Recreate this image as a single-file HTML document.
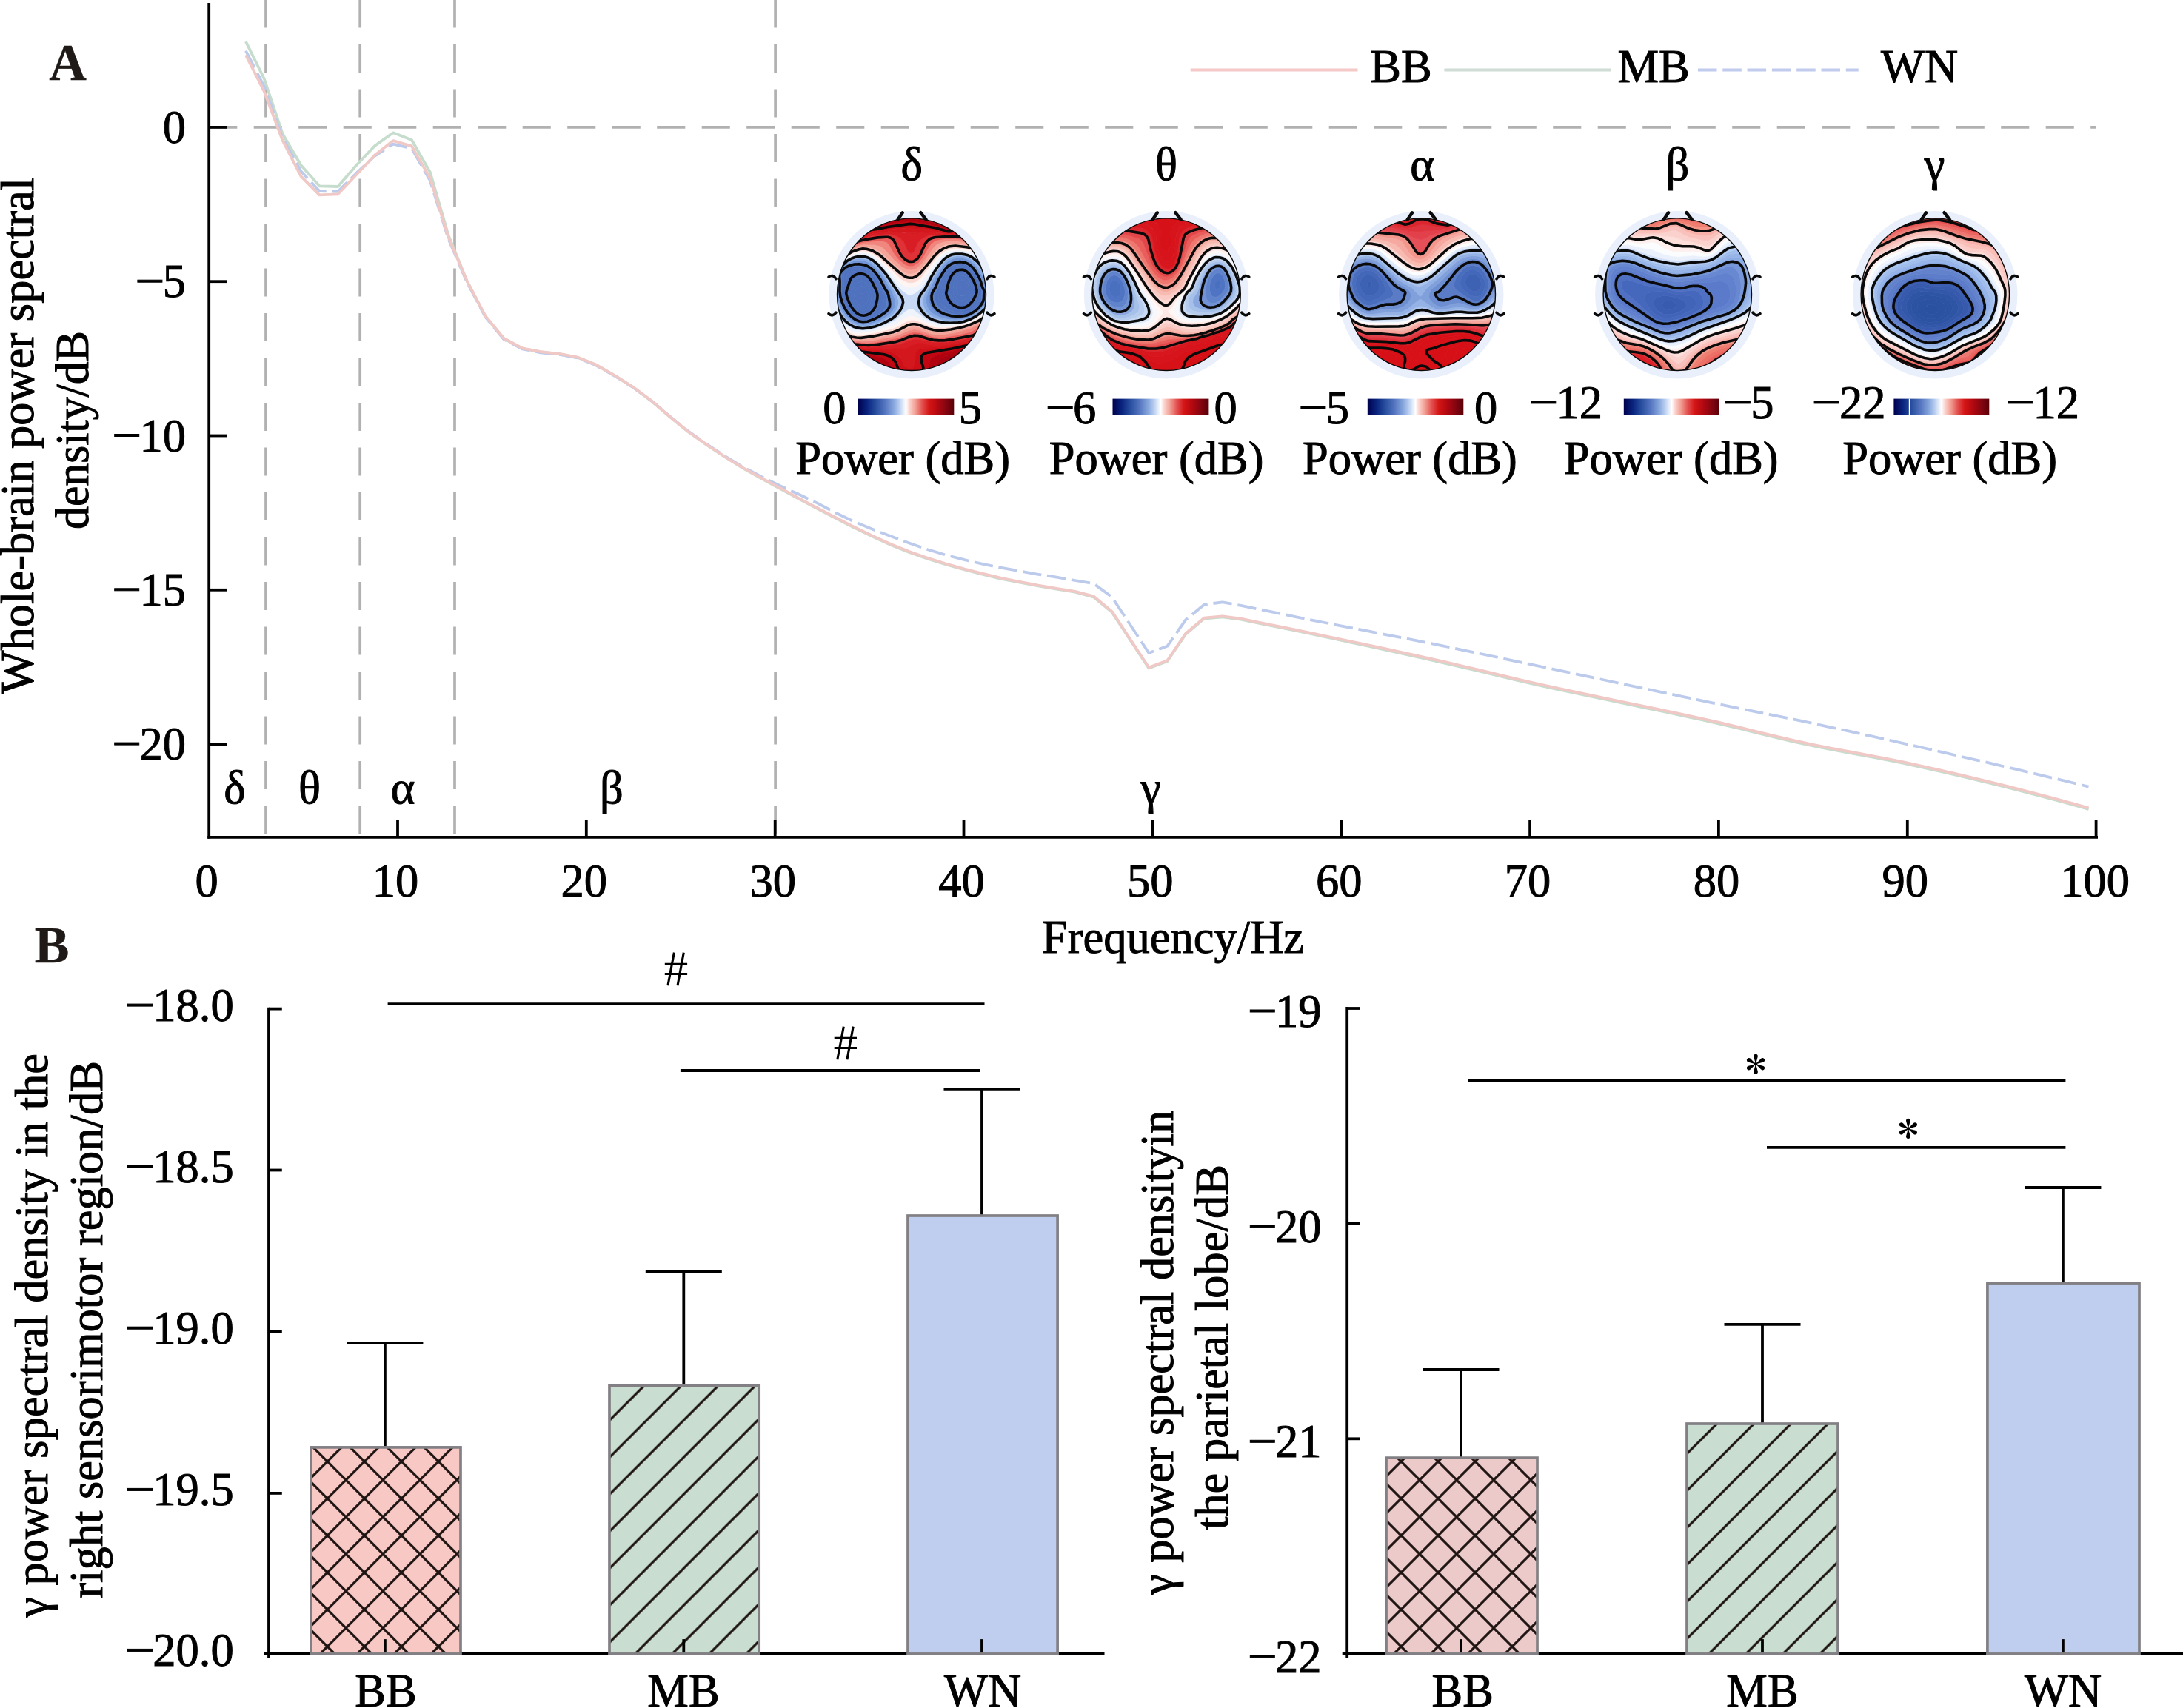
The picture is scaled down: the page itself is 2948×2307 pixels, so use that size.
<!DOCTYPE html>
<html><head><meta charset="utf-8"><title>Figure</title>
<style>html,body{margin:0;padding:0;background:#fff;}svg{display:block;}text{font-family:"Liberation Serif",serif;}</style>
</head><body>
<svg width="2948" height="2307" viewBox="0 0 2948 2307">
<rect width="2948" height="2307" fill="#fff"/>
<g fill="none" stroke="#b1b1b1" stroke-width="3.7" stroke-dasharray="38.1 22.4">
<path d="M282.2 171.9 H2831"/>
<path d="M359.0 -0.6 V1126.7"/>
<path d="M486.2 -0.6 V1126.7"/>
<path d="M614.0 -0.6 V1126.7"/>
<path d="M1047.1 -0.6 V1126.7"/>
</g>
<path d="M331.9 56.1 L356.8 106.5 L381.7 181.0 L406.5 223.3 L431.4 251.3 L456.3 252.0 L481.2 223.3 L506.1 197.0 L531.0 179.3 L555.9 189.0 L580.8 232.5 L605.6 318.0 L630.5 379.3 L655.4 427.1 L680.3 457.3 L705.2 470.6 L730.1 475.4 L755.0 478.1 L779.9 482.8 L804.7 492.8 L829.6 507.1 L854.5 522.8 L879.4 541.4 L904.3 562.8 L929.2 583.0 L954.1 600.7 L979.0 617.2 L1003.8 632.6 L1028.7 646.5 L1053.6 660.1 L1078.5 673.7 L1103.4 686.9 L1128.3 699.9 L1153.2 712.5 L1178.1 724.6 L1202.9 735.9 L1227.8 746.0 L1252.7 754.6 L1277.6 762.4 L1302.5 769.5 L1327.4 775.8 L1352.3 781.8 L1377.2 786.7 L1402.0 791.5 L1426.9 795.7 L1451.8 799.7 L1476.7 806.3 L1501.6 826.9 L1526.5 864.7 L1551.4 902.5 L1576.3 893.3 L1601.1 856.7 L1626.0 835.6 L1650.9 833.3 L1675.8 836.7 L1700.7 841.8 L1725.6 846.8 L1750.5 852.0 L1775.4 857.2 L1800.2 862.5 L1825.1 867.8 L1850.0 873.2 L1874.9 878.6 L1899.8 884.1 L1924.7 889.7 L1949.6 895.3 L1974.5 901.1 L1999.4 907.0 L2024.2 913.0 L2049.1 918.9 L2074.0 924.6 L2098.9 930.1 L2123.8 935.5 L2148.7 940.7 L2173.6 945.9 L2198.5 951.1 L2223.3 956.3 L2248.2 961.5 L2273.1 966.8 L2298.0 972.2 L2322.9 977.8 L2347.8 983.7 L2372.7 989.9 L2397.6 996.0 L2422.4 1001.8 L2447.3 1007.2 L2472.2 1012.1 L2497.1 1016.8 L2522.0 1021.4 L2546.9 1026.1 L2571.8 1031.2 L2596.7 1036.6 L2621.5 1042.2 L2646.4 1048.0 L2671.3 1053.9 L2696.2 1060.0 L2721.1 1066.2 L2746.0 1072.6 L2770.9 1079.2 L2795.8 1086.0 L2820.6 1092.9" fill="none" stroke="#c6dccd" stroke-width="3.8" stroke-linejoin="round"/>
<path d="M331.9 68.7 L356.8 116.8 L381.7 186.7 L406.5 231.3 L431.4 258.1 L456.3 258.8 L481.2 234.0 L506.1 210.7 L531.0 194.7 L555.9 200.4 L580.8 243.9 L605.6 323.0 L630.5 380.9 L655.4 428.0 L680.3 458.2 L705.2 471.4 L730.1 476.3 L755.0 478.8 L779.9 483.3 L804.7 493.3 L829.6 507.5 L854.5 523.0 L879.4 541.0 L904.3 562.2 L929.2 582.2 L954.1 599.8 L979.0 616.2 L1003.8 631.0 L1028.7 644.1 L1053.6 656.3 L1078.5 667.6 L1103.4 679.4 L1128.3 692.5 L1153.2 704.5 L1178.1 714.7 L1202.9 724.3 L1227.8 733.5 L1252.7 742.2 L1277.6 749.7 L1302.5 756.2 L1327.4 761.9 L1352.3 766.8 L1377.2 771.4 L1402.0 775.8 L1426.9 779.7 L1451.8 784.0 L1476.7 788.1 L1501.6 806.4 L1526.5 844.2 L1551.4 882.0 L1576.3 872.8 L1601.1 837.3 L1626.0 816.7 L1650.9 813.3 L1675.8 817.9 L1700.7 822.9 L1725.6 828.2 L1750.5 833.3 L1775.4 838.3 L1800.2 843.2 L1825.1 848.1 L1850.0 852.9 L1874.9 857.8 L1899.8 862.6 L1924.7 867.6 L1949.6 872.6 L1974.5 877.8 L1999.4 883.0 L2024.2 888.3 L2049.1 893.6 L2074.0 898.8 L2098.9 904.1 L2123.8 909.4 L2148.7 914.7 L2173.6 920.0 L2198.5 925.3 L2223.3 930.6 L2248.2 935.8 L2273.1 941.1 L2298.0 946.3 L2322.9 951.5 L2347.8 956.6 L2372.7 961.6 L2397.6 966.6 L2422.4 971.7 L2447.3 976.9 L2472.2 982.3 L2497.1 987.7 L2522.0 993.2 L2546.9 998.7 L2571.8 1004.3 L2596.7 1010.0 L2621.5 1015.6 L2646.4 1021.4 L2671.3 1027.1 L2696.2 1032.9 L2721.1 1038.7 L2746.0 1044.6 L2770.9 1050.6 L2795.8 1056.5 L2820.6 1062.6" fill="none" stroke="#bccaec" stroke-width="3.8" stroke-linejoin="round" stroke-dasharray="25.5 7.8"/>
<path d="M331.9 74.4 L356.8 123.7 L381.7 190.0 L406.5 238.2 L431.4 263.4 L456.3 262.3 L481.2 236.0 L506.1 209.6 L531.0 190.1 L555.9 197.4 L580.8 240.5 L605.6 320.7 L630.5 379.4 L655.4 426.7 L680.3 457.0 L705.2 470.3 L730.1 475.1 L755.0 477.8 L779.9 482.5 L804.7 492.5 L829.6 506.8 L854.5 522.5 L879.4 541.1 L904.3 562.5 L929.2 582.7 L954.1 600.4 L979.0 617.0 L1003.8 632.2 L1028.7 645.8 L1053.6 659.2 L1078.5 672.8 L1103.4 686.0 L1128.3 699.0 L1153.2 711.6 L1178.1 723.7 L1202.9 735.0 L1227.8 745.1 L1252.7 753.7 L1277.6 761.5 L1302.5 768.6 L1327.4 774.9 L1352.3 780.9 L1377.2 785.8 L1402.0 790.6 L1426.9 794.8 L1451.8 798.8 L1476.7 805.3 L1501.6 825.9 L1526.5 863.7 L1551.4 901.5 L1576.3 892.3 L1601.1 855.7 L1626.0 834.6 L1650.9 832.3 L1675.8 835.7 L1700.7 840.8 L1725.6 845.8 L1750.5 850.9 L1775.4 856.1 L1800.2 861.3 L1825.1 866.5 L1850.0 871.8 L1874.9 877.2 L1899.8 882.6 L1924.7 888.1 L1949.6 893.7 L1974.5 899.5 L1999.4 905.4 L2024.2 911.4 L2049.1 917.3 L2074.0 923.0 L2098.9 928.5 L2123.8 933.9 L2148.7 939.1 L2173.6 944.3 L2198.5 949.5 L2223.3 954.7 L2248.2 959.9 L2273.1 965.2 L2298.0 970.6 L2322.9 976.2 L2347.8 982.1 L2372.7 988.3 L2397.6 994.4 L2422.4 1000.2 L2447.3 1005.6 L2472.2 1010.5 L2497.1 1015.2 L2522.0 1019.8 L2546.9 1024.5 L2571.8 1029.6 L2596.7 1035.0 L2621.5 1040.6 L2646.4 1046.4 L2671.3 1052.3 L2696.2 1058.4 L2721.1 1064.6 L2746.0 1071.0 L2770.9 1077.6 L2795.8 1084.4 L2820.6 1091.3" fill="none" stroke="#f0c8c5" stroke-width="3.8" stroke-linejoin="round"/>
<g stroke="#000" stroke-width="3.8" fill="none">
<path d="M282.2 4 V1132.8000000000002"/>
<path d="M280.3 1130.9 H2833"/>
<path d="M282.2 171.9 H306"/>
<path d="M282.2 380.2 H306"/>
<path d="M282.2 588.5 H306"/>
<path d="M282.2 796.8 H306"/>
<path d="M282.2 1005.1 H306"/>
<path d="M537.0 1130.9 V1107"/>
<path d="M791.8 1130.9 V1107"/>
<path d="M1046.7 1130.9 V1107"/>
<path d="M1301.5 1130.9 V1107"/>
<path d="M1556.3 1130.9 V1107"/>
<path d="M1811.2 1130.9 V1107"/>
<path d="M2066.1 1130.9 V1107"/>
<path d="M2320.9 1130.9 V1107"/>
<path d="M2575.8 1130.9 V1107"/>
<path d="M2830.6 1130.9 V1107"/>
</g>
<g font-family="Liberation Serif, serif" font-size="62.5" fill="#000" stroke="#000" stroke-width="1.0">
<text x="219.8" y="192.9">0</text>
<text x="219.8" y="401.2">5</text>
<rect x="185.9" y="378.2" width="33.0" height="3.0" fill="#000"/>
<text x="188.5" y="609.5">10</text>
<rect x="154.7" y="586.5" width="33.0" height="3.0" fill="#000"/>
<text x="188.5" y="817.8">15</text>
<rect x="154.7" y="794.8" width="33.0" height="3.0" fill="#000"/>
<text x="188.5" y="1026.1">20</text>
<rect x="154.7" y="1003.1" width="33.0" height="3.0" fill="#000"/>
<text x="279.1" y="1211.3" text-anchor="middle">0</text>
<text x="534.0" y="1211.3" text-anchor="middle">10</text>
<text x="788.8" y="1211.3" text-anchor="middle">20</text>
<text x="1043.7" y="1211.3" text-anchor="middle">30</text>
<text x="1298.5" y="1211.3" text-anchor="middle">40</text>
<text x="1553.3" y="1211.3" text-anchor="middle">50</text>
<text x="1808.2" y="1211.3" text-anchor="middle">60</text>
<text x="2063.1" y="1211.3" text-anchor="middle">70</text>
<text x="2317.9" y="1211.3" text-anchor="middle">80</text>
<text x="2572.8" y="1211.3" text-anchor="middle">90</text>
<text x="2829.1" y="1211.3" text-anchor="middle">100</text>
<text x="1584" y="1287" text-anchor="middle">Frequency/Hz</text>
<text transform="translate(44.5 937.4) rotate(-90)">Whole-brain power spectral</text>
<text transform="translate(118.8 715) rotate(-90)" textLength="268" lengthAdjust="spacingAndGlyphs">density/dB</text>
<text x="317" y="1085" text-anchor="middle">δ</text>
<text x="418" y="1085" text-anchor="middle">θ</text>
<text x="544" y="1085" text-anchor="middle">α</text>
<text x="826" y="1085" text-anchor="middle">β</text>
<text x="1554" y="1085" text-anchor="middle">γ</text>
<text x="1850.3" y="110.5">BB</text>
<text x="2184.4" y="110.5">MB</text>
<text x="2539.9" y="110.5">WN</text>
</g>
<path d="M1607.7 94.5 H1833.5" stroke="#f5c9c7" stroke-width="3.8"/>
<path d="M1950.4 94.5 H2175.6" stroke="#cfddd6" stroke-width="3.8"/>
<path d="M2293 94.5 H2509.7" stroke="#c0cbee" stroke-width="3.8" stroke-dasharray="25.5 7.8"/>
<g font-family="Liberation Serif, serif" font-size="70" font-weight="bold" fill="#1f1a17" stroke="#1f1a17" stroke-width="0.4">
<text x="66.3" y="108">A</text>
<text x="46.8" y="1299.8">B</text>
</g>
<clipPath id="t1c"><ellipse cx="1231" cy="397.7" rx="100.5" ry="102.8"/></clipPath>
<ellipse cx="1231" cy="398.2" rx="111.5" ry="113.3" fill="#e9f0fb"/>
<g clip-path="url(#t1c)">
<rect x="1128.5" y="292.9" width="205.0" height="209.6" fill="#dce7fa"/>
<path d="M1299.0 387.7 1300.2 387.7 1300.7 388.4 1300.2 389.8 1298.9 389.7 1299.0 387.7ZM1162.8 395.9 1164.0 396.2 1165.3 398.4 1165.2 400.1 1164.0 402.1 1162.7 402.1 1161.5 401.1 1161.0 399.6 1161.3 397.1 1162.8 395.9Z" fill="#4f71be" stroke="#4f71be" stroke-width="0.7"/>
<path d="M1297.8 377.9 1301.5 378.2 1304.0 379.8 1306.8 383.4 1308.7 388.4 1308.6 392.1 1306.6 395.9 1304.0 398.3 1300.2 399.6 1296.5 398.9 1294.1 397.1 1292.4 394.6 1291.3 390.9 1291.4 387.1 1292.8 382.7 1295.2 379.3 1297.8 377.9ZM1298.6 388.4 1299.0 389.8 1300.4 389.6 1300.7 388.4 1300.2 387.7 1299.0 387.7 1298.6 388.4ZM1161.5 387.0 1165.2 387.1 1168.8 389.6 1171.2 393.4 1172.6 398.4 1172.5 403.4 1170.9 408.4 1168.3 412.1 1165.2 413.6 1161.5 412.7 1158.1 409.6 1155.0 404.6 1153.6 399.6 1153.9 395.9 1155.4 392.1 1157.8 389.2 1161.5 387.0ZM1162.7 395.9 1161.3 397.1 1161.0 399.6 1161.5 401.1 1162.7 402.1 1164.0 402.1 1165.2 400.1 1165.3 398.4 1164.0 396.2 1162.7 395.9Z" fill="#4f71be" stroke="#4f71be" stroke-width="0.7"/>
<path d="M1297.8 372.1 1300.2 372.2 1302.8 373.2 1307.1 377.1 1311.5 384.5 1313.1 390.9 1311.9 395.9 1308.3 400.9 1304.0 404.4 1299.0 405.8 1295.2 405.0 1291.2 402.1 1288.0 397.1 1286.9 392.1 1287.6 384.6 1289.9 378.4 1294.0 373.6 1297.8 372.1ZM1296.6 378.4 1294.0 380.7 1292.0 384.6 1291.3 388.4 1291.6 392.1 1292.8 395.3 1295.2 398.2 1297.8 399.4 1301.5 399.4 1305.2 397.3 1307.5 394.6 1308.8 390.9 1308.5 387.1 1306.5 382.8 1302.8 378.9 1299.0 377.7 1296.6 378.4ZM1161.5 380.5 1164.0 380.3 1166.5 380.8 1170.2 383.5 1174.3 389.6 1177.0 397.1 1176.8 404.6 1174.5 412.1 1171.0 417.1 1169.0 418.6 1166.5 419.4 1164.0 419.3 1161.5 418.5 1156.5 414.3 1152.0 407.1 1149.5 399.6 1149.7 394.6 1152.8 387.9 1156.5 383.3 1161.5 380.5ZM1161.2 387.1 1157.8 389.2 1155.2 392.5 1153.7 397.1 1153.8 400.9 1155.6 405.9 1159.0 410.7 1162.8 413.3 1165.2 413.6 1168.3 412.1 1170.9 408.4 1172.5 403.4 1172.6 398.4 1171.2 393.4 1167.8 388.6 1164.0 386.8 1161.2 387.1Z" fill="#4f72bf" stroke="#4f72bf" stroke-width="0.7"/>
<path d="M1295.2 368.1 1299.0 367.6 1301.5 368.2 1306.5 371.6 1309.9 375.9 1312.8 380.6 1315.2 386.4 1316.3 390.9 1315.7 395.9 1310.3 404.6 1305.2 409.1 1300.2 411.0 1296.5 411.0 1294.0 410.3 1289.1 407.1 1285.2 402.1 1282.8 395.9 1282.7 392.1 1283.5 385.9 1286.3 377.1 1290.2 371.4 1292.8 369.3 1295.2 368.1ZM1297.3 372.1 1295.2 372.9 1292.8 374.6 1289.9 378.4 1287.6 384.6 1286.9 392.1 1288.0 397.1 1291.2 402.1 1295.2 405.0 1299.0 405.8 1304.0 404.4 1308.3 400.9 1311.9 395.9 1313.1 390.9 1311.5 384.5 1309.0 379.8 1306.5 376.5 1304.0 374.1 1301.5 372.6 1297.3 372.1ZM1161.5 374.6 1165.2 374.7 1167.8 375.5 1172.8 379.7 1175.3 383.4 1179.5 392.1 1181.3 398.4 1181.1 402.1 1179.9 408.4 1177.0 415.9 1172.8 420.9 1170.2 422.4 1166.5 423.3 1164.0 423.2 1160.2 421.9 1157.2 419.6 1154.0 416.1 1148.8 407.1 1146.5 401.1 1145.7 397.1 1146.5 392.9 1150.0 384.6 1152.2 380.9 1156.5 376.8 1161.5 374.6ZM1160.3 380.9 1156.4 383.4 1152.4 388.4 1149.7 394.6 1149.5 399.6 1152.0 407.1 1156.5 414.3 1161.5 418.5 1164.0 419.3 1166.5 419.4 1169.0 418.6 1171.0 417.1 1174.5 412.1 1176.8 404.6 1177.0 397.1 1174.3 389.6 1170.2 383.5 1167.8 381.5 1165.2 380.4 1162.8 380.3 1160.3 380.9Z" fill="#4f72bf" stroke="#4f72bf" stroke-width="0.7"/>
<path d="M1295.2 364.5 1299.0 364.2 1301.6 364.6 1305.2 366.7 1308.5 369.6 1312.1 374.6 1315.2 380.2 1318.0 387.1 1319.0 392.1 1318.4 397.1 1312.8 407.6 1306.5 413.4 1304.0 414.7 1300.2 415.5 1296.5 415.5 1292.8 414.7 1289.0 413.0 1286.0 410.9 1283.5 408.4 1281.0 404.6 1278.5 399.6 1277.7 395.9 1280.4 383.4 1284.0 374.1 1289.0 367.7 1291.6 365.9 1295.2 364.5ZM1294.6 368.4 1292.3 369.6 1289.6 372.1 1285.8 378.4 1283.3 387.1 1282.8 395.9 1285.2 402.1 1289.1 407.1 1294.0 410.3 1296.5 411.0 1300.2 411.0 1305.2 409.1 1310.3 404.6 1315.7 395.9 1316.3 390.9 1315.2 386.4 1312.8 380.6 1309.9 375.9 1306.5 371.6 1304.0 369.5 1300.2 367.8 1297.8 367.6 1294.6 368.4ZM1161.5 369.6 1165.2 370.0 1169.0 371.4 1171.8 373.4 1175.2 377.1 1178.4 382.1 1183.8 393.4 1185.1 398.4 1184.8 403.4 1183.2 410.9 1180.5 417.1 1177.5 420.9 1174.0 423.8 1170.2 425.5 1166.5 426.2 1162.8 425.8 1159.0 424.3 1156.0 422.1 1152.6 418.4 1149.2 413.4 1146.5 408.2 1143.7 400.9 1142.7 395.9 1147.8 379.0 1149.2 375.9 1151.5 373.6 1155.2 371.4 1157.8 370.3 1161.5 369.6ZM1161.3 374.6 1156.5 376.8 1152.2 380.9 1150.0 384.6 1146.5 392.9 1145.7 397.1 1146.5 401.1 1148.8 407.1 1154.0 416.1 1157.2 419.6 1160.2 421.9 1164.0 423.2 1166.5 423.3 1170.2 422.4 1172.8 420.9 1177.0 415.9 1179.9 408.4 1181.1 402.1 1181.3 398.4 1179.5 392.1 1175.3 383.4 1172.8 379.7 1167.8 375.5 1164.0 374.5 1161.3 374.6Z" fill="#4f72bf" stroke="#4f72bf" stroke-width="0.7"/>
<path d="M1292.8 362.1 1297.8 361.4 1301.5 361.8 1305.2 363.5 1309.0 366.6 1312.8 371.5 1316.8 378.4 1319.4 384.6 1321.0 390.9 1321.3 394.6 1320.7 398.4 1318.6 404.6 1316.5 408.9 1314.0 412.2 1310.2 415.5 1306.5 417.6 1302.8 418.8 1297.8 419.2 1292.8 418.6 1287.8 417.2 1284.0 415.3 1280.2 412.5 1277.5 409.6 1274.3 404.6 1273.0 400.9 1272.7 397.1 1273.3 393.4 1276.8 382.1 1279.9 374.6 1285.2 366.8 1289.0 363.8 1292.8 362.1ZM1294.7 364.6 1291.6 365.9 1289.0 367.7 1286.1 370.9 1283.7 374.6 1280.0 384.6 1277.8 394.7 1277.8 397.1 1279.1 400.9 1281.7 405.9 1286.0 410.9 1289.0 413.0 1292.8 414.7 1296.5 415.5 1300.2 415.5 1304.0 414.7 1306.5 413.4 1312.8 407.6 1318.4 397.1 1319.1 394.6 1319.0 391.9 1318.0 387.1 1315.2 380.2 1312.1 374.6 1308.5 369.6 1305.2 366.7 1301.5 364.6 1297.8 364.2 1294.7 364.6ZM1156.5 365.9 1161.5 365.8 1166.5 366.7 1171.5 369.2 1175.0 372.1 1178.2 375.9 1181.2 380.9 1186.7 392.1 1188.5 397.1 1189.0 402.1 1188.5 407.1 1187.4 412.1 1185.7 415.9 1181.8 420.9 1177.8 424.4 1174.0 426.7 1169.0 428.3 1165.2 428.6 1160.2 427.4 1156.5 425.4 1152.8 422.1 1148.8 417.1 1145.9 412.1 1142.8 405.1 1140.7 398.4 1140.4 394.6 1142.5 384.6 1143.4 373.4 1144.1 370.9 1145.2 369.2 1147.8 367.5 1156.5 365.9ZM1161.0 369.6 1155.2 371.4 1151.5 373.6 1149.2 375.9 1147.8 379.0 1143.1 393.4 1142.8 397.1 1144.1 402.1 1147.2 409.6 1150.2 415.2 1153.6 419.6 1156.5 422.6 1160.2 424.9 1164.0 426.1 1167.8 426.1 1171.5 425.1 1174.7 423.4 1178.7 419.6 1181.2 415.9 1182.9 412.1 1184.6 404.6 1185.0 397.1 1183.8 393.4 1178.4 382.1 1174.3 375.9 1171.5 373.2 1167.9 370.9 1164.0 369.8 1161.0 369.6Z" fill="#5072bf" stroke="#5072bf" stroke-width="0.7"/>
<path d="M1292.8 359.3 1297.8 358.8 1302.7 359.6 1306.5 361.4 1310.3 364.6 1314.1 369.6 1319.0 378.2 1321.5 384.8 1323.3 392.1 1323.3 397.1 1322.4 403.4 1321.2 407.1 1319.0 411.2 1316.2 414.6 1311.5 418.4 1307.8 420.4 1302.8 421.8 1296.5 422.2 1290.2 421.5 1284.0 419.8 1279.0 417.5 1274.9 414.6 1271.3 410.9 1269.0 407.2 1267.4 402.1 1267.3 398.4 1268.3 394.6 1273.3 380.9 1277.7 372.1 1281.0 367.1 1284.5 363.4 1288.4 360.9 1292.8 359.3ZM1292.7 362.1 1289.0 363.8 1285.2 366.8 1279.9 374.6 1276.8 382.1 1273.3 393.4 1272.7 397.1 1273.0 400.9 1274.3 404.6 1277.5 409.6 1280.2 412.5 1284.0 415.3 1287.8 417.2 1292.8 418.6 1297.8 419.2 1302.8 418.8 1306.5 417.6 1310.2 415.5 1314.0 412.2 1316.5 408.9 1318.6 404.6 1320.7 398.4 1321.3 394.7 1321.0 390.9 1319.4 384.6 1316.8 378.4 1312.8 371.5 1309.0 366.6 1305.2 363.5 1301.5 361.8 1297.8 361.4 1292.7 362.1ZM1147.8 363.3 1156.5 362.3 1162.8 362.7 1169.0 364.4 1173.6 367.1 1177.8 371.0 1182.4 377.1 1191.6 395.9 1192.8 400.9 1193.2 405.9 1192.8 410.9 1191.5 414.6 1188.9 418.4 1183.6 423.4 1178.1 427.1 1174.0 429.1 1169.0 430.5 1164.0 430.6 1160.2 429.6 1155.4 427.1 1151.5 423.8 1147.1 418.4 1141.5 407.8 1139.1 400.9 1138.3 395.9 1139.6 382.1 1139.3 372.1 1140.2 369.2 1142.6 365.9 1144.2 364.6 1147.8 363.3ZM1156.3 365.9 1147.8 367.5 1145.2 369.2 1144.1 370.9 1143.4 373.4 1142.5 384.6 1140.4 394.6 1140.7 398.4 1142.8 405.1 1145.9 412.1 1148.8 417.1 1152.8 422.1 1156.5 425.4 1160.2 427.4 1165.2 428.6 1169.0 428.3 1174.0 426.7 1177.8 424.4 1181.8 420.9 1185.7 415.9 1187.4 412.1 1188.5 407.1 1189.0 402.1 1188.5 397.1 1186.7 392.1 1180.6 379.6 1177.8 375.3 1174.0 371.2 1170.2 368.4 1166.5 366.7 1161.5 365.8 1156.3 365.9Z" fill="#5073c0" stroke="#5073c0" stroke-width="0.7"/>
<path d="M1291.5 356.9 1297.8 356.3 1302.8 357.1 1307.8 359.4 1311.5 362.6 1315.2 367.5 1320.3 375.9 1322.8 382.1 1325.5 392.1 1325.2 404.6 1323.9 408.4 1320.8 413.4 1317.3 417.1 1311.5 421.3 1307.8 423.1 1302.8 424.3 1295.2 424.9 1287.8 424.2 1281.5 422.8 1275.2 420.2 1270.6 417.1 1266.8 413.4 1263.8 408.4 1262.4 403.4 1262.2 399.6 1263.0 395.9 1266.3 389.6 1270.7 378.4 1275.8 369.6 1279.3 364.6 1282.8 361.1 1286.5 358.7 1291.5 356.9ZM1291.6 359.6 1287.8 361.2 1284.0 363.8 1280.2 368.1 1277.0 373.4 1273.3 380.9 1267.9 395.9 1267.2 399.6 1267.6 403.4 1269.6 408.4 1272.4 412.1 1276.5 415.9 1280.7 418.4 1286.5 420.7 1292.8 421.9 1299.0 422.2 1304.0 421.5 1307.8 420.4 1311.5 418.4 1316.2 414.6 1319.2 410.9 1321.5 406.4 1322.6 402.1 1323.4 395.9 1323.1 390.9 1321.1 383.4 1318.5 377.1 1314.0 369.4 1310.2 364.6 1306.5 361.4 1301.5 359.3 1296.5 358.8 1291.6 359.6ZM1154.0 359.6 1160.2 359.4 1166.5 360.5 1171.5 362.5 1176.5 366.1 1181.0 370.9 1185.5 377.2 1196.1 398.4 1197.6 410.9 1196.6 414.6 1195.2 417.1 1191.6 420.9 1184.9 425.9 1178.1 429.6 1171.5 432.1 1166.5 432.8 1161.5 432.1 1156.5 430.1 1151.5 426.6 1146.5 421.2 1143.0 415.9 1140.0 409.6 1137.0 400.9 1136.2 393.4 1136.8 380.9 1136.1 372.1 1136.8 369.6 1140.2 364.9 1142.8 362.6 1147.8 360.7 1154.0 359.6ZM1147.5 363.4 1144.2 364.6 1142.6 365.9 1140.2 369.2 1139.3 372.1 1139.6 382.1 1138.3 395.9 1139.1 400.9 1141.5 407.8 1147.1 418.4 1151.5 423.8 1155.4 427.1 1160.2 429.6 1164.0 430.6 1169.0 430.5 1174.0 429.1 1178.1 427.1 1183.6 423.4 1188.9 418.4 1191.5 414.6 1192.8 410.9 1193.2 405.9 1192.8 400.9 1191.6 395.9 1182.4 377.1 1177.8 371.0 1173.6 367.1 1169.0 364.4 1162.8 362.7 1155.2 362.4 1147.5 363.4Z" fill="#5174c1" stroke="#5174c1" stroke-width="0.7"/>
<path d="M1290.2 354.5 1296.5 353.6 1302.8 354.5 1307.8 356.6 1312.8 360.6 1316.5 365.3 1322.1 374.6 1329.4 394.6 1328.8 395.9 1328.5 403.4 1327.6 407.1 1321.5 416.1 1317.4 419.6 1310.2 424.3 1300.2 427.0 1292.8 427.4 1284.0 426.6 1276.6 424.6 1270.8 422.1 1265.4 418.4 1262.1 414.6 1259.5 409.6 1258.2 404.6 1258.0 399.6 1259.0 395.2 1262.7 389.6 1267.3 378.4 1272.5 369.6 1276.8 363.4 1280.2 359.5 1285.2 356.2 1290.2 354.5ZM1290.7 357.1 1286.5 358.7 1282.7 361.1 1279.0 365.0 1275.0 370.9 1270.2 379.4 1266.3 389.6 1263.0 395.9 1262.2 399.6 1262.4 403.4 1263.8 408.4 1266.8 413.4 1270.6 417.1 1275.2 420.2 1281.5 422.8 1287.8 424.2 1295.2 424.9 1302.8 424.3 1307.8 423.1 1311.5 421.3 1317.3 417.1 1320.8 413.4 1323.9 408.4 1325.2 404.6 1325.5 392.1 1322.8 382.1 1320.3 375.9 1315.0 367.1 1311.0 362.1 1306.5 358.7 1301.5 356.7 1296.5 356.2 1290.7 357.1ZM1154.0 357.0 1160.2 356.7 1167.8 358.0 1172.8 360.2 1177.8 363.8 1183.2 369.6 1188.6 377.1 1194.9 389.6 1198.4 394.6 1199.7 398.4 1201.8 410.9 1201.1 414.6 1199.0 418.5 1195.4 422.1 1187.7 427.3 1180.2 431.1 1171.5 434.2 1165.2 434.8 1160.2 433.9 1155.2 431.8 1150.2 428.3 1144.5 422.1 1141.2 417.1 1137.7 409.6 1134.9 400.9 1134.0 393.4 1134.1 379.6 1133.5 373.4 1134.1 369.6 1136.9 365.9 1141.5 361.4 1147.8 358.5 1154.0 357.0ZM1153.3 359.6 1147.0 360.9 1142.8 362.6 1140.2 364.9 1136.8 369.6 1136.1 372.1 1136.8 380.9 1136.2 393.4 1137.0 400.9 1140.0 409.6 1143.0 415.9 1146.5 421.2 1151.5 426.6 1156.5 430.1 1161.5 432.1 1166.5 432.8 1171.5 432.1 1178.1 429.6 1184.9 425.9 1191.6 420.9 1195.2 417.1 1196.6 414.6 1197.6 410.9 1196.1 398.4 1185.5 377.1 1181.0 370.9 1176.5 366.1 1171.5 362.5 1166.5 360.5 1160.2 359.4 1153.3 359.6Z" fill="#597dc7" stroke="#597dc7" stroke-width="0.7"/>
<path d="M1289.0 351.9 1296.5 351.0 1302.8 351.8 1309.0 354.5 1313.9 358.4 1318.0 363.4 1324.1 373.4 1329.0 386.0 1332.5 392.1 1333.1 394.6 1331.8 402.1 1330.3 407.1 1328.2 410.9 1323.0 417.1 1317.8 421.6 1311.5 425.6 1305.2 428.0 1299.0 429.3 1291.5 429.8 1282.8 429.2 1275.2 427.5 1267.9 424.6 1262.8 421.3 1258.7 417.1 1255.9 412.1 1254.6 407.1 1254.4 400.9 1255.6 395.9 1260.5 387.1 1264.3 378.4 1267.8 372.1 1274.0 362.9 1279.0 357.1 1284.0 353.7 1289.0 351.9ZM1289.7 354.6 1284.0 356.9 1280.1 359.6 1275.9 364.6 1270.2 373.4 1267.3 378.4 1262.7 389.6 1258.7 395.9 1258.0 400.9 1258.4 405.9 1259.9 410.9 1262.8 415.6 1266.9 419.6 1271.5 422.5 1277.8 425.0 1285.2 426.8 1294.0 427.4 1301.5 426.8 1307.8 425.2 1311.5 423.6 1319.0 418.4 1321.7 415.9 1325.4 410.9 1327.8 406.6 1328.5 403.4 1329.3 393.4 1326.9 388.4 1324.6 380.9 1322.1 374.6 1316.5 365.3 1312.8 360.6 1307.8 356.6 1302.8 354.5 1296.5 353.6 1289.7 354.6ZM1154.0 354.5 1161.5 354.1 1169.0 355.5 1174.9 358.4 1180.2 362.8 1186.4 369.6 1191.6 377.1 1196.9 387.1 1201.7 394.6 1204.8 404.6 1205.5 409.6 1204.9 414.6 1203.1 418.4 1200.0 422.1 1195.2 425.9 1187.8 430.3 1180.2 433.6 1172.7 436.0 1166.5 436.8 1160.2 436.0 1154.0 433.5 1148.4 429.6 1142.8 423.5 1139.0 417.7 1135.3 409.6 1132.7 400.9 1131.6 392.1 1131.1 374.6 1132.0 369.6 1134.7 365.9 1141.5 359.8 1147.8 356.4 1154.0 354.5ZM1153.0 357.1 1146.5 358.9 1141.5 361.4 1136.9 365.9 1134.1 369.6 1133.5 373.4 1134.1 379.6 1133.9 392.1 1135.2 402.1 1138.2 410.9 1141.2 417.1 1145.2 423.0 1150.3 428.4 1155.2 431.8 1161.5 434.2 1166.5 434.8 1172.8 433.9 1180.8 430.9 1188.0 427.1 1195.4 422.1 1199.0 418.5 1201.1 414.7 1201.8 410.9 1199.7 398.4 1198.4 394.6 1194.9 389.6 1188.6 377.1 1183.2 369.6 1177.8 363.8 1172.8 360.2 1166.5 357.6 1159.0 356.6 1153.0 357.1Z" fill="#6185ce" stroke="#6185ce" stroke-width="0.7"/>
<path d="M1292.8 348.3 1300.2 348.6 1306.5 350.3 1311.9 353.4 1317.3 358.4 1321.0 363.4 1325.6 370.9 1334.7 389.6 1335.9 393.4 1335.9 398.4 1333.7 405.9 1329.9 412.1 1322.7 419.6 1314.0 426.0 1306.5 429.4 1299.0 431.4 1289.0 432.1 1279.0 431.2 1272.2 429.6 1265.4 427.1 1260.9 424.6 1256.5 421.0 1253.6 417.2 1251.4 412.1 1250.5 407.1 1250.7 402.1 1252.6 395.9 1262.7 375.9 1272.8 360.4 1277.8 354.8 1281.5 351.9 1286.5 349.6 1292.8 348.3ZM1288.1 352.1 1282.8 354.4 1277.8 358.3 1272.8 364.6 1267.0 373.4 1260.5 387.1 1255.6 395.9 1254.4 400.9 1254.6 407.1 1255.9 412.1 1258.7 417.1 1262.8 421.3 1267.9 424.6 1275.2 427.5 1282.8 429.2 1291.5 429.8 1300.2 429.1 1307.8 427.2 1312.8 424.9 1320.2 419.7 1324.2 415.9 1329.0 409.7 1330.8 405.9 1332.9 397.1 1332.9 393.4 1329.0 386.0 1323.4 372.1 1317.1 362.1 1312.8 357.3 1307.8 353.8 1301.5 351.5 1295.2 351.0 1288.1 352.1ZM1154.0 352.1 1161.5 351.4 1169.0 352.6 1175.2 355.5 1181.5 360.5 1187.8 367.5 1193.9 375.9 1205.0 394.6 1208.7 404.6 1209.3 409.7 1208.6 414.6 1206.2 419.6 1202.8 423.7 1197.8 427.6 1189.7 432.1 1181.5 435.7 1174.0 438.0 1166.5 439.0 1160.2 438.3 1154.0 436.1 1147.8 432.1 1141.6 425.9 1137.4 419.6 1133.3 410.9 1130.6 402.1 1129.4 394.6 1128.8 385.9 1128.8 374.6 1130.0 369.6 1131.4 367.1 1133.7 364.6 1142.8 357.3 1147.8 354.4 1154.0 352.1ZM1153.4 354.6 1146.5 356.9 1141.5 359.8 1134.7 365.9 1132.0 369.6 1131.1 374.6 1131.5 389.6 1133.0 402.1 1135.8 410.9 1139.4 418.4 1143.7 424.6 1149.0 430.1 1154.0 433.5 1160.2 436.0 1166.5 436.8 1172.8 436.0 1180.2 433.6 1187.8 430.3 1195.2 425.9 1200.0 422.1 1203.1 418.4 1204.9 414.6 1205.5 409.6 1204.8 404.6 1201.7 394.6 1196.9 387.1 1191.6 377.1 1186.4 369.6 1180.2 362.8 1174.0 357.8 1167.8 355.1 1160.2 354.0 1153.4 354.6Z" fill="#7296d8" stroke="#7296d8" stroke-width="0.7"/>
<path d="M1290.2 345.7 1299.0 345.7 1307.8 347.9 1315.2 352.8 1321.6 359.6 1328.0 369.6 1336.5 386.3 1336.5 406.0 1332.6 412.1 1326.6 418.4 1319.0 424.7 1311.5 429.1 1302.8 432.4 1296.5 433.7 1286.5 434.2 1277.8 433.6 1270.2 432.1 1262.8 429.6 1257.8 427.0 1253.2 423.4 1250.0 419.6 1247.5 414.6 1246.4 409.6 1246.4 403.4 1247.8 398.4 1252.9 389.6 1259.7 375.9 1269.2 360.9 1274.3 354.6 1279.0 350.3 1284.0 347.5 1290.2 345.7ZM1291.9 348.4 1286.5 349.6 1281.5 351.9 1276.6 355.9 1272.3 360.9 1262.7 375.9 1252.6 395.9 1250.7 402.1 1250.7 408.4 1251.8 413.4 1254.4 418.4 1257.7 422.1 1262.8 425.8 1267.8 428.2 1274.0 430.1 1281.5 431.6 1291.5 432.0 1300.2 431.2 1309.0 428.5 1315.2 425.3 1324.1 418.4 1330.8 410.9 1334.2 404.6 1336.1 397.1 1335.9 393.4 1335.2 390.9 1326.9 373.4 1321.0 363.4 1316.5 357.6 1311.5 353.1 1305.2 349.8 1299.0 348.4 1291.9 348.4ZM1155.2 349.5 1162.8 348.9 1170.2 350.1 1176.5 353.2 1182.9 358.4 1189.7 365.9 1196.2 374.6 1208.7 394.6 1211.7 400.9 1213.4 405.9 1213.5 410.9 1212.2 415.9 1209.4 420.9 1205.0 425.9 1199.8 429.6 1190.2 434.8 1181.5 438.3 1174.0 440.3 1166.5 441.2 1157.8 440.1 1151.5 437.5 1145.2 433.4 1139.3 427.1 1134.6 419.6 1130.7 410.9 1127.8 400.9 1126.5 391.3 1126.5 374.9 1128.5 368.4 1131.5 364.6 1144.0 354.6 1149.0 351.7 1155.2 349.5ZM1153.9 352.1 1147.8 354.4 1142.8 357.3 1133.7 364.6 1131.4 367.1 1130.0 369.6 1128.8 374.6 1128.8 385.9 1129.4 394.6 1130.6 402.1 1133.3 410.9 1137.4 419.6 1141.6 425.9 1147.8 432.1 1154.0 436.1 1160.2 438.3 1166.5 439.0 1174.0 438.0 1181.5 435.7 1189.7 432.1 1197.8 427.6 1202.8 423.7 1206.2 419.6 1208.6 414.6 1209.3 409.6 1208.7 404.7 1205.0 394.6 1193.9 375.9 1187.8 367.5 1181.5 360.5 1175.2 355.5 1169.0 352.6 1161.5 351.4 1153.9 352.1Z" fill="#88aae3" stroke="#88aae3" stroke-width="0.7"/>
<path d="M1287.8 343.3 1296.5 342.9 1305.2 344.2 1311.5 346.9 1317.8 351.5 1325.0 359.6 1333.5 373.4 1336.5 379.2 1336.5 386.3 1328.7 370.9 1324.2 363.4 1319.6 357.1 1314.0 351.8 1307.8 347.9 1301.5 346.1 1292.8 345.5 1285.2 347.0 1280.2 349.4 1276.7 352.1 1268.2 362.1 1261.1 373.4 1252.8 390.0 1247.8 398.4 1246.4 403.4 1246.4 409.6 1247.5 414.6 1250.2 420.0 1253.2 423.4 1257.8 427.0 1262.8 429.6 1267.8 431.4 1275.2 433.2 1281.5 434.0 1295.2 433.8 1305.2 431.6 1312.8 428.5 1317.8 425.5 1325.1 419.6 1330.4 414.6 1333.6 410.9 1336.5 406.0 1336.5 410.9 1330.6 417.1 1320.0 425.9 1312.8 430.1 1304.0 433.8 1296.5 435.5 1287.8 436.3 1279.0 436.1 1270.2 435.0 1262.8 433.1 1257.3 430.9 1251.5 427.2 1247.2 423.4 1243.5 418.4 1241.3 413.4 1240.6 408.4 1241.1 403.4 1243.4 397.1 1249.0 390.7 1257.2 374.6 1266.8 359.6 1272.8 352.4 1276.9 348.4 1281.5 345.5 1287.8 343.3ZM1156.5 346.9 1164.0 346.4 1171.5 347.7 1177.6 350.9 1184.0 356.0 1190.9 363.4 1197.9 372.1 1217.3 400.9 1219.5 405.9 1219.3 410.9 1216.1 418.4 1212.4 423.4 1206.5 429.2 1196.5 435.0 1189.0 438.4 1180.2 441.4 1170.2 443.4 1162.8 443.5 1154.0 441.8 1145.2 436.8 1138.8 430.9 1132.4 420.9 1127.2 408.4 1126.5 406.1 1126.5 391.3 1127.8 400.9 1130.3 409.6 1134.0 418.4 1138.4 425.9 1142.5 430.9 1147.8 435.2 1154.0 438.8 1160.2 440.6 1169.0 441.1 1179.0 439.1 1190.2 434.8 1200.2 429.4 1206.3 424.6 1211.0 418.4 1213.3 412.1 1213.6 407.1 1212.3 402.1 1208.7 394.6 1193.6 370.9 1187.6 363.4 1181.5 357.1 1176.5 353.2 1171.5 350.6 1165.2 349.1 1157.8 349.1 1152.8 350.2 1146.5 353.0 1142.8 355.5 1130.3 365.9 1127.9 369.6 1126.5 374.9 1126.5 368.3 1130.2 363.7 1137.8 358.4 1145.2 351.7 1151.5 348.5 1156.5 346.9Z" fill="#a5c0ed" stroke="#a5c0ed" stroke-width="0.7"/>
<path d="M1286.5 340.9 1295.2 340.3 1304.0 341.3 1310.2 343.3 1316.7 347.1 1324.7 354.6 1332.8 365.9 1336.5 372.2 1336.5 379.2 1329.9 367.1 1324.1 358.4 1319.0 352.7 1312.8 347.7 1306.5 344.6 1299.0 343.1 1290.2 343.0 1284.0 344.4 1279.0 346.9 1275.5 349.6 1266.8 359.6 1257.2 374.6 1249.0 390.7 1243.4 397.1 1241.7 400.9 1240.7 407.1 1240.8 410.9 1241.7 414.6 1244.2 419.6 1247.2 423.4 1251.5 427.2 1257.8 431.1 1263.8 433.4 1271.5 435.2 1279.0 436.1 1287.8 436.3 1301.5 434.5 1314.0 429.5 1320.0 425.9 1327.8 419.6 1333.3 414.6 1336.5 410.9 1336.5 414.5 1335.1 415.9 1322.8 425.9 1316.5 430.0 1305.2 434.9 1296.5 437.2 1282.8 438.4 1270.2 437.8 1261.5 436.0 1254.5 433.4 1246.3 428.4 1234.0 418.8 1231.5 417.6 1229.0 417.4 1224.0 419.8 1209.0 432.4 1197.8 438.2 1189.0 441.6 1180.2 444.3 1170.2 446.2 1162.8 446.6 1157.8 446.1 1152.8 444.8 1144.0 439.6 1136.5 432.5 1130.7 423.4 1126.5 414.4 1126.5 406.1 1129.5 414.6 1133.8 423.4 1137.8 429.7 1142.8 434.8 1149.0 439.2 1155.2 442.2 1164.0 443.7 1170.2 443.4 1179.0 441.7 1187.8 438.9 1195.2 435.6 1205.2 430.1 1209.0 427.0 1214.5 420.9 1217.4 415.9 1219.3 410.9 1219.5 405.9 1218.0 402.1 1197.9 372.1 1185.2 357.1 1179.4 352.1 1174.0 348.7 1169.0 347.1 1162.8 346.4 1156.5 346.9 1151.5 348.5 1146.5 351.0 1142.8 353.6 1137.8 358.4 1130.2 363.7 1126.5 368.3 1126.5 365.2 1128.2 363.4 1136.5 357.6 1144.0 350.6 1149.0 347.5 1156.5 344.7 1164.0 343.9 1171.5 345.0 1177.8 347.9 1185.0 353.4 1192.4 360.9 1200.9 370.9 1211.5 385.2 1216.5 390.8 1224.0 396.6 1227.8 398.1 1230.2 398.3 1235.2 396.2 1244.0 389.7 1246.4 387.1 1260.7 363.4 1271.5 349.6 1277.8 344.5 1282.4 342.1 1286.5 340.9Z" fill="#c8d9f6" stroke="#c8d9f6" stroke-width="0.7"/>
<path d="M1286.5 338.2 1294.0 337.7 1305.2 339.0 1311.5 341.0 1317.8 344.5 1326.4 352.1 1334.2 362.1 1336.5 365.7 1336.5 372.2 1331.2 363.4 1325.7 355.9 1320.2 350.1 1314.0 345.3 1307.8 342.3 1301.5 340.9 1292.8 340.3 1285.2 341.2 1277.8 344.5 1271.5 349.6 1260.7 363.4 1246.4 387.1 1244.0 389.7 1235.2 396.2 1230.2 398.3 1227.8 398.1 1225.2 397.2 1217.8 392.0 1211.5 385.2 1199.9 369.6 1188.9 357.2 1180.2 349.6 1175.2 346.5 1171.5 345.0 1166.5 344.0 1161.5 343.9 1156.5 344.7 1151.5 346.3 1144.0 350.6 1136.5 357.6 1130.2 361.6 1126.5 365.2 1126.5 362.6 1127.0 362.1 1135.9 355.9 1142.8 349.4 1149.0 345.4 1154.0 343.2 1160.2 341.7 1165.2 341.3 1170.2 342.0 1174.0 343.1 1179.0 345.7 1187.6 352.1 1199.9 364.6 1212.8 379.6 1217.8 384.3 1221.5 386.6 1225.2 388.0 1232.8 388.2 1239.0 386.1 1244.0 382.2 1260.4 358.4 1271.1 345.9 1278.4 340.9 1286.5 338.2ZM1126.6 414.6 1133.6 428.4 1137.2 433.4 1141.5 437.6 1147.8 442.1 1152.8 444.8 1157.8 446.1 1164.0 446.6 1170.2 446.2 1181.5 443.9 1190.2 441.2 1199.0 437.7 1209.0 432.4 1224.0 419.8 1229.0 417.4 1231.5 417.6 1234.0 418.8 1248.1 429.6 1256.5 434.3 1267.8 437.4 1280.2 438.5 1294.0 437.5 1305.2 434.9 1314.0 431.2 1320.2 427.7 1330.8 419.6 1336.5 414.5 1336.5 417.8 1324.1 427.1 1317.8 431.1 1305.2 436.6 1296.5 438.8 1279.0 440.7 1271.5 440.7 1264.0 439.8 1254.0 436.9 1236.5 428.1 1232.8 427.1 1229.0 427.0 1222.8 429.2 1210.2 437.3 1202.0 440.9 1180.2 447.3 1169.0 449.5 1161.5 450.0 1155.2 449.3 1150.2 447.6 1144.0 443.6 1137.8 438.3 1131.7 430.9 1126.5 421.5 1126.6 414.6Z" fill="#eef3fc" stroke="#eef3fc" stroke-width="0.7"/>
<path d="M1284.0 335.8 1291.5 335.0 1302.8 336.0 1310.2 337.7 1316.5 340.5 1325.6 347.1 1333.7 355.9 1336.5 359.7 1336.5 365.7 1330.6 357.1 1325.2 351.0 1319.6 345.9 1313.9 342.1 1307.8 339.6 1301.5 338.4 1292.8 337.7 1285.2 338.4 1277.8 341.2 1270.2 346.7 1260.4 358.4 1244.0 382.2 1239.0 386.1 1232.8 388.2 1225.2 388.0 1221.5 386.6 1217.8 384.3 1212.8 379.6 1199.9 364.6 1187.6 352.1 1179.0 345.7 1174.0 343.1 1170.2 342.0 1165.2 341.3 1160.2 341.7 1155.2 342.8 1150.2 344.8 1144.0 348.4 1135.9 355.9 1126.5 362.6 1126.5 360.2 1134.5 354.6 1142.8 347.1 1147.8 343.9 1152.8 341.5 1159.0 339.5 1164.0 338.7 1169.0 338.9 1176.5 341.2 1186.5 347.5 1195.9 355.9 1214.0 374.0 1219.0 378.1 1225.2 381.1 1229.0 381.7 1232.8 381.5 1237.8 379.8 1242.8 375.8 1261.5 351.7 1269.0 343.6 1276.5 338.5 1284.0 335.8ZM1336.5 417.8 1336.5 420.9 1321.5 431.1 1307.8 437.4 1297.8 440.3 1280.2 443.0 1266.5 443.2 1255.2 441.0 1237.8 433.7 1234.0 433.0 1230.2 433.1 1224.0 435.0 1211.6 442.1 1205.2 444.6 1179.0 450.9 1162.8 453.4 1157.8 453.2 1151.9 452.1 1144.8 448.4 1139.0 443.8 1134.0 438.8 1130.2 434.1 1126.5 428.0 1126.5 421.5 1130.2 428.4 1134.0 434.1 1139.0 439.5 1144.0 443.6 1149.0 446.9 1152.8 448.6 1157.8 449.7 1164.0 449.9 1171.5 449.1 1181.5 447.1 1202.0 440.9 1210.2 437.3 1222.8 429.2 1229.0 427.0 1232.8 427.1 1236.5 428.1 1254.0 436.9 1264.0 439.8 1271.5 440.7 1279.0 440.7 1296.5 438.8 1305.2 436.6 1317.8 431.1 1324.1 427.1 1336.5 417.8Z" fill="#fef5f3" stroke="#fef5f3" stroke-width="0.7"/>
<path d="M1289.0 332.1 1294.0 332.2 1306.5 333.9 1312.8 335.7 1319.0 338.7 1327.3 344.6 1335.9 353.4 1336.5 354.2 1336.5 359.7 1330.5 352.1 1325.6 347.1 1320.2 342.9 1314.0 339.2 1307.8 336.9 1301.5 335.8 1291.5 335.0 1284.0 335.8 1276.5 338.5 1269.0 343.6 1261.5 351.7 1242.8 375.8 1237.8 379.8 1232.8 381.5 1229.0 381.7 1225.2 381.1 1219.0 378.1 1214.0 374.0 1195.9 355.9 1186.5 347.5 1177.8 341.9 1170.2 339.1 1166.5 338.6 1161.5 339.0 1155.2 340.6 1150.2 342.6 1142.8 347.1 1134.5 354.6 1126.5 360.2 1126.5 357.9 1132.9 353.4 1141.5 345.7 1147.8 341.6 1154.0 338.7 1160.2 336.7 1165.2 335.9 1170.2 336.2 1177.8 338.4 1187.8 344.3 1215.2 368.8 1220.2 372.4 1226.5 375.1 1232.8 375.2 1237.8 373.1 1244.0 367.6 1261.8 345.9 1269.0 338.9 1272.8 336.5 1279.0 333.7 1282.8 332.7 1289.0 332.1ZM1336.5 420.9 1336.5 424.0 1320.2 434.1 1307.8 439.3 1291.5 443.7 1275.2 446.2 1265.2 446.1 1255.2 444.4 1239.0 438.3 1232.8 437.7 1226.5 439.1 1214.0 445.7 1206.5 448.4 1176.5 454.6 1162.8 456.4 1151.5 455.3 1144.6 452.1 1139.4 448.4 1134.0 443.5 1126.5 434.1 1126.5 428.0 1130.2 434.1 1134.0 438.8 1139.0 443.8 1144.8 448.4 1151.9 452.1 1157.8 453.2 1162.8 453.4 1179.0 450.9 1205.2 444.6 1211.6 442.1 1224.0 435.0 1230.2 433.1 1234.0 433.0 1237.8 433.7 1255.2 441.0 1264.0 442.9 1275.2 443.4 1291.5 441.5 1302.8 439.0 1315.2 434.3 1323.9 429.6 1336.5 420.9Z" fill="#fcd9d3" stroke="#fcd9d3" stroke-width="0.7"/>
<path d="M1279.0 329.5 1286.5 328.7 1294.0 329.0 1307.8 331.3 1316.5 334.2 1325.9 339.6 1334.7 347.1 1336.5 349.1 1336.5 354.2 1331.3 348.4 1325.2 342.9 1319.0 338.7 1312.8 335.7 1305.2 333.7 1294.0 332.2 1289.0 332.1 1281.5 333.0 1272.8 336.5 1267.8 339.9 1261.5 346.3 1244.0 367.6 1237.8 373.1 1232.8 375.2 1226.5 375.1 1220.2 372.4 1215.2 368.8 1187.8 344.3 1177.8 338.4 1170.2 336.2 1165.2 335.9 1161.5 336.4 1150.2 340.3 1142.8 344.8 1132.9 353.4 1126.5 357.9 1126.5 355.4 1132.6 350.9 1141.3 343.4 1147.8 339.2 1154.0 336.2 1160.2 334.0 1165.2 333.1 1171.5 333.2 1179.0 334.8 1187.8 339.0 1192.8 342.8 1209.4 358.4 1217.8 365.1 1225.2 369.0 1231.5 369.5 1234.0 368.9 1237.8 367.1 1243.7 362.1 1250.4 354.6 1260.2 341.8 1265.9 335.9 1271.5 332.2 1279.0 329.5ZM1336.5 424.0 1336.5 427.2 1325.2 434.0 1317.8 437.7 1301.5 443.7 1284.0 447.9 1272.8 449.5 1264.0 449.3 1255.2 447.7 1240.2 442.5 1232.8 441.9 1226.5 443.5 1215.2 449.0 1207.8 451.6 1179.0 457.4 1167.8 458.8 1161.5 459.0 1154.0 458.2 1149.0 457.3 1145.4 455.9 1140.2 452.9 1135.2 449.0 1126.5 439.7 1126.5 434.1 1130.6 439.6 1135.2 444.6 1145.2 452.6 1151.5 455.3 1159.0 456.3 1164.0 456.3 1176.5 454.6 1206.7 448.4 1214.0 445.7 1226.5 439.1 1232.8 437.7 1239.0 438.3 1255.2 444.4 1265.2 446.1 1275.2 446.2 1290.2 443.9 1301.5 441.3 1315.2 436.3 1324.0 432.0 1336.5 424.0Z" fill="#f8baaf" stroke="#f8baaf" stroke-width="0.7"/>
<path d="M1276.5 325.8 1285.2 325.1 1292.8 325.5 1307.8 328.4 1315.9 330.9 1325.2 335.6 1334.1 342.2 1336.5 344.3 1336.5 349.1 1325.9 339.6 1320.2 336.1 1315.2 333.7 1304.0 330.6 1292.8 328.9 1286.5 328.7 1281.5 329.0 1276.5 330.2 1271.5 332.2 1267.5 334.6 1261.5 340.3 1250.2 354.8 1242.8 363.1 1236.5 367.8 1231.5 369.5 1226.5 369.3 1220.2 366.7 1209.4 358.4 1189.0 339.8 1180.2 335.2 1172.8 333.3 1167.8 332.9 1162.8 333.4 1151.5 337.3 1141.5 343.2 1132.6 350.9 1126.5 355.4 1126.5 352.8 1141.5 340.6 1151.5 334.7 1157.8 332.0 1164.0 330.4 1170.2 329.8 1177.8 330.1 1186.5 331.5 1192.8 334.6 1210.1 353.4 1220.2 361.4 1226.5 364.0 1232.8 363.9 1237.8 361.8 1244.0 356.6 1249.7 349.6 1259.0 336.0 1262.8 331.9 1268.0 328.4 1276.5 325.8ZM1335.2 428.0 1336.5 427.2 1336.5 430.5 1326.5 436.4 1314.0 442.7 1302.8 446.7 1284.0 451.3 1272.8 452.9 1264.0 452.7 1255.2 451.0 1241.5 446.4 1234.0 445.6 1227.8 447.0 1215.2 452.6 1207.8 455.0 1181.5 460.1 1172.8 461.3 1160.2 461.2 1150.2 460.0 1145.2 458.7 1140.2 456.3 1135.7 453.4 1126.5 444.8 1126.5 439.7 1135.2 449.0 1140.2 452.9 1145.4 455.9 1150.2 457.6 1155.2 458.4 1161.5 459.0 1169.0 458.7 1179.0 457.4 1207.8 451.6 1215.2 449.0 1226.5 443.5 1232.8 441.9 1240.2 442.5 1254.0 447.3 1262.8 449.2 1271.5 449.5 1282.8 448.1 1300.2 444.1 1309.0 441.3 1322.8 435.4 1335.2 428.0Z" fill="#f4a499" stroke="#f4a499" stroke-width="0.7"/>
<path d="M1284.0 322.1 1296.5 322.9 1310.2 326.0 1319.0 329.0 1327.8 333.5 1336.5 339.8 1336.5 344.3 1325.8 335.9 1315.2 330.6 1307.8 328.4 1295.2 325.8 1284.0 325.1 1277.8 325.6 1272.8 326.7 1268.0 328.4 1264.0 330.8 1259.0 336.0 1249.7 349.6 1244.0 356.6 1237.8 361.8 1231.5 364.2 1225.2 363.6 1219.0 360.6 1208.9 352.1 1192.8 334.6 1187.8 331.9 1180.2 330.3 1166.5 330.0 1161.5 330.9 1155.2 333.0 1149.0 336.0 1142.7 339.8 1126.5 352.8 1126.5 349.9 1137.8 340.7 1146.5 334.7 1155.2 330.2 1161.5 328.0 1166.5 327.0 1189.0 325.3 1195.2 326.1 1199.2 328.4 1209.1 344.6 1214.0 350.6 1218.5 354.6 1225.2 358.4 1229.0 359.2 1232.8 358.9 1237.8 356.7 1242.9 352.1 1247.3 345.9 1255.2 331.9 1259.6 327.1 1264.0 324.7 1268.9 323.4 1276.5 322.3 1284.0 322.1ZM1336.5 430.5 1336.5 434.1 1312.4 448.4 1295.2 452.8 1275.2 456.2 1267.8 456.4 1261.5 455.9 1254.0 454.1 1241.5 450.0 1234.0 449.4 1229.0 450.4 1215.2 456.1 1205.2 458.9 1177.8 463.6 1165.2 463.8 1150.2 462.3 1142.8 460.5 1134.0 455.9 1126.5 449.6 1126.5 444.8 1135.2 453.0 1144.0 458.2 1150.2 460.0 1164.0 461.4 1177.8 460.7 1206.5 455.3 1214.0 453.0 1227.8 447.0 1234.0 445.6 1241.5 446.4 1254.0 450.7 1260.2 452.2 1266.5 452.9 1274.0 452.8 1290.2 449.9 1310.2 444.3 1324.0 437.8 1336.5 430.5Z" fill="#f0867e" stroke="#f0867e" stroke-width="0.7"/>
<path d="M1186.5 320.7 1199.0 320.2 1201.8 320.9 1205.2 322.9 1207.8 325.9 1213.9 339.6 1217.8 346.1 1222.8 350.9 1226.5 352.9 1229.0 353.5 1234.0 352.9 1237.3 350.9 1239.9 348.4 1243.0 343.4 1249.3 329.6 1253.2 324.6 1257.2 322.1 1264.0 320.3 1294.0 319.7 1310.2 323.0 1321.5 326.8 1331.6 332.1 1336.5 335.5 1336.5 339.8 1329.6 334.6 1322.8 330.7 1315.2 327.6 1306.5 325.1 1296.5 322.9 1290.2 322.2 1276.5 322.3 1269.0 323.4 1262.8 325.3 1257.8 328.8 1254.3 333.4 1245.7 348.4 1240.2 354.8 1235.2 358.0 1232.8 358.9 1229.0 359.2 1225.2 358.4 1221.5 356.7 1214.3 350.9 1208.2 343.4 1201.0 330.9 1197.8 327.3 1192.8 325.6 1185.2 325.3 1165.2 327.2 1155.2 330.2 1147.8 334.0 1141.5 337.9 1126.5 349.9 1126.5 346.9 1134.0 340.7 1142.8 334.2 1152.8 328.5 1162.8 324.8 1186.5 320.7ZM1336.5 434.1 1336.5 438.0 1326.0 444.6 1314.0 453.1 1296.5 456.6 1276.5 459.6 1269.0 459.9 1261.5 459.4 1254.0 457.7 1241.5 453.8 1235.2 453.3 1230.2 454.1 1216.5 459.7 1207.8 461.9 1182.8 465.8 1172.8 466.5 1150.2 464.7 1144.0 463.6 1135.2 460.1 1126.5 454.1 1126.5 449.6 1135.2 456.7 1144.0 460.9 1151.5 462.5 1171.5 464.0 1181.5 463.1 1207.8 458.3 1215.2 456.1 1227.8 450.8 1234.0 449.4 1241.5 450.0 1254.0 454.1 1261.5 455.9 1269.0 456.5 1276.5 456.1 1295.2 452.8 1311.5 448.8 1336.5 434.1Z" fill="#ea5e5c" stroke="#ea5e5c" stroke-width="0.7"/>
<path d="M1189.0 317.1 1201.5 316.3 1206.5 317.2 1212.3 319.6 1216.0 322.1 1219.7 325.9 1221.9 329.6 1226.5 339.6 1227.8 341.0 1230.2 342.0 1232.8 341.1 1234.0 339.7 1238.9 328.4 1243.2 323.4 1246.8 320.9 1251.5 318.8 1261.5 316.9 1281.5 318.1 1295.2 317.4 1310.2 320.1 1321.5 323.6 1332.8 329.1 1336.5 331.4 1336.5 335.5 1329.0 330.6 1320.2 326.3 1311.5 323.4 1300.2 320.7 1291.5 319.7 1274.0 319.8 1262.8 320.5 1255.2 323.1 1251.5 326.4 1248.0 332.1 1242.4 344.6 1238.8 349.6 1234.0 352.9 1229.0 353.5 1226.5 352.9 1222.8 350.9 1217.8 346.1 1213.9 339.6 1208.4 327.1 1205.8 323.4 1202.8 321.3 1200.2 320.4 1194.0 320.3 1185.2 320.9 1166.5 324.0 1156.5 326.8 1150.2 329.7 1142.8 334.2 1126.5 346.9 1126.5 343.7 1132.8 338.6 1142.8 331.2 1152.8 325.5 1164.0 321.5 1189.0 317.1ZM1336.5 438.0 1336.5 442.3 1320.9 453.4 1316.5 455.9 1311.5 457.3 1277.8 462.7 1269.0 463.1 1261.5 462.9 1241.5 458.4 1236.5 458.1 1231.5 458.9 1219.0 463.8 1212.8 465.4 1184.6 468.4 1174.0 468.9 1149.0 466.9 1142.8 465.9 1134.0 462.8 1126.5 458.2 1126.5 454.1 1135.2 460.1 1144.0 463.6 1150.2 464.7 1172.8 466.5 1182.8 465.8 1207.8 461.9 1216.5 459.7 1230.2 454.1 1235.3 453.3 1241.5 453.8 1254.0 457.7 1261.5 459.4 1269.0 459.9 1277.8 459.4 1296.5 456.6 1314.0 453.1 1326.0 444.6 1336.5 438.0Z" fill="#e03136" stroke="#e03136" stroke-width="0.7"/>
<path d="M1195.3 313.3 1205.2 312.8 1221.5 314.4 1234.0 314.8 1260.2 313.6 1281.5 316.4 1294.0 315.2 1301.5 315.6 1315.2 318.4 1327.8 322.9 1336.5 327.4 1336.5 331.4 1329.0 327.0 1321.5 323.6 1312.8 320.7 1302.8 318.4 1294.0 317.4 1281.5 318.1 1266.5 316.9 1260.2 317.0 1255.2 317.8 1250.2 319.3 1243.2 323.4 1238.9 328.4 1234.0 339.7 1232.8 341.1 1230.2 342.0 1227.8 341.0 1226.5 339.6 1220.6 327.1 1216.0 322.1 1212.3 319.6 1206.5 317.2 1201.5 316.3 1197.8 316.2 1179.0 318.6 1164.0 321.5 1157.8 323.4 1150.2 326.8 1142.8 331.2 1126.5 343.7 1126.5 340.3 1132.8 335.3 1144.0 327.3 1154.0 322.0 1160.3 319.6 1167.8 317.7 1195.3 313.3ZM1335.2 443.1 1336.5 442.3 1336.5 447.1 1322.8 456.4 1315.2 459.6 1285.2 464.8 1271.5 466.3 1260.2 466.3 1245.2 464.3 1239.0 464.2 1234.0 465.4 1225.2 470.1 1220.2 471.5 1199.0 470.8 1176.5 471.3 1147.8 469.3 1136.5 467.0 1126.5 462.2 1126.5 458.2 1135.3 463.4 1144.0 466.2 1175.2 468.9 1185.2 468.3 1212.8 465.4 1219.0 463.8 1231.5 458.9 1236.5 458.1 1241.5 458.4 1261.5 462.9 1276.5 462.8 1289.0 461.1 1315.2 456.4 1320.2 453.8 1335.2 443.1Z" fill="#d81d24" stroke="#d81d24" stroke-width="0.7"/>
<path d="M1219.0 308.4 1227.8 307.4 1232.8 307.5 1262.8 310.7 1280.2 314.7 1296.5 313.0 1307.8 313.9 1320.2 316.8 1332.8 321.7 1336.5 323.6 1336.5 327.4 1327.8 322.9 1319.4 319.6 1310.2 317.1 1300.2 315.5 1292.8 315.3 1281.5 316.4 1261.5 313.6 1232.8 314.8 1200.2 312.8 1175.2 316.3 1164.0 318.6 1157.8 320.5 1150.2 323.8 1142.8 328.1 1126.5 340.3 1126.5 336.8 1135.2 330.0 1146.5 322.7 1157.8 317.5 1171.5 314.0 1197.8 309.9 1219.0 308.4ZM1336.5 447.1 1336.5 452.0 1325.2 459.1 1317.8 462.1 1277.8 469.0 1264.0 470.1 1247.8 470.2 1241.5 471.7 1239.0 473.4 1236.7 477.1 1236.1 480.9 1236.0 489.6 1235.2 493.7 1232.8 497.0 1230.2 497.9 1226.5 497.6 1222.8 495.5 1220.2 492.6 1216.2 484.6 1214.0 481.6 1210.2 478.6 1205.2 476.5 1195.2 474.7 1144.0 471.7 1135.2 469.8 1126.5 466.0 1126.5 462.2 1136.5 467.0 1147.8 469.3 1176.5 471.3 1199.0 470.8 1220.2 471.5 1225.2 470.1 1234.0 465.4 1239.0 464.2 1245.2 464.3 1260.2 466.3 1271.5 466.3 1284.0 465.0 1314.0 459.8 1318.8 458.4 1322.8 456.4 1336.5 447.1Z" fill="#d4161d" stroke="#d4161d" stroke-width="0.7"/>
<path d="M1221.5 303.4 1229.0 302.4 1234.0 302.7 1262.8 307.7 1281.5 312.9 1297.8 310.6 1311.5 311.7 1324.0 314.8 1335.2 319.2 1336.5 319.8 1336.5 323.6 1329.0 320.0 1321.5 317.2 1306.5 313.7 1295.2 313.0 1280.3 314.7 1261.5 310.5 1232.8 307.5 1227.8 307.4 1199.0 309.7 1174.0 313.5 1161.5 316.3 1154.0 319.0 1145.2 323.4 1136.5 329.1 1126.5 336.8 1126.5 333.2 1135.2 326.6 1146.5 319.5 1157.8 314.5 1172.8 310.8 1221.5 303.4ZM1336.5 452.0 1336.5 457.0 1327.8 461.9 1321.5 464.4 1315.2 465.7 1305.2 466.8 1280.2 471.9 1254.5 475.9 1247.8 477.8 1245.2 480.0 1243.9 483.4 1244.4 488.4 1247.0 498.4 1246.3 500.9 1243.6 504.6 1218.7 504.6 1215.2 501.4 1213.1 498.4 1209.6 489.6 1207.2 485.9 1202.8 482.1 1196.5 479.4 1166.5 475.2 1149.0 474.9 1141.5 474.3 1134.0 472.7 1126.5 469.8 1126.5 466.0 1135.2 469.8 1144.0 471.7 1195.0 474.6 1204.0 476.1 1209.9 478.4 1213.3 480.9 1216.2 484.6 1220.2 492.6 1222.8 495.5 1226.5 497.6 1230.2 497.9 1232.8 497.0 1235.2 493.7 1236.0 489.6 1236.1 480.9 1236.7 477.1 1239.0 473.4 1241.5 471.7 1247.8 470.2 1264.0 470.1 1277.8 469.0 1305.2 463.9 1316.5 462.4 1325.2 459.1 1336.5 452.0Z" fill="#ce0f17" stroke="#ce0f17" stroke-width="0.7"/>
<path d="M1220.2 299.6 1230.2 298.6 1239.4 299.6 1261.5 304.4 1281.5 310.7 1299.0 308.2 1306.5 308.3 1314.0 309.3 1325.2 311.9 1336.5 316.0 1336.5 319.8 1324.0 314.8 1310.2 311.5 1302.8 310.7 1296.5 310.7 1280.2 312.8 1261.5 307.5 1234.0 302.7 1229.0 302.4 1174.0 310.6 1160.2 313.7 1152.8 316.5 1144.0 320.9 1136.3 325.9 1126.5 333.2 1126.5 329.6 1133.1 324.6 1145.2 317.0 1156.5 311.9 1170.2 308.3 1186.5 305.9 1220.2 299.6ZM1336.5 457.0 1336.5 461.8 1325.2 466.9 1317.8 468.7 1301.5 470.9 1272.8 477.4 1262.2 480.9 1258.2 483.4 1255.5 487.1 1254.3 499.6 1252.8 504.7 1243.6 504.6 1246.3 500.9 1247.0 498.4 1244.4 488.4 1243.9 483.4 1245.2 480.0 1247.8 477.8 1252.8 476.2 1282.8 471.5 1305.2 466.8 1319.0 465.0 1327.2 462.1 1336.5 457.0ZM1127.8 470.4 1134.0 472.7 1141.5 474.3 1149.0 474.9 1166.5 475.2 1191.5 478.4 1199.0 480.3 1204.0 482.9 1207.2 485.9 1209.6 489.6 1213.1 498.4 1215.2 501.4 1218.7 504.6 1209.0 504.6 1200.5 489.6 1196.5 486.0 1191.5 483.5 1182.0 480.9 1167.8 478.2 1146.5 477.9 1136.5 476.7 1126.5 473.6 1126.5 469.8 1127.8 470.4Z" fill="#c20712" stroke="#c20712" stroke-width="0.7"/>
<path d="M1220.2 295.9 1232.8 295.4 1244.0 296.9 1260.2 300.9 1277.8 307.1 1281.5 307.9 1300.2 305.6 1307.8 305.7 1316.5 306.7 1326.5 308.9 1336.5 312.3 1336.5 316.0 1322.8 311.2 1307.8 308.4 1296.5 308.3 1282.8 310.6 1280.2 310.5 1265.2 305.4 1252.8 302.3 1236.5 299.2 1227.8 298.7 1211.5 301.0 1186.5 305.9 1171.5 308.0 1160.2 310.7 1151.5 313.9 1144.0 317.7 1135.2 323.2 1126.5 329.6 1126.5 325.8 1131.5 322.2 1144.0 314.4 1155.2 309.3 1169.0 305.5 1186.5 302.7 1206.5 298.2 1220.2 295.9ZM1336.5 461.8 1336.5 466.6 1329.0 469.7 1321.5 471.8 1306.5 473.7 1296.0 475.9 1280.2 480.1 1271.9 483.4 1268.1 485.9 1264.8 489.6 1263.0 493.4 1259.7 504.6 1252.8 504.7 1254.3 499.6 1255.5 487.1 1258.2 483.4 1262.2 480.9 1272.8 477.4 1302.8 470.6 1322.8 467.6 1329.0 465.5 1336.5 461.8ZM1127.8 474.1 1135.2 476.4 1142.8 477.6 1169.0 478.4 1182.0 480.9 1191.5 483.5 1196.5 486.0 1200.5 489.6 1209.0 504.6 1201.4 504.6 1196.5 496.5 1192.9 492.1 1187.8 488.4 1181.5 485.5 1174.0 483.1 1166.5 481.6 1145.2 481.2 1134.0 479.7 1126.5 477.6 1126.5 473.6 1127.8 474.1Z" fill="#b2000e" stroke="#b2000e" stroke-width="0.7"/>
<path d="M1224.0 292.1 1236.5 292.3 1247.8 294.2 1260.2 297.6 1276.5 303.6 1281.5 304.8 1302.8 302.8 1311.5 303.1 1320.2 304.3 1336.5 308.6 1336.5 312.3 1322.8 308.0 1309.0 305.8 1299.0 305.6 1284.0 307.9 1280.2 307.8 1262.8 301.6 1249.0 297.9 1236.5 295.7 1225.2 295.4 1209.0 297.8 1186.5 302.7 1169.0 305.5 1159.0 308.0 1151.5 310.8 1143.5 314.6 1135.2 319.6 1126.5 325.8 1126.5 322.0 1131.7 318.4 1144.0 311.0 1156.5 305.7 1167.8 302.6 1186.5 299.2 1207.8 294.4 1224.0 292.1ZM1336.5 466.6 1336.5 471.5 1331.5 473.3 1322.8 475.6 1306.5 477.9 1299.0 479.5 1287.8 482.7 1280.2 485.7 1276.0 488.4 1272.3 492.1 1269.5 497.1 1266.6 504.6 1259.7 504.6 1263.0 493.4 1264.8 489.6 1268.1 485.9 1272.8 483.0 1281.7 479.6 1300.2 474.9 1324.0 471.2 1336.5 466.6ZM1127.8 478.0 1135.2 480.0 1142.8 481.0 1166.5 481.6 1179.2 484.6 1187.8 488.4 1192.8 492.0 1196.5 496.5 1201.4 504.6 1193.7 504.6 1189.1 498.4 1185.2 494.6 1179.0 490.4 1172.8 487.5 1164.0 485.5 1144.0 484.9 1132.8 483.3 1126.5 481.7 1126.5 477.6 1127.8 478.0Z" fill="#a9000f" stroke="#a9000f" stroke-width="0.7"/>
<path d="M1202.8 291.9 1207.5 290.9 1248.3 290.9 1259.0 293.8 1276.5 300.2 1281.5 301.4 1286.5 301.5 1299.0 300.2 1306.5 299.9 1315.2 300.4 1324.0 301.7 1336.5 305.0 1336.5 308.6 1324.0 305.0 1310.2 303.0 1300.2 302.9 1285.2 304.8 1281.5 304.8 1276.5 303.6 1260.2 297.6 1247.8 294.2 1236.5 292.3 1224.0 292.1 1209.0 294.2 1186.5 299.2 1167.8 302.6 1159.0 304.9 1150.2 308.1 1142.8 311.7 1126.5 322.0 1126.5 318.2 1139.0 310.2 1151.5 304.3 1165.2 299.9 1202.8 291.9ZM1335.2 472.0 1336.5 471.5 1336.5 476.5 1325.2 479.7 1301.5 484.0 1287.8 488.7 1283.9 490.9 1279.7 494.6 1277.0 498.4 1273.9 504.6 1266.6 504.6 1269.5 497.1 1272.3 492.1 1276.0 488.4 1281.5 485.1 1289.0 482.3 1299.0 479.5 1324.0 475.4 1335.2 472.0ZM1127.8 482.0 1139.0 484.4 1162.8 485.4 1171.6 487.1 1179.0 490.4 1185.2 494.6 1189.1 498.4 1193.7 504.6 1185.3 504.6 1180.7 499.6 1176.5 496.2 1171.5 493.2 1166.5 491.3 1159.0 490.0 1139.0 488.6 1126.5 486.0 1126.5 481.7 1127.8 482.0Z" fill="#a1000f" stroke="#a1000f" stroke-width="0.7"/>
<path d="M1186.5 292.1 1191.8 290.9 1207.5 290.9 1185.7 295.9 1167.8 299.4 1156.5 302.4 1141.5 308.9 1126.5 318.2 1126.5 314.3 1137.8 307.4 1147.8 302.4 1162.8 297.3 1186.5 292.1ZM1249.0 290.9 1260.5 290.9 1276.5 296.6 1282.8 298.0 1306.5 296.9 1322.8 298.2 1336.5 301.3 1336.5 305.0 1324.0 301.7 1311.5 300.1 1301.5 300.0 1286.5 301.5 1281.5 301.4 1276.5 300.2 1261.5 294.7 1249.0 290.9ZM1335.2 477.0 1336.5 476.5 1336.5 481.9 1326.5 484.7 1307.8 488.4 1299.5 490.9 1293.8 493.4 1289.0 496.5 1285.2 500.3 1282.3 504.6 1273.9 504.6 1277.0 498.4 1279.7 494.6 1283.9 490.9 1288.5 488.4 1302.8 483.7 1324.0 480.0 1335.2 477.0ZM1127.8 486.4 1139.0 488.6 1159.0 490.0 1167.8 491.7 1171.9 493.4 1176.5 496.2 1180.7 499.6 1185.3 504.6 1175.8 504.6 1169.0 499.5 1160.2 496.0 1136.5 492.9 1126.5 490.7 1126.5 486.0 1127.8 486.4Z" fill="#98000f" stroke="#98000f" stroke-width="0.7"/>
<path d="M1127.8 290.9 1191.8 290.9 1166.5 296.3 1154.0 300.0 1140.2 306.0 1126.5 314.3 1126.5 290.9 1127.8 290.9ZM1261.5 290.9 1336.5 290.9 1336.5 301.3 1325.2 298.6 1312.8 297.1 1302.8 297.0 1286.5 298.1 1281.5 297.8 1274.4 295.9 1261.5 290.9ZM1336.5 481.9 1336.5 504.6 1282.3 504.6 1285.2 500.3 1288.3 497.1 1292.8 494.0 1297.8 491.6 1307.8 488.4 1326.5 484.7 1336.5 481.9ZM1127.3 490.9 1136.5 492.9 1155.2 495.1 1161.5 496.3 1169.0 499.5 1175.8 504.6 1126.5 504.6 1126.5 490.7 1127.3 490.9Z" fill="#900010" stroke="#900010" stroke-width="0.7"/>
<path d="M1295.2 364.5 1291.6 365.9 1289.0 367.7 1286.5 370.3 1284.0 374.1 1282.0 378.4 1280.4 383.4 1277.7 395.9 1278.5 399.6 1281.0 404.6 1283.5 408.4 1286.0 410.9 1289.0 413.0 1292.8 414.7 1296.5 415.5 1300.2 415.5 1304.0 414.7 1306.5 413.4 1309.0 411.5 1312.8 407.6 1314.7 404.6 1318.4 397.1 1319.1 394.6 1319.0 392.1 1318.0 387.1 1315.2 380.2 1312.1 374.6 1308.5 369.6 1305.2 366.7 1301.6 364.6 1299.0 364.2 1295.2 364.5M1161.5 369.6 1157.8 370.3 1155.2 371.4 1151.5 373.6 1149.2 375.9 1147.8 379.0 1143.1 393.4 1142.7 395.9 1143.7 400.9 1146.5 408.2 1149.2 413.4 1152.6 418.4 1156.0 422.1 1159.0 424.3 1162.8 425.8 1166.5 426.2 1170.2 425.5 1174.0 423.8 1177.5 420.9 1180.5 417.1 1181.9 414.6 1183.2 410.9 1184.8 403.4 1185.1 398.4 1183.8 393.4 1178.4 382.1 1175.2 377.1 1171.8 373.4 1169.0 371.4 1165.2 370.0 1161.5 369.6M1290.2 354.5 1285.2 356.2 1280.2 359.5 1276.8 363.4 1272.5 369.6 1267.3 378.4 1262.7 389.6 1259.0 395.2 1258.0 399.6 1258.2 404.6 1259.5 409.6 1262.1 414.6 1265.4 418.4 1270.8 422.1 1276.6 424.6 1284.0 426.6 1292.8 427.4 1300.2 427.0 1305.2 426.0 1310.2 424.3 1317.4 419.7 1321.5 416.1 1325.4 410.9 1327.6 407.1 1328.5 403.4 1328.8 395.9 1329.4 394.6 1329.3 393.4 1326.5 387.4 1324.2 379.6 1322.1 374.6 1316.5 365.3 1312.8 360.6 1307.8 356.6 1302.8 354.5 1296.5 353.6 1290.2 354.5M1154.0 357.0 1147.8 358.5 1141.5 361.4 1136.9 365.9 1134.1 369.6 1133.5 373.4 1134.1 379.6 1134.0 393.4 1134.9 400.9 1137.7 409.6 1141.2 417.1 1144.5 422.1 1150.2 428.3 1155.2 431.8 1160.2 433.9 1165.2 434.8 1171.5 434.2 1180.2 431.1 1187.8 427.3 1195.4 422.1 1199.0 418.5 1201.1 414.7 1201.8 410.9 1201.4 407.1 1199.7 398.4 1198.4 394.6 1194.9 389.6 1188.6 377.1 1183.2 369.6 1177.8 363.8 1172.8 360.2 1167.8 358.0 1160.2 356.7 1154.0 357.0M1336.5 379.2 1329.0 365.6 1324.0 358.3 1319.7 353.4 1312.8 347.7 1307.8 345.0 1302.8 343.7 1299.0 343.1 1290.2 343.0 1285.2 344.0 1280.2 346.2 1275.5 349.6 1271.5 353.8 1264.0 363.6 1257.9 373.4 1248.9 390.9 1243.4 397.1 1241.4 402.1 1240.6 409.6 1241.7 414.6 1244.2 419.6 1248.4 424.6 1255.2 429.8 1260.2 432.2 1267.8 434.4 1275.2 435.8 1282.8 436.3 1294.0 435.8 1301.5 434.5 1311.5 430.7 1318.1 427.1 1323.2 423.4 1333.3 414.6 1336.5 410.9M1126.5 406.1 1129.0 413.5 1132.8 421.5 1136.5 427.8 1141.5 433.7 1146.5 437.7 1152.8 441.3 1157.8 442.9 1165.2 443.7 1174.0 442.8 1181.5 441.0 1185.7 439.6 1194.7 435.9 1205.2 430.1 1209.0 427.0 1214.5 420.9 1216.1 418.4 1218.5 413.4 1219.6 408.4 1219.0 404.3 1217.3 400.9 1197.0 370.9 1185.2 357.1 1179.4 352.1 1172.8 348.2 1167.8 346.8 1160.2 346.4 1155.2 347.2 1150.2 349.0 1145.2 351.7 1142.8 353.6 1137.8 358.4 1130.2 363.7 1126.5 368.3M1336.5 354.2 1330.2 347.3 1325.2 342.9 1320.2 339.4 1315.2 336.7 1309.6 334.6 1305.2 333.7 1290.2 332.0 1282.8 332.7 1280.2 333.3 1274.0 335.9 1269.0 338.9 1264.0 343.5 1260.7 347.1 1252.7 357.2 1242.8 368.8 1237.3 373.4 1232.8 375.2 1227.8 375.3 1225.2 374.8 1220.2 372.4 1214.8 368.4 1187.8 344.3 1177.7 338.4 1170.2 336.2 1165.2 335.9 1160.2 336.7 1152.8 339.2 1149.1 340.9 1141.3 345.9 1132.9 353.4 1126.5 357.9M1126.5 434.1 1130.6 439.6 1135.2 444.7 1144.0 451.8 1150.2 454.9 1156.5 456.0 1162.8 456.4 1177.8 454.4 1206.7 448.4 1213.6 445.9 1225.2 439.6 1230.2 438.0 1232.8 437.7 1235.2 437.7 1240.2 438.6 1254.0 444.0 1260.2 445.5 1265.2 446.1 1272.8 446.3 1284.0 445.0 1295.2 442.8 1302.8 440.9 1309.0 438.9 1321.5 433.4 1336.5 424.0M1336.5 335.5 1329.0 330.6 1321.5 326.8 1314.0 324.1 1302.8 321.2 1292.8 319.7 1276.5 319.7 1262.8 320.5 1257.2 322.1 1255.2 323.1 1251.5 326.4 1249.3 329.6 1247.5 333.4 1242.8 344.0 1238.8 349.6 1234.0 352.9 1231.5 353.5 1228.6 353.4 1226.5 352.9 1222.7 350.9 1218.6 347.1 1215.2 342.1 1207.7 325.9 1206.5 324.2 1204.0 322.0 1201.8 320.9 1199.0 320.2 1196.5 320.2 1185.2 320.9 1165.2 324.2 1158.9 325.9 1151.5 329.1 1144.0 333.4 1136.5 338.7 1126.5 346.9M1126.5 454.1 1132.3 458.4 1135.2 460.1 1143.4 463.4 1151.5 464.8 1172.8 466.5 1185.2 465.4 1209.0 461.7 1216.5 459.6 1229.0 454.5 1234.0 453.4 1240.2 453.5 1254.0 457.7 1261.5 459.4 1267.8 459.9 1276.5 459.6 1287.8 458.1 1314.0 453.1 1317.8 450.9 1327.8 443.4 1336.5 438.0M1336.5 319.8 1325.2 315.2 1320.2 313.7 1310.2 311.5 1302.8 310.7 1295.2 310.8 1282.8 312.8 1280.2 312.8 1266.5 308.6 1261.5 307.5 1234.0 302.7 1229.0 302.4 1199.0 306.5 1185.2 309.2 1171.5 311.0 1161.5 313.3 1154.0 315.9 1146.3 319.6 1137.8 324.9 1126.5 333.2M1126.5 469.8 1134.0 472.7 1141.5 474.3 1149.0 474.9 1166.5 475.2 1194.0 478.8 1199.0 480.3 1204.6 483.4 1207.8 486.6 1209.6 489.6 1213.1 498.4 1216.0 502.1 1218.7 504.6M1243.6 504.6 1245.6 502.1 1247.0 498.4 1246.5 495.3 1244.4 488.4 1243.9 483.4 1244.1 482.1 1245.5 479.6 1247.8 477.8 1251.5 476.5 1285.2 471.0 1306.5 466.6 1317.8 465.3 1325.2 463.0 1331.5 460.0 1336.5 457.0" fill="none" stroke="#0a0a0a" stroke-width="3.6" stroke-linejoin="round" stroke-linecap="round"/>
</g>
<ellipse cx="1231" cy="397.7" rx="100.5" ry="102.8" fill="none" stroke="#0a0a0a" stroke-width="1.4"/>
<path d="M1218.8 287.2 L1212.5 296.4 M1243.2 287.2 L1250.5 296.4" stroke="#0a0a0a" stroke-width="4.4" stroke-linecap="round" fill="none"/>
<path d="M1129.0 376.7 Q1124.5 369.7 1119.0 374.2 M1129.0 422.2 Q1124.5 428.7 1119.0 423.7" stroke="#0a0a0a" stroke-width="3.6" stroke-linecap="round" fill="none"/>
<path d="M1333.0 376.7 Q1337.5 369.7 1343.0 374.2 M1333.0 422.2 Q1337.5 428.7 1343.0 423.7" stroke="#0a0a0a" stroke-width="3.6" stroke-linecap="round" fill="none"/>
<clipPath id="t2c"><ellipse cx="1575.1" cy="397.7" rx="100.2" ry="102.8"/></clipPath>
<ellipse cx="1575.1" cy="398.2" rx="111.2" ry="113.3" fill="#e9f0fb"/>
<g clip-path="url(#t2c)">
<rect x="1472.8999999999999" y="292.9" width="204.4" height="209.6" fill="#fad2cc"/>
<path d="M1503.4 379.3 1507.1 379.2 1509.6 380.8 1512.1 384.5 1513.5 388.4 1513.9 392.1 1513.2 395.9 1510.9 399.5 1508.4 400.9 1505.3 400.9 1502.1 399.4 1499.6 396.6 1498.3 393.4 1498.0 389.6 1499.0 384.6 1500.9 381.3 1503.4 379.3ZM1643.4 379.3 1645.9 379.3 1647.1 380.4 1648.3 384.6 1647.1 388.4 1645.8 389.6 1643.4 390.3 1642.2 389.9 1640.9 388.5 1640.2 385.9 1641.0 382.1 1643.4 379.3Z" fill="#496fbf" stroke="#496fbf" stroke-width="0.7"/>
<path d="M1642.1 369.5 1644.6 368.8 1647.1 369.2 1650.6 372.1 1653.7 378.4 1654.8 385.9 1653.7 390.9 1650.5 395.9 1645.9 399.8 1643.4 401.0 1640.9 401.4 1637.1 400.1 1635.0 397.1 1633.7 392.1 1633.4 387.1 1634.5 380.9 1636.5 375.9 1639.0 372.1 1642.1 369.5ZM1642.9 379.6 1640.9 382.3 1640.3 384.6 1640.4 387.1 1642.2 389.9 1644.6 390.2 1647.1 388.3 1648.2 385.9 1648.3 383.4 1647.4 380.9 1645.9 379.3 1644.7 379.0 1642.9 379.6ZM1503.4 372.0 1505.9 371.9 1508.4 372.6 1512.6 375.9 1514.6 378.7 1517.0 383.4 1519.1 390.9 1519.2 397.1 1517.3 403.4 1514.1 407.1 1509.6 409.0 1504.6 408.5 1499.6 405.7 1495.4 400.9 1493.0 394.6 1493.0 387.2 1495.2 379.6 1498.5 374.6 1500.9 372.9 1503.4 372.0ZM1502.8 379.6 1500.3 382.1 1498.6 385.9 1498.0 389.6 1498.3 393.4 1499.6 396.6 1502.1 399.4 1505.3 400.9 1508.4 400.9 1510.9 399.5 1513.2 395.9 1513.9 392.1 1513.4 388.0 1511.6 383.4 1508.4 379.8 1505.9 378.9 1502.8 379.6Z" fill="#4f74c3" stroke="#4f74c3" stroke-width="0.7"/>
<path d="M1643.4 363.3 1647.1 363.3 1649.6 364.5 1652.2 366.9 1654.1 369.6 1656.4 374.6 1658.4 380.9 1659.0 385.9 1658.9 389.6 1657.9 393.4 1656.5 395.9 1648.4 405.2 1642.1 408.9 1638.4 409.7 1635.9 409.5 1633.4 408.6 1631.4 407.1 1629.2 403.4 1628.1 395.9 1628.8 385.9 1630.7 378.4 1634.6 370.1 1638.4 365.8 1643.4 363.3ZM1641.9 369.6 1638.4 372.8 1635.9 377.1 1634.2 382.1 1633.4 387.1 1633.7 392.1 1635.0 397.1 1637.1 400.1 1640.9 401.4 1643.4 401.0 1645.9 399.8 1650.5 395.9 1653.7 390.9 1654.8 385.9 1653.7 378.4 1650.6 372.1 1648.4 369.9 1645.9 368.8 1641.9 369.6ZM1499.6 368.3 1503.4 367.3 1505.9 367.2 1509.6 368.3 1512.1 370.0 1517.1 376.2 1521.9 387.1 1523.6 395.9 1522.7 404.6 1519.6 411.0 1517.1 413.4 1514.6 414.7 1512.1 415.3 1508.4 415.4 1504.6 414.5 1500.9 412.7 1494.6 407.1 1492.1 403.4 1489.8 398.4 1488.9 394.6 1488.8 390.9 1490.9 379.6 1492.4 375.9 1494.6 372.4 1497.1 369.8 1499.6 368.3ZM1502.8 372.1 1498.4 374.8 1496.5 377.1 1494.7 380.9 1492.7 389.6 1493.2 395.9 1495.9 401.7 1500.9 406.7 1505.9 408.8 1510.9 408.7 1513.4 407.7 1515.5 405.9 1518.4 400.9 1519.4 394.6 1518.6 388.4 1515.9 381.0 1512.1 375.4 1509.6 373.2 1507.3 372.1 1502.8 372.1Z" fill="#6084cb" stroke="#6084cb" stroke-width="0.7"/>
<path d="M1642.1 359.6 1645.9 359.2 1649.6 360.2 1652.4 362.1 1656.2 367.1 1659.6 374.6 1661.6 380.9 1662.7 388.4 1662.3 393.4 1660.9 396.9 1659.1 399.6 1652.7 407.1 1648.4 410.9 1644.0 413.4 1639.6 414.8 1634.7 415.2 1630.9 414.8 1627.1 413.4 1624.6 411.6 1622.1 408.4 1621.2 405.9 1621.4 400.9 1624.6 384.6 1626.5 378.4 1632.2 367.1 1637.0 362.1 1642.1 359.6ZM1643.1 363.4 1638.4 365.8 1634.6 370.1 1630.7 378.4 1628.8 385.9 1628.1 395.9 1629.2 403.4 1631.4 407.1 1633.4 408.6 1635.9 409.5 1638.4 409.7 1642.1 408.9 1648.4 405.2 1656.5 395.9 1657.9 393.4 1658.9 389.6 1658.9 384.6 1658.1 379.6 1655.9 373.4 1653.4 368.6 1650.9 365.5 1648.4 363.8 1645.9 363.1 1643.1 363.4ZM1499.6 364.3 1503.4 363.6 1507.1 363.9 1510.9 365.2 1513.4 367.0 1519.4 374.6 1524.9 387.1 1527.4 398.4 1527.5 404.6 1526.8 409.6 1525.3 413.4 1522.9 417.1 1519.6 419.6 1517.1 420.5 1513.4 421.2 1508.4 421.0 1504.6 419.8 1499.6 417.2 1495.9 414.0 1491.3 408.4 1488.4 403.5 1486.4 398.4 1485.6 394.6 1485.7 389.6 1486.8 382.1 1488.7 375.9 1490.9 371.5 1493.4 368.3 1496.3 365.9 1499.6 364.3ZM1499.5 368.4 1497.1 369.8 1494.7 372.4 1492.4 375.9 1490.9 379.6 1488.8 390.9 1488.9 394.6 1489.8 398.4 1492.1 403.4 1494.6 407.1 1500.9 412.7 1504.6 414.5 1508.4 415.4 1512.1 415.3 1514.7 414.7 1517.2 413.4 1519.7 410.9 1521.8 407.1 1523.0 403.4 1523.5 394.6 1521.5 385.9 1517.1 376.2 1511.7 369.6 1509.7 368.3 1505.9 367.2 1502.1 367.5 1499.5 368.4Z" fill="#7192d4" stroke="#7192d4" stroke-width="0.7"/>
<path d="M1639.6 357.1 1644.6 356.1 1649.6 357.0 1653.7 359.6 1657.7 364.6 1662.2 374.0 1665.0 383.4 1666.1 390.9 1665.1 397.1 1662.1 402.1 1655.3 409.6 1650.9 413.4 1644.6 417.0 1639.6 418.5 1633.4 419.2 1627.2 418.8 1620.2 417.1 1614.8 414.6 1612.2 412.1 1610.7 408.4 1611.2 403.4 1617.6 393.4 1621.9 379.6 1627.6 368.4 1633.4 361.1 1639.6 357.1ZM1642.0 359.6 1637.0 362.1 1632.2 367.1 1626.5 378.4 1624.6 384.6 1621.4 400.9 1621.2 405.9 1622.1 408.4 1624.6 411.6 1627.1 413.4 1630.9 414.8 1634.6 415.2 1639.6 414.8 1644.0 413.4 1648.4 410.9 1652.7 407.1 1659.1 399.6 1660.9 396.9 1662.3 393.4 1662.7 388.4 1661.6 380.9 1659.6 374.7 1656.2 367.1 1652.4 362.1 1649.6 360.2 1645.9 359.2 1642.0 359.6ZM1500.9 360.7 1505.9 360.6 1509.7 361.5 1513.1 363.4 1515.9 365.9 1522.0 374.6 1525.9 382.8 1528.4 389.6 1532.0 405.9 1532.5 410.9 1532.1 413.9 1531.0 417.1 1528.4 420.5 1524.6 423.2 1520.9 424.8 1514.6 426.1 1508.8 425.9 1504.6 424.7 1499.6 422.0 1494.6 417.6 1489.6 411.3 1485.9 404.8 1484.0 399.6 1482.8 393.4 1482.9 387.1 1484.2 379.6 1486.4 373.4 1489.2 368.4 1492.6 364.6 1496.4 362.1 1500.9 360.7ZM1498.7 364.6 1494.6 367.1 1492.2 369.6 1489.7 373.7 1487.8 378.4 1486.3 384.6 1485.5 392.1 1485.8 395.9 1487.2 400.6 1489.6 405.8 1492.1 409.6 1495.9 414.0 1499.6 417.2 1504.6 419.8 1508.4 421.0 1513.4 421.2 1518.4 420.1 1521.5 418.4 1523.9 415.9 1525.9 412.1 1527.0 408.4 1527.5 403.4 1527.3 397.1 1524.5 385.9 1519.4 374.6 1513.4 367.0 1509.6 364.6 1505.9 363.7 1502.1 363.7 1498.7 364.6Z" fill="#8aa8df" stroke="#8aa8df" stroke-width="0.7"/>
<path d="M1643.4 353.3 1648.4 353.7 1653.4 356.2 1658.0 360.9 1661.7 367.1 1665.9 377.1 1668.9 388.4 1669.0 394.6 1667.2 400.7 1664.3 404.6 1655.6 413.4 1648.4 418.3 1643.4 420.4 1635.9 422.1 1628.4 422.5 1618.4 421.6 1610.7 419.6 1607.1 417.1 1605.1 413.4 1604.7 407.1 1606.2 400.9 1607.7 398.4 1612.1 394.2 1614.5 390.9 1619.5 377.1 1623.4 369.6 1628.4 362.5 1632.1 358.5 1635.9 355.8 1639.6 354.0 1643.4 353.3ZM1639.5 357.1 1633.4 361.1 1627.6 368.4 1621.9 379.6 1617.6 393.4 1611.2 403.4 1610.7 408.4 1612.2 412.1 1614.8 414.6 1620.2 417.1 1627.1 418.8 1633.4 419.2 1639.6 418.5 1644.6 417.0 1650.9 413.4 1655.3 409.6 1662.1 402.1 1665.1 397.1 1666.1 390.9 1665.0 383.4 1662.1 374.0 1657.7 364.6 1653.7 359.6 1649.6 357.0 1644.6 356.1 1639.5 357.1ZM1498.4 358.2 1502.1 357.6 1507.1 357.9 1510.9 359.2 1514.6 361.6 1517.7 364.6 1521.5 369.6 1528.1 382.1 1537.6 408.4 1538.9 414.6 1538.3 418.4 1537.0 420.9 1533.4 424.1 1528.4 426.8 1523.4 428.5 1517.1 429.7 1509.6 429.5 1504.6 428.4 1498.2 424.6 1494.6 421.7 1487.9 413.4 1483.4 405.3 1481.0 398.4 1480.1 392.1 1480.3 384.6 1481.9 377.1 1484.6 370.3 1488.4 364.6 1493.4 360.3 1498.4 358.2ZM1500.0 360.9 1495.9 362.4 1492.2 365.0 1488.4 369.6 1485.8 374.6 1483.9 380.9 1482.7 389.6 1483.1 395.9 1484.4 400.9 1487.1 407.1 1490.9 413.0 1495.9 418.9 1499.6 422.0 1504.6 424.7 1508.8 425.9 1514.6 426.1 1520.9 424.8 1524.6 423.2 1528.4 420.5 1531.0 417.1 1532.1 413.9 1532.5 410.9 1532.0 405.9 1528.4 389.6 1525.9 382.8 1522.0 374.6 1515.9 365.9 1512.1 362.8 1508.4 361.1 1504.6 360.5 1500.0 360.9Z" fill="#a5c0e9" stroke="#a5c0e9" stroke-width="0.7"/>
<path d="M1640.9 350.7 1647.1 350.6 1652.1 352.4 1657.1 356.3 1662.1 363.1 1667.6 374.6 1671.4 387.1 1671.9 394.6 1670.2 400.9 1667.1 405.5 1657.9 414.6 1650.7 419.6 1644.6 422.5 1635.9 424.7 1625.9 425.4 1613.4 424.8 1605.9 423.0 1603.4 421.5 1601.7 419.6 1600.2 414.6 1600.7 407.1 1603.4 398.8 1604.6 396.8 1609.6 392.5 1611.8 389.6 1615.8 378.4 1621.2 368.4 1627.1 360.1 1633.4 354.2 1637.1 352.0 1640.9 350.7ZM1642.2 353.4 1638.4 354.5 1634.6 356.6 1630.9 359.6 1627.7 363.4 1623.4 369.6 1618.9 378.4 1614.5 390.9 1612.1 394.2 1607.7 398.4 1606.2 400.9 1604.7 407.1 1605.1 413.4 1607.1 417.1 1610.7 419.6 1618.4 421.6 1628.4 422.5 1635.9 422.1 1643.4 420.4 1649.6 417.6 1655.9 413.1 1664.3 404.6 1667.7 399.6 1669.1 393.4 1668.4 385.9 1665.0 374.6 1660.4 364.6 1655.9 358.4 1652.1 355.3 1647.1 353.4 1642.2 353.4ZM1497.1 355.5 1504.6 354.8 1508.4 355.4 1512.1 356.8 1517.1 360.8 1523.4 368.9 1529.9 380.9 1537.1 398.4 1542.8 408.4 1544.8 413.4 1545.6 417.1 1545.4 420.9 1544.3 423.4 1541.6 425.9 1533.3 429.6 1523.4 432.2 1515.9 432.8 1505.9 431.5 1502.1 429.9 1494.3 424.6 1485.1 413.4 1480.5 404.6 1478.1 395.9 1477.3 388.4 1478.2 379.6 1481.2 370.9 1485.6 363.4 1490.9 358.5 1497.1 355.5ZM1497.7 358.4 1492.5 360.9 1488.3 364.6 1484.3 370.9 1481.5 378.4 1480.2 385.9 1480.2 393.4 1481.7 400.9 1484.2 407.1 1488.4 414.1 1494.6 421.7 1498.2 424.6 1504.7 428.4 1509.7 429.5 1517.1 429.7 1523.8 428.4 1530.3 425.9 1534.4 423.4 1537.1 420.6 1538.7 417.1 1538.8 413.4 1537.6 408.4 1531.0 389.6 1526.9 379.6 1520.6 368.4 1517.1 364.0 1513.4 360.6 1509.7 358.6 1505.9 357.7 1502.1 357.6 1497.7 358.4Z" fill="#b6ccee" stroke="#b6ccee" stroke-width="0.7"/>
<path d="M1639.6 348.0 1645.9 347.5 1652.2 349.3 1657.8 353.4 1663.4 360.5 1669.2 372.1 1673.9 385.9 1674.6 393.4 1674.1 397.1 1672.8 400.9 1669.6 406.0 1659.6 415.9 1650.9 421.9 1644.6 424.7 1634.6 427.2 1623.4 428.2 1608.4 427.6 1602.0 425.9 1599.6 424.6 1597.3 422.1 1596.0 417.1 1597.0 408.4 1600.4 399.6 1603.4 394.7 1609.0 389.6 1610.9 385.9 1613.4 378.2 1619.5 367.1 1625.9 358.0 1632.1 351.9 1635.9 349.6 1639.6 348.0ZM1640.3 350.9 1637.1 352.0 1632.8 354.6 1626.5 360.9 1621.2 368.4 1615.8 378.4 1611.8 389.6 1609.6 392.5 1604.6 396.8 1603.4 398.8 1600.7 407.1 1600.2 414.6 1601.7 419.6 1603.4 421.5 1605.9 423.0 1613.4 424.8 1625.9 425.4 1635.9 424.7 1644.6 422.5 1650.7 419.6 1657.9 414.6 1667.1 405.5 1670.2 400.9 1671.9 394.6 1671.9 390.9 1671.2 385.9 1667.1 373.4 1661.6 362.1 1657.1 356.3 1652.1 352.4 1645.9 350.4 1640.3 350.9ZM1499.7 352.1 1507.1 352.2 1513.4 354.5 1518.4 358.8 1525.5 368.4 1531.8 379.6 1539.7 396.9 1546.1 405.9 1550.9 415.9 1551.8 419.6 1551.6 423.4 1549.8 427.1 1547.0 429.6 1543.4 431.2 1535.9 433.2 1524.6 435.1 1515.9 435.3 1505.2 433.4 1502.1 432.1 1492.9 425.9 1485.2 417.1 1481.8 412.1 1477.6 403.4 1475.1 393.4 1474.7 384.6 1476.2 375.9 1480.5 365.9 1485.0 359.6 1488.4 356.7 1492.1 354.4 1499.7 352.1ZM1496.0 355.9 1489.6 359.4 1484.7 364.6 1480.6 372.1 1478.0 380.9 1477.3 389.6 1478.6 398.4 1481.1 405.9 1485.9 414.6 1494.6 424.9 1503.4 430.6 1507.1 431.7 1515.9 432.8 1523.5 432.1 1533.3 429.6 1541.6 425.9 1544.3 423.4 1545.4 420.9 1545.6 417.2 1544.8 413.4 1542.8 408.4 1537.1 398.4 1529.3 379.6 1523.1 368.4 1517.1 360.8 1514.5 358.4 1510.9 356.2 1507.1 355.1 1503.4 354.7 1496.0 355.9Z" fill="#c7d9f3" stroke="#c7d9f3" stroke-width="0.7"/>
<path d="M1640.9 344.6 1644.6 344.3 1648.4 344.8 1654.6 347.4 1660.4 352.1 1665.8 359.6 1672.0 372.1 1676.3 384.6 1677.1 393.4 1676.5 397.1 1675.2 400.9 1670.9 407.3 1660.9 417.2 1653.4 422.5 1644.6 426.6 1633.4 429.5 1619.6 430.8 1605.9 430.4 1598.4 428.2 1593.9 424.6 1592.5 422.1 1591.8 419.6 1592.5 412.1 1595.2 404.6 1600.4 395.9 1607.2 388.4 1611.9 377.1 1618.4 365.4 1624.6 356.1 1628.4 351.8 1632.1 348.6 1635.9 346.3 1640.9 344.6ZM1638.5 348.4 1632.1 351.9 1625.6 358.4 1619.5 367.1 1613.4 378.2 1609.6 388.5 1608.0 390.9 1603.4 394.7 1599.8 400.9 1596.7 409.6 1596.0 417.1 1597.3 422.1 1599.7 424.6 1602.0 425.9 1608.4 427.6 1623.4 428.2 1634.6 427.2 1644.6 424.7 1650.9 421.9 1659.6 415.9 1669.6 406.0 1672.8 400.9 1674.1 397.1 1674.6 393.4 1673.9 385.9 1669.2 372.1 1662.8 359.6 1657.1 352.7 1652.2 349.3 1645.9 347.5 1642.2 347.5 1638.5 348.4ZM1497.1 349.6 1502.1 348.8 1505.9 348.9 1509.6 349.6 1513.4 351.3 1519.6 356.8 1527.2 367.2 1533.7 378.4 1541.9 394.6 1551.0 407.1 1556.2 417.1 1557.0 422.1 1556.3 425.9 1554.3 429.6 1550.2 433.4 1547.1 434.9 1542.2 436.2 1525.9 438.0 1515.9 437.6 1504.7 435.0 1501.2 433.4 1492.0 427.1 1483.7 418.4 1480.2 413.4 1475.6 404.6 1472.5 393.4 1471.9 384.6 1473.1 375.9 1477.1 365.9 1482.2 358.4 1488.4 353.3 1492.1 351.3 1497.1 349.6ZM1499.2 352.1 1494.6 353.3 1490.9 355.1 1484.6 360.1 1479.8 367.1 1475.8 377.1 1474.6 385.9 1475.3 394.6 1478.1 404.6 1482.6 413.4 1485.9 418.1 1492.9 425.9 1502.1 432.1 1505.2 433.4 1515.9 435.3 1524.6 435.1 1535.9 433.2 1543.4 431.2 1547.0 429.6 1549.8 427.1 1551.6 423.4 1551.8 419.6 1550.9 415.9 1546.1 405.9 1539.6 396.9 1531.8 379.6 1525.5 368.4 1518.4 358.8 1513.4 354.5 1507.1 352.2 1499.2 352.1Z" fill="#dde8f8" stroke="#dde8f8" stroke-width="0.7"/>
<path d="M1638.4 341.9 1642.2 341.1 1645.9 341.2 1649.6 341.9 1653.8 343.4 1657.1 345.4 1660.8 348.4 1666.8 355.9 1673.9 369.6 1678.8 383.4 1679.6 392.5 1678.9 397.1 1677.4 400.9 1672.1 408.4 1660.9 419.4 1653.4 424.5 1644.6 428.5 1633.4 431.7 1618.4 433.4 1604.6 433.2 1599.6 432.3 1595.8 430.9 1592.1 428.7 1589.6 426.2 1587.8 423.4 1587.0 420.9 1587.4 415.9 1590.6 407.1 1594.6 400.9 1605.6 387.1 1610.6 375.9 1617.1 364.0 1623.4 354.2 1627.2 349.5 1630.9 346.0 1634.6 343.5 1638.4 341.9ZM1640.7 344.6 1635.9 346.3 1632.1 348.6 1628.4 351.8 1624.6 356.1 1618.4 365.4 1611.9 377.1 1607.2 388.4 1600.4 395.9 1595.2 404.6 1592.5 412.1 1591.8 419.6 1592.5 422.1 1593.9 424.6 1598.4 428.2 1605.9 430.4 1619.6 430.8 1633.4 429.5 1644.6 426.6 1653.4 422.5 1660.9 417.2 1670.9 407.3 1675.2 400.9 1676.5 397.1 1677.1 393.4 1676.3 384.6 1672.0 372.1 1665.8 359.6 1660.4 352.1 1654.6 347.4 1650.9 345.6 1647.1 344.6 1640.7 344.6ZM1500.9 345.8 1507.1 345.8 1512.1 347.3 1517.1 350.6 1520.9 354.6 1530.5 368.4 1544.6 393.1 1553.3 404.6 1559.9 414.6 1562.3 420.9 1561.7 425.9 1558.1 432.1 1555.8 434.6 1552.1 437.3 1548.4 438.9 1543.4 440.0 1527.1 440.7 1515.9 439.7 1503.4 436.2 1495.9 431.7 1489.8 427.1 1481.3 418.4 1475.5 409.6 1473.1 404.7 1470.9 398.0 1470.9 372.6 1471.9 369.6 1477.1 359.8 1483.2 353.4 1490.9 348.8 1495.9 346.9 1500.9 345.8ZM1496.9 349.6 1488.4 353.3 1482.2 358.4 1477.1 365.9 1473.1 375.9 1471.9 384.6 1472.5 393.4 1475.6 404.6 1480.2 413.4 1483.7 418.4 1492.0 427.1 1501.2 433.4 1504.7 435.0 1515.9 437.6 1525.9 438.0 1542.1 436.2 1547.1 434.9 1550.2 433.4 1554.3 429.6 1556.3 425.9 1557.0 422.1 1556.2 417.1 1551.0 407.1 1541.9 394.6 1533.7 378.4 1527.2 367.1 1519.6 356.8 1513.4 351.3 1509.6 349.6 1505.9 348.9 1500.9 348.9 1496.9 349.6Z" fill="#f6f8fd" stroke="#f6f8fd" stroke-width="0.7"/>
<path d="M1639.6 338.1 1643.4 337.7 1647.1 338.0 1654.6 340.2 1660.9 344.2 1666.1 349.6 1673.1 360.9 1679.5 375.9 1679.6 388.9 1678.1 380.9 1673.9 369.6 1668.3 358.4 1662.0 349.6 1655.9 344.5 1649.6 341.9 1643.4 341.1 1637.1 342.3 1633.4 344.2 1629.6 347.1 1623.4 354.2 1617.1 364.0 1610.6 375.9 1605.6 387.1 1592.0 404.6 1589.0 410.9 1587.1 417.1 1587.0 420.9 1588.5 424.6 1590.9 427.6 1594.6 430.3 1599.1 432.1 1604.6 433.2 1612.1 433.5 1622.1 433.2 1630.9 432.1 1638.4 430.5 1645.9 428.1 1652.1 425.2 1658.4 421.4 1663.4 417.2 1671.0 409.6 1676.0 403.4 1678.5 398.4 1679.6 392.5 1679.6 401.1 1676.5 405.9 1672.1 410.9 1660.9 421.8 1655.9 425.3 1650.9 427.9 1642.1 431.6 1628.4 435.0 1615.9 436.3 1602.1 436.1 1597.1 435.2 1592.1 433.3 1588.2 430.9 1579.6 423.8 1576.9 422.1 1576.4 420.9 1579.6 418.4 1582.1 415.4 1589.2 403.4 1599.8 392.1 1602.7 388.4 1607.9 377.1 1615.4 363.4 1624.6 348.6 1628.4 344.4 1632.1 341.4 1635.9 339.3 1639.6 338.1ZM1498.4 343.2 1504.6 342.4 1510.9 343.3 1514.6 345.1 1519.6 349.4 1524.0 354.6 1530.8 364.6 1547.8 392.1 1558.4 405.8 1571.2 420.9 1571.5 422.1 1570.7 423.4 1562.8 433.4 1558.4 437.9 1554.6 440.6 1550.9 442.3 1545.7 443.4 1529.6 443.6 1515.9 441.9 1503.4 437.8 1494.6 432.8 1488.9 428.4 1479.9 419.6 1473.6 410.9 1470.9 405.5 1470.9 398.0 1473.6 405.9 1477.7 413.4 1482.4 419.6 1489.8 427.1 1502.2 435.6 1510.9 438.5 1517.1 440.0 1524.6 440.7 1533.4 440.7 1542.1 440.1 1548.4 438.9 1552.1 437.3 1555.9 434.6 1559.1 430.9 1561.7 425.9 1562.4 422.1 1562.0 419.6 1558.5 412.1 1544.0 392.1 1534.3 374.6 1525.6 360.9 1519.6 353.1 1513.4 347.9 1508.4 346.0 1502.1 345.7 1494.6 347.3 1487.1 350.7 1481.7 354.6 1477.3 359.6 1473.6 365.9 1470.9 372.6 1470.9 364.0 1474.3 358.4 1477.3 354.6 1481.4 350.9 1485.9 348.0 1492.1 345.2 1498.4 343.2Z" fill="#fef7f6" stroke="#fef7f6" stroke-width="0.7"/>
<path d="M1640.9 334.5 1648.4 334.9 1655.9 337.1 1660.9 340.0 1666.1 344.7 1672.6 353.4 1679.0 365.9 1679.6 367.4 1679.6 376.2 1675.5 365.9 1670.3 355.9 1665.9 349.5 1660.9 344.2 1654.6 340.2 1648.4 338.2 1642.1 337.7 1635.9 339.3 1629.6 343.3 1623.4 350.2 1616.1 362.1 1608.6 375.9 1602.7 388.4 1599.8 392.1 1589.2 403.4 1582.1 415.4 1579.6 418.4 1576.4 420.9 1576.9 422.1 1579.6 423.8 1588.4 431.0 1592.3 433.4 1597.1 435.2 1602.1 436.1 1609.6 436.5 1618.4 436.2 1628.4 435.0 1642.1 431.6 1649.6 428.6 1657.1 424.5 1662.1 420.7 1670.9 412.2 1676.5 405.9 1679.6 401.1 1679.6 405.0 1668.4 417.5 1658.4 426.1 1649.6 431.1 1635.9 436.3 1627.1 438.5 1618.4 439.8 1609.6 440.2 1602.1 439.8 1594.6 438.5 1589.6 436.6 1579.6 431.2 1575.9 430.3 1573.4 430.9 1570.9 432.2 1559.1 442.1 1553.4 445.3 1548.4 446.6 1543.4 447.0 1528.4 446.3 1514.6 443.8 1499.6 437.9 1488.4 430.2 1480.9 423.6 1475.3 417.1 1470.9 410.7 1470.9 405.5 1475.2 413.4 1482.2 422.1 1493.4 431.9 1503.4 437.8 1515.9 441.9 1528.4 443.6 1544.6 443.5 1549.6 442.6 1553.4 441.3 1557.8 438.4 1562.8 433.4 1570.7 423.4 1571.5 422.1 1571.2 420.9 1558.4 405.8 1547.8 392.1 1530.8 364.6 1524.0 354.6 1519.6 349.4 1514.6 345.1 1509.6 343.0 1503.4 342.4 1495.9 343.9 1487.1 347.3 1480.9 351.3 1475.2 357.1 1470.9 364.0 1470.9 357.4 1473.0 354.6 1477.1 350.3 1482.1 346.6 1487.1 344.0 1495.9 340.7 1500.9 339.6 1505.9 339.3 1510.9 340.1 1514.7 341.6 1519.6 345.5 1524.6 351.5 1548.4 387.6 1557.1 398.9 1562.1 404.5 1567.1 408.9 1570.9 411.5 1574.6 412.6 1577.1 412.0 1579.6 410.3 1587.1 400.9 1599.7 389.9 1606.4 375.9 1617.2 355.9 1624.6 344.2 1628.4 340.3 1632.1 337.5 1635.9 335.7 1640.9 334.5Z" fill="#fde8e5" stroke="#fde8e5" stroke-width="0.7"/>
<path d="M1635.9 332.1 1643.4 331.1 1650.9 332.1 1658.4 334.6 1664.6 338.6 1671.6 345.9 1678.4 356.8 1679.6 359.3 1679.6 367.4 1674.7 357.1 1670.1 349.6 1665.9 344.5 1660.4 339.6 1654.6 336.6 1645.9 334.5 1639.7 334.6 1634.6 336.2 1630.9 338.4 1627.1 341.5 1621.6 348.4 1606.4 375.9 1599.7 389.9 1587.1 400.9 1579.6 410.3 1575.9 412.4 1573.4 412.5 1569.6 410.7 1563.4 405.7 1558.4 400.4 1548.4 387.6 1524.6 351.5 1519.6 345.5 1514.6 341.6 1509.6 339.8 1504.6 339.3 1499.6 339.8 1493.4 341.6 1485.8 344.6 1479.6 348.3 1475.2 352.1 1470.9 357.4 1470.9 351.8 1471.7 350.9 1478.4 345.2 1485.9 341.1 1494.6 337.9 1502.1 336.5 1508.4 336.6 1514.6 338.3 1519.6 341.7 1524.6 347.2 1550.1 384.6 1558.4 395.1 1563.4 400.1 1567.1 402.9 1570.9 404.8 1574.6 405.3 1578.4 403.9 1597.1 389.6 1604.4 374.6 1620.7 344.6 1624.6 339.7 1628.4 336.2 1632.2 333.7 1635.9 332.1ZM1679.6 405.0 1679.4 408.4 1668.4 420.5 1657.1 430.2 1650.9 434.2 1635.9 440.4 1627.1 443.1 1619.6 444.6 1608.4 445.2 1595.9 443.3 1580.9 437.6 1575.9 436.8 1573.4 437.3 1569.6 439.1 1559.8 445.9 1555.9 448.0 1550.9 449.6 1545.9 450.2 1534.6 449.7 1520.9 447.7 1510.9 444.9 1499.6 440.2 1492.1 435.7 1480.9 426.4 1476.7 422.1 1470.9 415.0 1470.9 410.7 1476.3 418.4 1482.1 424.6 1493.4 434.0 1502.1 439.2 1512.1 443.0 1519.6 445.0 1532.1 446.6 1543.4 447.0 1550.9 446.1 1555.9 444.3 1560.8 440.9 1570.9 432.2 1573.4 430.9 1575.9 430.3 1579.6 431.2 1592.1 437.7 1602.1 439.8 1609.6 440.2 1618.4 439.8 1627.1 438.5 1635.9 436.3 1649.6 431.1 1658.4 426.1 1668.4 417.5 1679.6 405.0Z" fill="#fbd9d4" stroke="#fbd9d4" stroke-width="0.7"/>
<path d="M1637.1 328.3 1644.6 327.9 1652.1 328.9 1659.6 331.3 1665.3 334.6 1672.2 340.9 1679.3 350.9 1679.6 359.3 1675.1 350.9 1670.6 344.6 1665.9 339.6 1659.6 335.2 1653.4 332.7 1645.9 331.2 1639.7 331.3 1633.4 333.1 1629.6 335.3 1625.9 338.4 1619.9 345.9 1603.8 375.9 1597.1 389.6 1578.4 403.9 1574.6 405.3 1570.9 404.8 1567.1 402.9 1562.1 398.9 1557.1 393.7 1549.6 384.0 1525.5 348.4 1520.9 342.9 1515.9 338.9 1510.9 337.0 1505.9 336.4 1499.6 336.8 1494.6 337.9 1487.2 340.6 1480.9 343.6 1475.7 347.1 1470.9 351.8 1470.9 346.7 1472.1 345.6 1479.6 340.4 1488.4 336.5 1495.9 334.4 1503.4 333.5 1509.6 333.8 1515.9 335.6 1520.9 338.9 1525.9 344.5 1550.9 380.5 1558.4 389.8 1563.4 394.6 1567.1 397.2 1570.9 398.8 1574.6 399.0 1578.4 398.0 1582.1 396.0 1590.8 390.9 1594.6 387.7 1614.3 349.6 1619.6 340.9 1623.8 335.9 1628.3 332.1 1632.1 329.9 1637.1 328.3ZM1679.6 408.2 1679.6 411.4 1669.6 422.7 1662.1 428.9 1657.1 434.1 1652.1 437.0 1636.4 443.4 1627.1 446.2 1618.4 448.2 1608.4 449.0 1598.4 448.1 1580.9 442.5 1575.9 442.0 1569.7 443.9 1555.9 451.5 1552.1 452.6 1547.2 453.3 1535.9 452.7 1520.9 450.2 1510.9 447.3 1498.4 442.3 1492.1 439.0 1484.6 433.2 1477.1 426.1 1470.9 418.8 1470.9 415.0 1477.8 423.4 1486.0 430.9 1493.4 436.6 1502.1 441.3 1512.2 445.3 1522.1 447.9 1534.6 449.7 1545.9 450.2 1550.9 449.6 1555.9 448.0 1559.8 445.9 1569.6 439.1 1573.4 437.3 1575.9 436.8 1580.9 437.6 1595.9 443.3 1608.4 445.2 1618.4 444.9 1625.9 443.4 1634.6 440.8 1650.9 434.2 1655.9 431.2 1668.4 420.5 1679.6 408.2Z" fill="#facbc4" stroke="#facbc4" stroke-width="0.7"/>
<path d="M1639.6 324.6 1648.4 324.9 1654.6 325.9 1660.9 328.0 1667.1 331.4 1673.9 337.1 1679.6 344.3 1679.7 351.5 1675.2 344.6 1670.9 339.5 1665.3 334.6 1659.6 331.3 1652.1 328.9 1644.6 327.9 1638.4 328.1 1632.1 329.9 1628.4 332.1 1624.6 335.1 1617.9 343.4 1594.6 387.7 1590.8 390.9 1582.1 396.0 1578.4 398.0 1574.6 399.0 1570.9 398.8 1567.2 397.2 1563.4 394.6 1558.4 389.8 1550.9 380.5 1526.0 344.6 1520.9 338.9 1516.4 335.9 1512.1 334.3 1507.1 333.6 1500.9 333.6 1494.6 334.6 1487.1 337.0 1480.9 339.7 1475.9 342.7 1470.9 346.7 1470.9 341.9 1478.4 337.0 1488.4 332.9 1495.9 331.1 1503.4 330.5 1510.9 331.1 1517.1 332.8 1522.1 335.9 1526.8 340.9 1549.6 373.6 1559.6 385.9 1564.6 390.2 1568.4 392.4 1572.1 393.6 1575.9 393.5 1579.6 392.4 1584.7 389.9 1588.9 387.1 1591.5 384.6 1613.2 344.6 1620.2 334.6 1624.6 330.5 1629.6 327.2 1634.6 325.3 1639.6 324.6ZM1679.6 411.4 1679.6 414.8 1672.4 423.4 1669.6 426.2 1663.4 430.4 1658.4 435.9 1645.9 442.0 1637.1 445.2 1618.4 450.2 1610.9 451.3 1603.4 451.5 1594.6 450.6 1579.6 446.6 1574.7 446.5 1569.6 448.0 1557.1 454.5 1552.1 455.9 1548.4 456.3 1537.1 455.7 1523.4 453.3 1510.9 449.8 1498.4 445.0 1492.1 442.1 1482.1 434.9 1470.9 422.7 1470.9 418.8 1480.9 429.8 1490.9 438.1 1497.1 441.7 1507.1 445.9 1515.9 448.9 1527.1 451.4 1538.4 453.0 1547.2 453.3 1552.1 452.6 1555.9 451.5 1569.6 443.9 1575.9 442.0 1580.9 442.5 1598.4 448.1 1608.4 449.0 1618.4 448.2 1627.1 446.2 1636.4 443.4 1652.2 437.0 1657.2 434.1 1662.1 428.9 1669.6 422.7 1679.6 411.4Z" fill="#f8bbb2" stroke="#f8bbb2" stroke-width="0.7"/>
<path d="M1633.4 321.8 1638.4 321.1 1650.9 321.6 1658.4 323.1 1664.6 325.6 1672.9 330.9 1679.6 337.7 1679.6 344.3 1675.0 338.4 1669.8 333.4 1664.6 329.9 1658.7 327.1 1652.1 325.4 1643.4 324.6 1635.9 325.0 1630.9 326.6 1623.4 331.5 1616.3 339.6 1591.5 384.6 1588.9 387.1 1584.7 389.9 1579.6 392.4 1575.9 393.5 1572.1 393.6 1568.4 392.4 1564.7 390.2 1559.6 385.9 1549.6 373.6 1526.8 340.9 1522.1 335.9 1518.3 333.4 1513.4 331.6 1507.1 330.6 1500.9 330.5 1494.6 331.3 1488.4 332.9 1482.1 335.2 1475.9 338.4 1470.9 341.9 1470.9 337.1 1479.6 332.2 1489.6 328.8 1497.1 327.5 1505.9 327.4 1513.4 328.2 1519.6 330.2 1524.5 333.4 1528.1 337.1 1549.6 368.3 1559.6 380.7 1564.6 385.0 1568.4 387.2 1572.1 388.4 1575.9 388.4 1582.1 385.9 1585.9 383.2 1588.4 380.5 1595.3 370.9 1610.5 342.1 1616.3 333.4 1620.9 328.7 1624.5 325.9 1628.4 323.7 1633.4 321.8ZM1679.6 414.8 1679.6 418.5 1674.5 424.6 1670.9 428.0 1664.6 431.5 1659.6 436.9 1646.2 443.4 1637.1 446.6 1618.4 451.7 1603.4 453.5 1595.5 453.4 1579.6 450.6 1574.6 450.6 1569.6 452.1 1558.4 457.4 1550.9 459.1 1539.6 458.7 1528.4 457.0 1515.9 454.0 1504.6 450.2 1490.9 443.7 1480.9 437.2 1470.9 426.5 1470.9 422.7 1481.9 434.6 1490.9 441.3 1507.1 448.5 1517.1 451.8 1528.4 454.3 1539.6 456.0 1548.4 456.3 1552.1 455.9 1557.1 454.5 1569.6 448.0 1574.6 446.5 1579.6 446.6 1594.6 450.6 1603.4 451.5 1610.9 451.3 1618.4 450.2 1637.1 445.2 1645.9 442.0 1658.4 435.9 1663.4 430.4 1670.9 425.1 1679.6 414.8Z" fill="#f5a99e" stroke="#f5a99e" stroke-width="0.7"/>
<path d="M1632.2 318.3 1638.4 317.4 1650.9 317.8 1658.4 319.1 1664.6 321.2 1672.1 325.3 1679.6 331.5 1679.6 337.7 1674.7 332.4 1669.5 328.4 1663.4 325.0 1657.1 322.8 1649.6 321.5 1638.4 321.1 1633.4 321.8 1628.4 323.7 1621.2 328.4 1614.4 335.9 1609.6 343.7 1595.3 370.9 1588.1 380.9 1582.1 385.9 1575.9 388.4 1572.1 388.4 1568.4 387.2 1564.6 385.0 1559.6 380.7 1549.6 368.3 1528.1 337.1 1524.5 333.4 1519.6 330.2 1514.6 328.5 1508.4 327.5 1500.9 327.3 1494.6 327.8 1488.4 329.1 1482.1 331.1 1475.9 334.0 1470.9 337.1 1470.9 332.2 1479.6 327.9 1489.7 324.9 1498.4 323.8 1507.1 323.9 1515.9 325.0 1522.1 327.1 1527.1 330.2 1531.6 334.6 1537.1 342.5 1550.3 363.4 1559.6 375.4 1563.4 378.9 1567.1 381.4 1570.9 382.9 1574.6 383.3 1578.4 382.4 1583.4 379.5 1592.1 370.0 1598.0 359.6 1608.8 337.1 1613.7 329.6 1617.5 325.9 1622.2 322.6 1627.1 320.0 1632.2 318.3ZM1679.6 418.5 1679.6 422.3 1676.3 425.9 1672.1 429.3 1665.9 432.4 1660.9 437.5 1647.1 444.2 1638.4 447.4 1618.4 452.9 1603.4 455.2 1594.6 455.5 1579.6 454.6 1574.6 454.9 1559.6 460.3 1550.9 461.8 1539.6 461.4 1528.4 459.7 1517.1 457.0 1505.9 453.2 1497.1 449.1 1479.6 438.7 1470.9 430.2 1470.9 426.5 1480.9 437.2 1490.9 443.7 1507.1 451.1 1518.4 454.7 1529.6 457.3 1540.9 458.8 1550.9 459.1 1558.4 457.4 1569.6 452.1 1574.6 450.6 1579.7 450.6 1595.5 453.4 1603.4 453.5 1618.4 451.7 1637.2 446.6 1646.2 443.4 1659.6 436.9 1664.7 431.5 1672.0 427.1 1679.6 418.5Z" fill="#f29288" stroke="#f29288" stroke-width="0.7"/>
<path d="M1640.9 313.4 1649.6 313.6 1655.9 314.4 1662.1 315.9 1668.4 318.3 1674.6 321.8 1679.6 325.6 1679.6 331.5 1674.6 327.1 1668.4 323.0 1662.1 320.3 1655.9 318.6 1648.4 317.6 1637.1 317.5 1630.9 318.7 1625.3 320.9 1617.5 325.9 1611.8 332.1 1608.1 338.4 1597.3 360.9 1590.9 371.6 1585.9 377.2 1582.1 380.4 1578.4 382.4 1574.6 383.3 1570.9 382.9 1567.1 381.4 1563.4 378.9 1559.6 375.4 1550.3 363.4 1537.1 342.5 1531.6 334.6 1527.1 330.2 1522.2 327.1 1517.1 325.3 1510.9 324.2 1503.4 323.7 1495.9 324.0 1483.4 326.5 1477.2 328.9 1470.9 332.2 1470.9 327.3 1480.9 323.0 1490.9 320.5 1499.6 319.7 1509.6 320.0 1518.4 321.4 1525.9 323.8 1532.1 327.3 1537.2 332.1 1540.3 337.1 1552.4 359.6 1560.9 371.1 1564.7 374.6 1568.4 377.0 1572.2 378.2 1575.9 378.2 1579.6 377.0 1583.4 374.6 1588.4 370.0 1591.5 365.9 1597.8 353.4 1606.2 332.1 1608.4 328.0 1611.2 324.6 1617.1 320.3 1625.9 316.2 1633.4 314.1 1640.9 313.4ZM1679.6 422.3 1679.6 425.7 1678.1 427.1 1673.4 430.5 1665.9 434.0 1660.9 438.8 1647.1 445.3 1638.4 448.4 1614.6 454.9 1595.9 457.5 1577.1 458.8 1560.9 463.4 1553.4 464.5 1542.1 464.2 1529.7 462.6 1519.6 460.4 1509.7 457.2 1499.6 452.8 1485.9 443.9 1478.4 440.1 1470.9 433.8 1470.9 430.2 1479.6 438.7 1497.1 449.1 1509.6 454.6 1519.6 457.7 1529.6 459.9 1540.9 461.5 1550.9 461.8 1559.6 460.3 1574.6 454.9 1579.6 454.6 1594.6 455.5 1603.4 455.2 1618.4 452.9 1637.1 447.8 1646.0 444.6 1659.6 438.3 1665.9 432.4 1673.5 428.4 1679.6 422.3Z" fill="#ee7870" stroke="#ee7870" stroke-width="0.7"/>
<path d="M1635.9 309.5 1643.4 309.0 1652.2 309.4 1659.6 310.7 1665.9 312.5 1673.4 315.8 1679.6 319.8 1679.6 325.6 1673.4 321.0 1667.1 317.7 1659.6 315.2 1652.1 313.8 1642.1 313.4 1634.6 313.9 1627.1 315.8 1619.6 318.9 1612.5 323.4 1608.2 328.4 1605.1 334.6 1596.2 357.1 1592.3 364.6 1589.8 368.4 1585.9 372.5 1582.1 375.5 1578.4 377.5 1574.6 378.3 1570.9 377.9 1567.1 376.3 1563.4 373.6 1559.6 369.7 1551.6 358.4 1538.1 333.4 1533.6 328.4 1527.8 324.6 1521.4 322.1 1514.6 320.6 1507.1 319.9 1498.4 319.8 1490.9 320.5 1484.6 321.8 1477.1 324.3 1470.9 327.3 1470.9 322.2 1472.1 321.6 1483.4 317.6 1495.9 315.5 1505.9 315.3 1517.1 316.4 1526.7 318.4 1537.1 321.9 1541.6 324.6 1544.4 328.4 1553.4 352.1 1556.5 358.4 1559.7 363.4 1564.0 368.4 1568.4 371.8 1572.1 373.3 1575.9 373.5 1579.6 372.5 1583.4 370.4 1587.1 367.1 1590.7 362.1 1596.5 348.4 1602.5 327.1 1604.2 323.4 1605.9 321.1 1609.6 318.2 1615.9 315.2 1628.4 311.1 1635.9 309.5ZM1679.6 425.7 1679.6 428.6 1676.4 430.9 1665.9 435.5 1662.2 439.3 1659.6 440.9 1645.9 447.0 1615.9 456.0 1580.9 462.2 1563.4 466.6 1554.6 467.6 1540.9 466.7 1527.1 464.7 1510.9 460.3 1499.6 455.2 1487.2 446.1 1477.2 441.4 1470.9 436.9 1470.9 433.8 1477.7 439.6 1485.9 443.9 1498.4 452.0 1504.6 455.2 1513.4 458.5 1523.4 461.3 1533.4 463.2 1544.6 464.4 1553.4 464.5 1560.9 463.4 1577.1 458.8 1595.9 457.5 1614.7 454.9 1637.1 448.8 1645.9 445.8 1659.6 439.6 1665.9 434.0 1674.6 429.8 1679.6 425.7Z" fill="#e95e5b" stroke="#e95e5b" stroke-width="0.7"/>
<path d="M1639.6 304.6 1647.1 304.4 1654.6 305.0 1662.1 306.4 1668.4 308.3 1679.6 314.0 1679.6 319.8 1672.1 315.1 1664.6 312.0 1655.9 309.9 1647.1 309.1 1638.4 309.3 1630.9 310.4 1618.4 314.3 1610.9 317.5 1606.1 320.9 1603.4 324.9 1596.0 349.6 1593.1 357.1 1589.9 363.4 1587.1 367.1 1583.4 370.4 1579.6 372.5 1575.9 373.5 1572.1 373.3 1568.4 371.8 1564.0 368.4 1559.7 363.4 1556.5 358.4 1553.4 352.1 1544.4 328.4 1541.6 324.6 1537.7 322.1 1528.4 318.9 1519.6 316.8 1510.9 315.6 1502.1 315.3 1493.4 315.8 1485.9 317.0 1478.4 319.1 1470.9 322.2 1470.9 316.9 1483.4 312.7 1495.9 310.7 1505.9 310.4 1517.1 311.1 1539.6 314.6 1544.0 315.9 1547.8 318.4 1550.3 322.1 1555.2 342.1 1558.7 352.1 1561.8 358.4 1565.6 363.4 1569.6 366.9 1573.4 368.5 1577.1 368.7 1580.9 367.6 1584.6 365.0 1587.2 362.1 1589.6 357.5 1592.1 351.0 1594.2 343.4 1598.1 322.1 1599.6 318.4 1601.4 315.9 1605.9 313.1 1613.4 310.4 1630.9 305.8 1639.6 304.6ZM1678.4 429.6 1679.6 428.6 1679.6 431.2 1678.4 432.0 1667.1 436.4 1660.9 441.8 1645.9 448.3 1620.9 455.6 1615.9 457.6 1610.9 458.1 1599.6 460.9 1570.9 469.6 1559.6 471.0 1548.4 470.7 1524.6 466.7 1512.1 463.5 1500.9 458.5 1495.9 455.2 1486.2 447.1 1477.0 443.4 1470.9 439.7 1470.9 436.9 1477.1 441.4 1487.1 446.1 1499.6 455.2 1505.9 458.3 1513.4 461.2 1524.6 464.2 1534.6 465.9 1548.4 467.4 1554.6 467.6 1563.4 466.6 1580.9 462.2 1615.9 456.0 1630.9 451.8 1645.9 447.0 1659.6 440.9 1662.2 439.3 1665.9 435.5 1674.0 432.1 1678.4 429.6Z" fill="#e34649" stroke="#e34649" stroke-width="0.7"/>
<path d="M1638.4 299.6 1645.9 299.3 1653.4 299.8 1660.9 300.9 1668.4 303.0 1679.6 308.0 1679.6 314.0 1672.1 309.9 1663.4 306.7 1654.6 305.0 1645.9 304.4 1637.1 304.8 1629.6 306.1 1612.2 310.8 1604.7 313.7 1600.9 316.4 1598.4 321.1 1593.9 344.6 1591.4 353.4 1588.6 359.6 1586.2 363.4 1583.4 366.0 1580.9 367.6 1577.1 368.7 1573.4 368.5 1569.6 366.9 1565.6 363.4 1561.8 358.4 1558.7 352.1 1555.2 342.1 1550.3 322.1 1548.4 319.0 1544.7 316.2 1539.6 314.6 1520.9 311.6 1503.4 310.4 1494.6 310.8 1485.9 312.1 1478.4 314.0 1470.9 316.9 1470.9 311.3 1482.1 307.7 1494.7 305.5 1505.9 304.9 1518.4 305.4 1538.4 307.3 1545.9 309.2 1549.6 311.3 1551.9 313.4 1555.1 318.4 1556.5 323.4 1559.7 339.6 1563.2 349.6 1565.7 354.6 1568.4 358.4 1570.9 360.8 1573.4 362.3 1577.1 363.0 1580.9 361.9 1583.4 360.0 1587.2 353.4 1590.6 340.9 1593.3 319.6 1594.7 315.7 1597.1 311.8 1602.1 308.0 1608.4 305.7 1628.4 301.1 1638.4 299.6ZM1678.4 432.0 1679.6 431.2 1679.6 433.7 1667.1 438.3 1660.9 443.8 1647.1 449.7 1622.1 457.1 1617.1 459.3 1610.9 460.5 1600.8 463.4 1574.6 473.5 1568.4 475.1 1562.1 475.7 1549.6 475.3 1538.4 471.7 1517.1 467.5 1510.9 465.8 1504.6 463.1 1498.4 459.5 1485.9 449.0 1475.9 445.0 1470.9 442.3 1470.9 439.7 1477.0 443.4 1485.9 447.0 1499.6 457.7 1505.9 461.0 1513.4 463.9 1524.6 466.7 1548.4 470.7 1559.6 471.0 1570.9 469.6 1599.6 460.9 1610.9 458.1 1615.9 457.6 1620.9 455.6 1645.9 448.3 1660.9 441.8 1667.1 436.4 1678.4 432.0Z" fill="#db252c" stroke="#db252c" stroke-width="0.7"/>
<path d="M1633.4 294.6 1642.1 293.9 1650.9 294.1 1659.6 295.2 1667.1 296.9 1679.6 301.9 1679.6 308.0 1672.1 304.4 1663.4 301.5 1654.6 299.9 1644.6 299.3 1635.9 299.9 1628.4 301.1 1609.6 305.3 1602.1 308.0 1597.1 311.8 1594.0 317.1 1592.8 322.1 1590.3 342.1 1586.7 354.6 1584.6 358.4 1582.4 360.9 1579.6 362.5 1577.1 363.0 1573.4 362.3 1570.9 360.8 1568.4 358.4 1565.7 354.6 1563.2 349.6 1559.7 339.6 1556.5 323.4 1555.1 318.4 1551.9 313.4 1547.1 309.8 1542.1 308.0 1535.9 307.0 1517.1 305.3 1504.6 305.0 1495.9 305.4 1487.1 306.6 1478.4 308.7 1470.9 311.3 1470.9 305.5 1482.2 301.9 1494.6 299.8 1508.4 298.9 1525.9 299.2 1538.4 300.2 1547.1 302.4 1553.6 305.9 1558.4 311.2 1560.8 317.1 1562.9 332.1 1565.9 341.4 1570.9 350.2 1574.6 353.3 1577.1 353.8 1579.6 352.9 1580.9 351.8 1583.0 348.4 1584.5 344.7 1586.7 334.6 1588.4 315.9 1590.2 310.9 1593.4 306.6 1598.4 302.8 1605.9 299.7 1614.6 297.7 1633.4 294.6ZM1678.4 434.4 1679.6 433.7 1679.6 436.3 1669.6 439.6 1667.1 441.2 1661.9 447.1 1660.8 450.9 1659.6 452.8 1653.4 456.5 1652.1 456.9 1650.9 456.5 1649.2 454.6 1647.1 453.6 1642.1 454.0 1638.6 455.9 1635.9 458.6 1629.2 459.6 1627.9 460.9 1627.2 463.4 1625.9 464.4 1622.1 462.8 1620.9 462.8 1615.9 464.2 1610.9 467.5 1604.6 467.3 1600.9 467.9 1596.3 469.6 1578.4 478.3 1570.9 480.6 1563.4 481.7 1557.1 481.5 1549.7 480.1 1545.9 478.8 1541.6 475.9 1537.1 474.1 1513.4 469.3 1508.4 467.7 1502.1 464.7 1497.1 461.4 1484.7 450.6 1470.9 444.8 1470.9 442.3 1475.9 445.0 1484.9 448.4 1498.4 459.5 1504.6 463.1 1511.2 465.9 1538.4 471.7 1549.6 475.3 1562.1 475.7 1568.4 475.1 1574.6 473.5 1600.8 463.4 1610.9 460.5 1617.1 459.3 1622.1 457.1 1645.9 450.1 1660.9 443.8 1667.1 438.3 1678.4 434.4Z" fill="#d8161e" stroke="#d8161e" stroke-width="0.7"/>
<path d="M1513.4 292.1 1530.9 292.3 1542.1 293.4 1552.1 296.3 1560.3 300.9 1565.3 305.9 1568.0 310.9 1568.6 315.9 1567.8 327.1 1568.8 332.1 1572.1 337.5 1574.6 338.9 1575.9 339.0 1578.4 337.6 1579.6 335.9 1581.3 330.9 1581.6 325.9 1580.4 314.6 1580.6 312.1 1581.8 308.4 1584.2 304.6 1588.4 300.5 1593.4 297.1 1599.6 294.4 1614.2 290.9 1667.1 290.9 1679.7 295.5 1679.6 301.9 1672.1 298.6 1663.4 295.9 1654.6 294.4 1644.6 293.9 1632.1 294.7 1615.9 297.5 1605.9 299.7 1599.6 302.1 1593.4 306.6 1589.6 312.1 1588.2 317.1 1586.9 333.4 1584.6 344.1 1583.0 348.4 1580.9 351.8 1579.6 352.9 1577.1 353.8 1574.6 353.3 1570.9 350.2 1565.9 341.4 1563.2 333.4 1561.1 318.4 1558.9 312.1 1554.7 306.7 1548.4 302.9 1542.1 300.9 1534.6 299.8 1519.6 299.0 1505.9 299.0 1495.9 299.6 1487.1 300.9 1478.4 302.9 1470.9 305.5 1470.9 299.2 1475.9 297.5 1484.6 295.2 1493.4 293.7 1513.4 292.1ZM1678.4 436.8 1679.6 436.3 1679.6 439.1 1671.3 442.1 1668.4 444.4 1666.6 447.1 1663.4 455.4 1660.9 458.3 1658.4 460.0 1653.4 461.6 1645.9 461.0 1643.4 461.4 1627.1 469.1 1619.6 470.3 1610.9 473.1 1600.9 475.0 1596.4 477.1 1588.4 482.7 1583.4 485.5 1572.1 489.3 1565.9 490.4 1560.9 490.0 1557.2 488.7 1547.1 483.4 1539.6 478.1 1535.9 476.6 1527.1 474.2 1512.1 471.9 1505.9 469.7 1495.9 463.5 1483.4 452.6 1470.9 447.2 1470.9 444.8 1483.4 449.9 1485.9 451.5 1498.4 462.3 1503.4 465.4 1509.7 468.2 1537.1 474.1 1541.6 475.9 1545.9 478.8 1549.6 480.1 1557.1 481.5 1563.4 481.7 1570.9 480.6 1578.4 478.3 1596.3 469.6 1600.9 467.9 1604.6 467.3 1610.9 467.5 1615.9 464.2 1620.9 462.8 1622.1 462.8 1625.9 464.4 1627.2 463.4 1627.9 460.9 1629.2 459.6 1635.9 458.6 1638.6 455.9 1642.1 454.0 1647.1 453.6 1649.2 454.6 1650.9 456.5 1652.1 456.9 1653.4 456.5 1659.6 452.8 1660.8 450.9 1661.9 447.1 1667.4 440.9 1669.7 439.6 1678.4 436.8Z" fill="#d7141b" stroke="#d7141b" stroke-width="0.7"/>
<path d="M1472.1 292.0 1475.7 290.9 1563.0 290.9 1569.6 293.0 1574.6 293.6 1578.4 293.1 1585.0 290.9 1614.2 290.9 1603.4 293.2 1595.9 295.9 1589.5 299.6 1584.2 304.6 1581.8 308.4 1580.4 313.4 1581.6 325.9 1581.1 332.1 1578.8 337.1 1575.9 339.0 1574.6 338.9 1572.1 337.5 1569.6 334.1 1568.4 330.9 1567.7 325.9 1568.6 314.6 1568.0 310.9 1566.9 308.4 1561.8 302.1 1558.4 299.6 1553.4 296.8 1545.9 294.2 1538.4 292.9 1527.1 292.1 1513.4 292.1 1500.9 292.8 1489.6 294.3 1479.7 296.4 1470.9 299.2 1470.9 292.5 1472.1 292.0ZM1667.1 290.9 1679.6 290.9 1679.7 295.5 1667.1 290.9ZM1678.4 439.6 1679.6 439.1 1679.6 442.5 1675.0 444.6 1672.1 446.9 1666.2 458.4 1664.1 460.9 1660.9 463.3 1655.9 465.2 1645.9 466.3 1612.5 478.4 1605.9 482.1 1603.1 484.6 1600.6 488.4 1597.4 497.1 1594.8 499.6 1592.1 501.0 1587.1 502.4 1575.9 503.6 1564.6 503.3 1557.1 501.1 1553.4 498.5 1547.5 489.6 1538.4 481.0 1527.5 477.1 1512.1 475.0 1505.9 472.9 1495.9 466.7 1482.1 454.8 1470.9 449.8 1470.9 447.2 1482.7 452.1 1497.1 464.4 1507.1 470.2 1512.1 471.9 1527.1 474.2 1535.9 476.6 1539.6 478.1 1547.1 483.4 1557.1 488.7 1560.9 490.0 1565.9 490.4 1572.1 489.3 1583.4 485.5 1588.4 482.7 1596.4 477.1 1600.9 475.0 1610.9 473.1 1619.6 470.3 1627.1 469.1 1643.4 461.4 1645.9 461.0 1653.4 461.6 1657.1 460.6 1660.8 458.4 1663.1 455.9 1666.6 447.1 1669.4 443.4 1672.2 441.8 1678.4 439.6Z" fill="#d61118" stroke="#d61118" stroke-width="0.7"/>
<path d="M1472.1 290.9 1475.7 290.9 1470.9 292.5 1470.9 290.9 1472.1 290.9ZM1563.4 290.9 1585.0 290.9 1578.4 293.1 1574.6 293.6 1569.6 293.0 1563.4 290.9ZM1678.4 443.0 1679.6 442.5 1679.7 447.1 1675.4 450.9 1670.3 459.6 1665.9 464.7 1659.6 468.4 1648.4 471.1 1634.3 475.9 1620.8 482.1 1617.1 484.8 1613.4 488.7 1606.7 500.9 1604.0 504.6 1547.9 504.6 1545.1 500.9 1537.5 488.4 1533.5 484.6 1525.5 480.9 1510.9 478.2 1504.6 475.8 1495.9 470.2 1480.9 457.4 1470.9 452.6 1470.9 449.8 1481.9 454.6 1497.1 467.7 1507.1 473.5 1512.2 475.0 1527.5 477.1 1538.4 481.0 1547.5 489.6 1553.4 498.5 1557.2 501.1 1564.6 503.3 1575.9 503.6 1587.1 502.4 1592.1 501.0 1594.8 499.6 1597.4 497.1 1600.6 488.4 1603.1 484.6 1605.9 482.1 1612.5 478.4 1645.9 466.3 1655.9 465.2 1660.9 463.3 1664.1 460.9 1666.2 458.4 1671.9 447.1 1674.6 444.8 1678.4 443.0Z" fill="#d61016" stroke="#d61016" stroke-width="0.7"/>
<path d="M1679.7 447.1 1679.6 453.9 1672.1 464.4 1667.1 469.2 1660.9 472.9 1641.8 479.6 1630.9 485.0 1626.6 488.4 1623.0 492.1 1614.4 504.6 1604.0 504.6 1606.7 500.9 1612.7 489.6 1618.4 483.8 1624.6 480.0 1633.4 476.2 1648.4 471.1 1658.4 468.9 1663.4 466.6 1668.4 462.1 1675.4 450.9 1679.7 447.1ZM1472.1 453.1 1480.9 457.4 1495.9 470.2 1504.6 475.8 1510.9 478.2 1525.5 480.9 1533.5 484.6 1537.5 488.4 1545.1 500.9 1547.9 504.6 1537.7 504.6 1528.7 494.6 1522.9 487.1 1518.5 484.6 1505.9 480.2 1499.6 476.7 1493.4 472.1 1480.6 460.9 1470.9 455.6 1470.9 452.6 1472.1 453.1Z" fill="#d40f15" stroke="#d40f15" stroke-width="0.7"/>
<path d="M1679.6 453.9 1679.6 462.4 1674.6 468.5 1669.6 473.2 1662.1 478.0 1647.1 484.7 1638.5 489.6 1631.4 495.9 1624.5 504.6 1614.4 504.6 1622.0 493.4 1628.4 486.8 1633.4 483.5 1638.7 480.9 1659.6 473.4 1664.7 470.9 1668.4 468.2 1671.9 464.6 1679.6 453.9ZM1471.6 455.9 1480.6 460.9 1493.4 472.1 1500.9 477.5 1507.1 480.8 1518.5 484.6 1522.1 486.6 1524.2 488.4 1528.7 494.6 1537.7 504.6 1528.2 504.6 1516.4 490.9 1498.4 480.1 1479.6 464.2 1470.9 459.0 1470.9 455.6 1471.6 455.9Z" fill="#d40e14" stroke="#d40e14" stroke-width="0.7"/>
<path d="M1472.1 459.6 1479.6 464.2 1498.4 480.1 1516.4 490.9 1528.2 504.6 1520.1 504.6 1514.6 497.9 1510.0 493.4 1494.6 481.9 1478.4 467.7 1470.9 462.8 1470.9 459.0 1472.1 459.6ZM1679.6 462.4 1679.6 470.4 1670.9 478.7 1645.9 494.4 1640.9 498.6 1635.2 504.6 1624.5 504.6 1630.9 496.5 1636.8 490.9 1644.8 485.9 1660.9 478.6 1667.1 475.0 1673.4 469.8 1679.6 462.4Z" fill="#d20e14" stroke="#d20e14" stroke-width="0.7"/>
<path d="M1472.1 463.4 1479.2 468.4 1495.9 482.9 1510.0 493.4 1514.6 497.9 1520.1 504.6 1512.6 504.6 1503.3 494.6 1478.4 472.6 1470.9 467.0 1470.9 462.8 1472.1 463.4ZM1679.6 470.4 1679.7 478.2 1672.2 484.9 1655.4 497.1 1646.7 504.6 1635.2 504.6 1639.8 499.6 1645.6 494.6 1668.4 480.5 1674.2 475.9 1679.6 470.4Z" fill="#d20d13" stroke="#d20d13" stroke-width="0.7"/>
<path d="M1471.1 467.1 1478.4 472.6 1503.3 494.6 1512.6 504.6 1470.9 504.6 1471.1 467.1ZM1679.7 478.2 1679.6 504.6 1646.7 504.6 1655.4 497.1 1672.2 484.9 1679.7 478.2Z" fill="#d00c12" stroke="#d00c12" stroke-width="0.7"/>
<path d="M1642.1 359.6 1639.6 360.6 1637.0 362.1 1634.6 364.2 1632.2 367.1 1630.0 370.9 1626.5 378.4 1624.6 384.6 1621.4 400.9 1621.2 405.9 1622.1 408.4 1624.6 411.6 1627.1 413.4 1630.9 414.8 1634.6 415.2 1639.6 414.8 1644.0 413.4 1648.4 410.9 1652.7 407.1 1659.1 399.6 1660.9 396.9 1662.3 393.4 1662.7 388.4 1661.6 380.9 1659.6 374.7 1656.2 367.1 1652.4 362.1 1649.6 360.2 1645.9 359.2 1642.1 359.6M1499.6 364.3 1496.3 365.9 1493.4 368.3 1490.9 371.5 1488.7 375.9 1486.8 382.1 1485.7 389.6 1485.6 394.6 1486.4 398.4 1488.4 403.5 1491.3 408.4 1495.9 414.0 1499.6 417.2 1504.6 419.8 1508.4 421.0 1513.4 421.2 1517.1 420.5 1519.6 419.6 1522.9 417.1 1525.3 413.4 1526.8 409.6 1527.5 404.6 1527.4 398.4 1526.6 393.4 1524.9 387.1 1522.5 380.9 1519.4 374.6 1515.9 369.7 1513.4 367.0 1510.9 365.2 1507.1 363.9 1503.4 363.6 1499.6 364.3M1639.6 348.0 1634.6 350.3 1631.8 352.1 1629.6 354.0 1625.6 358.4 1619.5 367.1 1613.3 378.4 1610.9 385.9 1609.0 389.6 1608.0 390.9 1603.4 394.7 1600.9 398.7 1597.1 407.8 1596.2 412.1 1596.0 417.1 1596.3 419.6 1597.3 422.1 1599.7 424.6 1602.1 426.0 1605.9 427.2 1608.4 427.6 1618.4 428.3 1624.6 428.1 1635.9 427.0 1644.7 424.6 1648.4 423.2 1654.7 419.6 1660.9 414.8 1669.6 406.0 1672.8 400.9 1674.1 397.1 1674.5 394.6 1674.1 387.1 1672.4 380.9 1669.2 372.1 1663.4 360.5 1657.1 352.7 1652.2 349.3 1647.1 347.7 1642.2 347.5 1639.6 348.0M1499.7 352.1 1497.1 352.6 1492.2 354.4 1489.6 355.9 1485.9 358.8 1483.9 360.9 1480.9 365.2 1478.0 370.9 1476.2 375.9 1474.8 383.4 1474.6 389.0 1475.1 393.4 1477.2 402.1 1478.4 405.5 1482.6 413.4 1486.2 418.4 1492.9 425.9 1502.2 432.1 1505.2 433.4 1514.6 435.2 1524.6 435.1 1537.2 432.9 1543.4 431.2 1547.1 429.6 1549.8 427.1 1551.6 423.4 1551.8 420.9 1550.9 415.9 1548.2 409.6 1546.1 405.9 1539.6 396.9 1532.1 380.4 1525.5 368.4 1518.4 358.8 1513.4 354.5 1509.6 352.8 1507.1 352.2 1502.1 351.9 1499.6 352.1M1679.6 367.4 1675.4 358.4 1670.9 350.8 1667.1 345.8 1662.1 340.9 1657.1 337.7 1652.1 335.8 1648.4 334.9 1643.4 334.3 1640.9 334.5 1635.9 335.7 1630.9 338.4 1627.1 341.5 1621.6 348.4 1605.2 378.4 1599.7 389.9 1593.3 395.9 1587.1 400.9 1579.6 410.3 1576.7 412.1 1574.6 412.6 1572.1 412.1 1568.4 409.8 1564.6 406.8 1559.6 401.9 1554.6 395.9 1548.1 387.1 1536.9 369.6 1524.2 350.9 1519.6 345.5 1514.6 341.6 1510.9 340.1 1508.4 339.5 1503.4 339.4 1498.4 340.1 1492.1 342.0 1484.6 345.2 1479.5 348.4 1475.2 352.1 1470.9 357.4M1470.9 410.7 1476.3 418.4 1480.9 423.6 1487.7 429.6 1492.1 433.0 1502.1 439.2 1510.9 442.6 1518.4 444.7 1527.2 446.1 1542.1 447.1 1550.9 446.1 1555.9 444.3 1560.9 440.8 1571.0 432.1 1573.4 430.9 1575.9 430.3 1578.8 430.9 1580.9 431.8 1588.4 436.0 1593.4 438.1 1602.1 439.8 1609.6 440.2 1617.1 439.9 1625.9 438.7 1634.7 436.7 1642.1 434.2 1649.6 431.1 1657.1 427.0 1663.4 422.1 1669.9 415.9 1679.6 405.0M1679.6 337.7 1672.9 330.9 1668.4 327.7 1662.6 324.6 1655.9 322.5 1648.4 321.4 1637.1 321.2 1632.1 322.2 1627.2 324.3 1622.1 327.6 1619.6 329.9 1617.1 332.4 1613.4 337.3 1594.5 372.1 1588.1 380.9 1585.7 383.4 1580.9 386.7 1577.1 388.2 1574.6 388.5 1570.9 388.1 1565.9 385.9 1563.4 384.1 1558.4 379.4 1548.0 365.9 1531.9 342.1 1527.1 335.9 1524.5 333.4 1519.6 330.2 1514.6 328.5 1508.4 327.5 1500.9 327.3 1493.4 328.0 1489.6 328.8 1482.1 331.1 1474.6 334.7 1470.9 337.1M1470.9 426.5 1480.9 437.2 1485.9 440.1 1490.3 443.4 1500.9 448.5 1507.1 451.1 1518.3 454.6 1527.2 456.8 1538.4 458.6 1550.9 459.1 1555.9 458.1 1559.0 457.1 1569.6 452.1 1574.6 450.6 1578.4 450.5 1594.6 453.3 1603.4 453.5 1612.1 452.7 1619.6 451.4 1623.4 450.2 1628.4 449.3 1633.4 447.4 1637.2 446.6 1640.9 445.0 1646.2 443.4 1654.6 439.6 1659.6 436.9 1664.7 431.5 1672.1 427.0 1679.6 418.5M1679.6 314.0 1673.4 310.5 1665.9 307.5 1658.4 305.6 1647.1 304.4 1639.6 304.6 1632.1 305.6 1613.4 310.4 1604.7 313.7 1601.4 315.9 1599.6 318.4 1598.4 321.1 1593.3 347.1 1590.9 354.7 1588.0 360.9 1585.9 363.8 1581.7 367.1 1578.4 368.5 1575.9 368.8 1572.1 368.1 1568.3 365.9 1565.6 363.4 1562.1 358.9 1559.6 354.3 1557.3 348.4 1554.2 338.4 1550.8 323.4 1548.4 319.0 1545.9 316.9 1544.0 315.9 1539.6 314.6 1517.1 311.1 1502.1 310.4 1492.1 311.1 1484.6 312.4 1476.6 314.6 1470.9 316.9M1470.9 439.7 1475.9 442.9 1486.2 447.2 1494.6 454.2 1500.9 458.5 1504.6 460.4 1513.4 463.9 1524.6 466.7 1550.0 470.9 1560.9 471.0 1570.9 469.6 1600.9 460.6 1606.0 459.6 1610.9 458.1 1615.9 457.6 1620.9 455.6 1630.9 453.1 1640.9 449.6 1645.9 448.3 1660.9 441.8 1663.5 439.6 1665.9 437.1 1667.1 436.4 1675.9 433.3 1679.6 431.2M1475.7 290.9 1470.9 292.5M1585.0 290.9 1579.6 292.7 1574.6 293.6 1569.6 293.0 1563.0 290.9M1470.9 449.8 1482.1 454.8 1495.9 466.7 1499.7 469.4 1505.9 472.9 1510.9 474.7 1527.5 477.1 1538.4 481.0 1540.1 482.2 1547.5 489.6 1553.4 498.5 1556.7 500.9 1563.4 503.1 1573.4 503.7 1585.9 502.6 1590.9 501.4 1594.6 499.8 1597.4 497.1 1600.1 489.6 1601.3 487.1 1603.4 484.3 1605.9 482.1 1612.5 478.4 1645.9 466.3 1649.6 465.6 1654.6 465.4 1658.4 464.5 1660.7 463.4 1663.4 461.5 1666.2 458.4 1667.7 455.9 1670.4 449.6 1672.1 446.9 1675.0 444.6 1679.6 442.5" fill="none" stroke="#0a0a0a" stroke-width="3.6" stroke-linejoin="round" stroke-linecap="round"/>
</g>
<ellipse cx="1575.1" cy="397.7" rx="100.2" ry="102.8" fill="none" stroke="#0a0a0a" stroke-width="1.4"/>
<path d="M1562.8999999999999 287.2 L1556.6 296.4 M1587.3 287.2 L1594.6 296.4" stroke="#0a0a0a" stroke-width="4.4" stroke-linecap="round" fill="none"/>
<path d="M1473.4 376.7 Q1468.9 369.7 1463.4 374.2 M1473.4 422.2 Q1468.9 428.7 1463.4 423.7" stroke="#0a0a0a" stroke-width="3.6" stroke-linecap="round" fill="none"/>
<path d="M1676.8 376.7 Q1681.3 369.7 1686.8 374.2 M1676.8 422.2 Q1681.3 428.7 1686.8 423.7" stroke="#0a0a0a" stroke-width="3.6" stroke-linecap="round" fill="none"/>
<clipPath id="t3c"><ellipse cx="1919.3" cy="397.7" rx="100.2" ry="102.8"/></clipPath>
<ellipse cx="1919.3" cy="398.2" rx="111.2" ry="113.3" fill="#e9f0fb"/>
<g clip-path="url(#t3c)">
<rect x="1817.1" y="292.9" width="204.4" height="209.6" fill="#f7b2a9"/>
<path d="M1848.8 380.5 1851.3 380.8 1852.9 383.4 1852.6 386.0 1851.3 387.4 1850.1 387.8 1847.6 387.0 1846.4 384.6 1846.8 382.1 1848.8 380.5ZM1990.1 380.8 1990.1 381.6 1990.1 380.8Z" fill="#395eaf" stroke="#395eaf" stroke-width="0.7"/>
<path d="M1986.3 370.8 1990.1 370.5 1993.8 371.9 1997.6 375.6 1999.6 379.6 2000.2 384.6 1999.2 388.4 1996.5 392.1 1993.8 393.6 1990.1 393.7 1986.1 392.1 1981.7 388.4 1979.5 384.6 1978.8 380.9 1980.1 376.2 1982.6 373.0 1986.3 370.8ZM1989.9 380.9 1990.1 381.6 1989.9 380.9ZM1843.9 371.9 1848.8 371.2 1853.8 372.7 1858.8 376.9 1861.9 382.1 1863.0 387.1 1861.9 392.1 1858.8 395.9 1853.8 398.9 1848.8 399.7 1843.8 398.2 1840.1 394.7 1837.6 389.9 1836.6 383.4 1837.6 378.4 1840.1 374.5 1843.9 371.9ZM1847.9 380.9 1846.4 383.4 1846.8 385.9 1848.8 387.7 1851.3 387.4 1852.6 386.0 1853.0 384.6 1852.5 382.1 1851.3 380.8 1850.1 380.4 1847.9 380.9Z" fill="#3d62b3" stroke="#3d62b3" stroke-width="0.7"/>
<path d="M1985.1 364.5 1988.8 364.0 1991.3 364.3 1996.3 366.7 2001.5 372.1 2005.1 379.6 2005.7 385.9 2003.8 392.3 2000.1 397.8 1997.6 399.8 1995.1 400.8 1990.1 400.6 1986.3 399.1 1982.6 396.8 1975.8 390.9 1973.1 387.1 1972.1 384.6 1971.9 379.6 1974.4 373.4 1978.8 368.1 1982.0 365.9 1985.1 364.5ZM1986.2 370.9 1982.6 373.0 1980.1 376.2 1978.8 380.9 1979.5 384.6 1981.7 388.4 1986.1 392.1 1990.1 393.7 1993.8 393.6 1996.5 392.1 1999.2 388.4 2000.2 384.6 1999.6 379.6 1997.6 375.6 1993.8 371.9 1990.1 370.5 1986.2 370.9ZM1843.8 365.6 1848.8 365.5 1852.6 366.4 1856.4 368.2 1859.9 370.9 1866.1 378.4 1868.8 383.4 1870.4 388.4 1870.4 393.4 1869.4 395.9 1867.3 398.4 1859.9 403.4 1851.3 406.7 1847.6 406.9 1845.1 406.3 1841.3 404.4 1838.4 402.1 1836.1 399.6 1833.8 395.9 1831.0 387.1 1831.0 379.6 1833.1 373.4 1835.1 370.6 1837.6 368.3 1840.1 366.9 1843.8 365.6ZM1843.4 372.1 1839.9 374.6 1837.2 379.6 1836.6 384.6 1838.0 390.9 1841.1 395.9 1845.1 398.8 1850.1 399.7 1855.1 398.4 1860.1 394.7 1862.4 390.9 1862.9 385.9 1861.4 380.9 1858.0 375.9 1853.8 372.7 1848.8 371.2 1846.3 371.3 1843.4 372.1Z" fill="#4468b9" stroke="#4468b9" stroke-width="0.7"/>
<path d="M1988.8 358.4 1995.1 359.7 1998.8 362.1 2001.3 364.5 2004.5 368.4 2007.5 373.4 2009.6 378.4 2010.6 382.1 2010.6 385.9 2009.8 389.6 2005.8 398.4 2001.3 403.6 1997.6 405.9 1995.1 406.6 1992.6 406.8 1988.8 406.0 1981.3 402.0 1967.3 392.1 1965.0 389.7 1963.7 385.9 1963.9 382.1 1965.7 377.1 1968.5 372.1 1972.4 367.2 1976.3 363.4 1980.1 360.9 1985.1 358.9 1988.8 358.4ZM1984.8 364.6 1978.8 368.1 1974.4 373.4 1971.9 379.6 1972.1 384.6 1973.1 387.1 1975.8 390.9 1982.6 396.8 1986.4 399.1 1990.1 400.6 1995.1 400.8 1997.6 399.8 2000.1 397.8 2003.8 392.3 2005.7 385.9 2005.1 379.6 2001.5 372.1 1996.3 366.7 1991.3 364.3 1987.6 364.1 1984.8 364.6ZM1842.6 360.9 1848.9 360.7 1853.9 362.1 1860.1 365.8 1865.6 370.9 1872.4 379.6 1880.8 393.4 1881.7 397.1 1880.8 399.6 1879.5 400.9 1876.3 402.7 1856.3 411.0 1850.1 412.8 1846.3 412.6 1842.6 411.1 1837.6 407.8 1833.8 404.4 1830.1 398.8 1826.6 389.6 1825.7 383.4 1826.3 377.2 1828.4 370.9 1831.3 366.9 1836.4 363.1 1842.6 360.9ZM1842.7 365.9 1839.5 367.1 1836.3 369.4 1832.5 374.6 1830.7 382.1 1831.5 389.7 1835.1 398.1 1839.9 403.4 1842.6 405.2 1846.3 406.6 1848.8 407.0 1852.6 406.5 1862.1 402.1 1868.5 397.1 1870.0 394.6 1870.7 392.1 1870.1 387.1 1868.2 382.1 1865.3 377.1 1862.4 373.4 1858.4 369.6 1853.8 366.9 1850.1 365.7 1846.3 365.4 1842.7 365.9Z" fill="#4a6ebe" stroke="#4a6ebe" stroke-width="0.7"/>
<path d="M1983.8 354.3 1988.8 353.5 1992.6 353.8 1996.3 354.9 2000.4 357.1 2003.8 360.3 2008.3 365.9 2013.6 375.9 2015.5 382.2 2015.1 387.2 2011.0 397.1 2006.3 404.1 2003.2 407.1 1999.4 409.6 1996.3 410.8 1992.6 411.3 1986.3 410.0 1973.8 403.4 1967.6 401.1 1963.8 401.3 1950.1 405.7 1946.3 405.5 1942.2 403.4 1938.8 398.8 1938.8 395.5 1940.1 394.7 1942.6 394.5 1943.8 393.4 1952.6 383.8 1965.8 367.1 1972.0 360.9 1977.6 356.8 1983.8 354.3ZM1988.2 358.4 1983.8 359.2 1980.1 360.9 1976.3 363.4 1972.4 367.1 1968.5 372.1 1965.7 377.1 1963.9 382.1 1963.7 385.9 1965.0 389.6 1967.3 392.1 1981.3 402.0 1988.8 406.0 1992.6 406.8 1995.1 406.6 1997.6 405.9 2001.3 403.6 2005.8 398.4 2009.8 389.6 2010.6 385.9 2010.6 382.1 2009.6 378.4 2007.5 373.4 2004.5 368.4 2001.3 364.5 1998.8 362.1 1995.1 359.7 1991.3 358.6 1988.2 358.4ZM1840.1 357.0 1845.1 356.4 1850.1 356.8 1855.1 358.4 1858.8 360.4 1867.0 367.1 1882.6 384.7 1887.6 388.5 1896.3 393.4 1897.6 394.6 1897.8 395.9 1895.5 403.4 1894.0 405.9 1890.9 408.4 1886.3 410.3 1881.4 411.1 1870.1 411.4 1853.8 416.8 1848.8 417.7 1846.3 417.5 1842.5 415.9 1832.6 408.7 1829.8 405.9 1827.3 402.1 1822.0 389.6 1821.0 384.6 1821.8 375.9 1823.5 369.6 1827.6 364.0 1833.4 359.6 1840.1 357.0ZM1842.4 360.9 1836.3 363.1 1831.3 366.9 1828.4 370.9 1826.3 377.1 1825.7 383.4 1826.6 389.6 1830.1 398.8 1833.8 404.4 1837.6 407.8 1842.6 411.1 1846.3 412.6 1850.1 412.8 1856.3 411.0 1876.3 402.7 1879.5 400.9 1880.8 399.6 1881.7 397.1 1880.8 393.4 1872.4 379.6 1865.1 370.3 1860.1 365.8 1853.8 362.1 1847.6 360.6 1842.4 360.9Z" fill="#5a7cc7" stroke="#5a7cc7" stroke-width="0.7"/>
<path d="M1986.3 349.6 1991.3 349.5 1995.1 350.0 2000.1 351.7 2003.8 353.9 2007.5 357.1 2011.7 362.1 2015.0 367.1 2018.0 373.4 2020.1 380.9 2020.1 384.6 2019.3 388.4 2015.3 397.1 2009.2 405.9 2005.2 409.6 2001.3 412.2 1997.6 413.9 1992.6 414.8 1986.3 414.2 1973.8 410.2 1968.8 409.6 1963.8 410.3 1951.3 413.8 1945.1 414.3 1940.1 412.9 1935.1 409.6 1931.3 405.3 1929.7 400.9 1930.2 395.9 1932.9 390.9 1948.8 377.6 1964.0 362.1 1970.9 355.9 1977.6 351.9 1986.3 349.6ZM1982.6 354.6 1977.1 357.1 1971.3 361.5 1965.8 367.1 1952.6 383.8 1943.8 393.4 1942.6 394.5 1940.1 394.7 1938.8 395.5 1938.8 398.8 1942.2 403.4 1946.4 405.5 1950.1 405.7 1963.8 401.3 1967.6 401.1 1973.8 403.4 1986.3 410.0 1992.6 411.3 1996.3 410.8 2000.1 409.3 2003.8 406.6 2007.0 403.4 2010.1 398.8 2012.8 393.4 2015.4 385.9 2015.0 379.6 2011.3 370.9 2005.1 361.7 2001.9 358.4 1998.8 356.1 1995.1 354.4 1991.3 353.6 1987.6 353.6 1982.6 354.6ZM1840.1 353.1 1845.1 352.6 1850.1 353.0 1855.1 354.5 1858.8 356.4 1867.6 363.3 1885.1 380.8 1901.7 390.9 1904.5 394.6 1905.6 399.6 1904.5 404.6 1901.1 409.6 1895.1 414.5 1888.8 416.8 1883.8 417.4 1868.8 417.5 1850.1 421.3 1845.5 420.9 1841.3 419.3 1836.3 416.1 1830.1 410.9 1826.6 407.1 1824.0 403.4 1818.1 390.9 1816.6 383.4 1817.2 374.6 1819.7 367.1 1824.5 360.9 1832.0 355.9 1840.1 353.1ZM1839.6 357.1 1832.6 360.1 1827.0 364.6 1823.5 369.6 1821.8 375.9 1821.0 384.6 1822.0 389.6 1827.3 402.1 1829.8 405.9 1832.6 408.7 1842.5 415.9 1846.3 417.5 1848.8 417.7 1853.9 416.8 1870.1 411.4 1881.3 411.1 1886.3 410.3 1890.9 408.4 1894.0 405.9 1895.5 403.4 1897.6 397.2 1897.6 394.6 1896.3 393.4 1887.6 388.5 1882.6 384.7 1865.1 365.3 1858.8 360.4 1852.6 357.5 1846.3 356.4 1839.6 357.1Z" fill="#6e8ed2" stroke="#6e8ed2" stroke-width="0.7"/>
<path d="M1986.3 345.8 1992.6 345.7 1998.8 346.7 2003.8 348.6 2008.8 351.8 2013.4 355.9 2018.3 362.1 2021.8 368.4 2023.8 373.8 2023.8 388.3 2019.6 397.1 2014.3 404.7 2008.8 410.4 2002.6 414.7 1996.5 417.1 1992.6 417.7 1987.6 417.5 1973.8 415.1 1968.8 414.8 1947.7 418.4 1942.6 418.3 1938.5 417.2 1933.8 414.9 1920.1 405.0 1917.6 404.0 1901.1 417.1 1893.8 420.9 1887.3 422.1 1870.1 422.4 1853.8 424.4 1847.6 424.5 1842.9 423.4 1838.8 421.6 1833.8 418.2 1828.3 413.4 1820.9 404.6 1815.1 393.9 1815.3 365.9 1818.8 360.6 1823.8 356.1 1830.1 352.6 1836.3 350.4 1842.6 349.2 1848.8 349.3 1855.1 350.8 1860.1 353.3 1868.2 359.6 1886.3 376.7 1891.3 380.2 1902.6 386.3 1907.5 389.6 1917.6 400.4 1918.8 400.1 1920.1 398.9 1924.4 392.1 1928.9 387.1 1943.8 375.1 1967.2 353.4 1975.4 348.4 1980.1 346.9 1986.3 345.8ZM1986.1 349.6 1977.6 351.9 1970.9 355.9 1964.0 362.1 1948.8 377.6 1932.9 390.9 1930.2 395.9 1929.7 400.9 1931.3 405.3 1935.1 409.6 1940.1 412.9 1945.1 414.3 1951.3 413.8 1963.8 410.3 1968.8 409.6 1973.8 410.2 1986.3 414.2 1992.6 414.8 1997.6 413.9 2001.3 412.2 2006.3 408.7 2010.1 404.8 2016.6 394.6 2019.6 387.1 2020.1 380.9 2018.0 373.4 2015.0 367.1 2011.7 362.1 2007.5 357.1 2003.8 353.9 2000.1 351.7 1995.1 350.0 1990.1 349.4 1986.1 349.6ZM1838.9 353.4 1830.1 356.9 1823.3 362.1 1819.1 368.4 1817.0 375.9 1816.7 384.6 1818.6 392.1 1824.8 404.6 1827.6 408.4 1831.3 412.1 1841.3 419.3 1845.5 420.9 1850.1 421.3 1868.8 417.5 1883.8 417.4 1888.8 416.8 1895.1 414.5 1901.1 409.6 1904.5 404.6 1905.6 399.6 1904.5 394.6 1901.7 390.9 1885.1 380.8 1867.6 363.3 1858.8 356.4 1853.8 354.0 1848.8 352.8 1843.8 352.7 1838.9 353.4Z" fill="#80a0dc" stroke="#80a0dc" stroke-width="0.7"/>
<path d="M1988.8 342.1 1996.3 342.1 2002.7 343.4 2010.1 346.8 2016.3 351.4 2020.7 355.9 2023.8 360.1 2023.8 373.8 2021.2 367.1 2016.5 359.6 2011.3 353.9 2006.3 350.0 2001.3 347.5 1995.1 345.9 1987.6 345.8 1980.1 346.9 1972.6 349.7 1965.7 354.6 1943.8 375.1 1928.9 387.1 1924.4 392.1 1920.1 398.9 1918.8 400.1 1917.6 400.4 1907.5 389.6 1887.6 377.7 1865.1 357.0 1858.8 352.6 1853.8 350.4 1848.8 349.3 1843.8 349.1 1837.6 350.1 1831.3 352.1 1826.2 354.6 1821.3 358.1 1817.6 362.1 1815.1 366.2 1815.1 358.3 1819.0 354.6 1823.8 351.5 1830.1 348.8 1838.8 346.3 1845.1 345.6 1851.3 346.2 1857.6 348.2 1863.8 352.0 1885.1 371.1 1893.8 377.4 1900.1 380.9 1910.1 385.3 1913.8 386.4 1917.6 386.6 1923.8 384.1 1935.1 376.8 1962.5 352.1 1969.3 347.1 1972.6 345.4 1977.6 343.6 1988.8 342.1ZM2023.8 388.3 2023.8 397.6 2015.1 408.4 2011.1 412.1 2005.1 416.2 1998.8 419.0 1993.9 420.1 1983.8 419.9 1968.8 418.4 1943.8 421.4 1935.8 419.6 1923.8 414.5 1918.8 413.8 1912.6 415.2 1900.1 423.0 1892.6 425.6 1886.3 426.2 1847.6 427.4 1840.1 425.5 1832.5 420.9 1823.0 412.1 1815.1 401.7 1815.1 393.9 1820.9 404.6 1828.3 413.4 1833.8 418.2 1838.8 421.6 1842.9 423.4 1847.6 424.5 1853.8 424.4 1870.1 422.4 1887.3 422.1 1893.8 420.9 1901.1 417.1 1917.6 404.0 1920.1 405.0 1933.8 414.9 1938.5 417.1 1942.6 418.3 1947.7 418.4 1968.8 414.8 1973.8 415.1 1985.1 417.3 1992.6 417.7 1996.5 417.1 2001.3 415.3 2006.3 412.3 2010.1 409.3 2014.3 404.6 2018.8 398.4 2021.8 393.4 2023.8 388.3Z" fill="#94b2e6" stroke="#94b2e6" stroke-width="0.7"/>
<path d="M1990.1 338.4 1996.3 338.1 2001.3 338.6 2008.9 340.9 2016.2 344.6 2023.8 350.8 2023.8 360.1 2019.7 354.6 2015.1 350.3 2010.1 346.8 2003.8 343.8 1998.8 342.4 1993.8 342.0 1985.1 342.3 1977.6 343.6 1971.3 345.9 1965.1 350.1 1940.1 372.7 1932.6 378.7 1922.6 384.8 1917.6 386.6 1913.8 386.4 1910.1 385.3 1900.1 380.9 1893.4 377.1 1883.8 370.0 1863.8 352.0 1858.8 348.8 1853.8 346.8 1848.8 345.8 1843.8 345.7 1833.8 347.5 1827.6 349.7 1822.7 352.1 1818.8 354.8 1815.1 358.3 1815.1 352.4 1820.1 349.0 1825.1 346.7 1833.8 344.0 1840.1 342.7 1846.3 342.3 1852.6 343.0 1858.8 345.1 1863.8 348.0 1886.3 367.6 1897.6 375.5 1902.6 378.0 1907.6 379.8 1912.6 380.8 1916.3 380.7 1925.1 378.1 1932.6 373.8 1960.1 349.5 1968.8 343.2 1977.6 339.9 1990.1 338.4ZM2023.8 397.6 2023.8 403.7 2015.6 412.1 2011.3 415.4 2006.1 418.4 1996.3 422.0 1983.8 422.3 1967.6 421.2 1943.8 423.6 1935.1 422.2 1925.1 419.0 1918.8 418.6 1911.3 420.5 1898.8 427.4 1892.6 429.1 1887.6 429.6 1852.6 430.6 1846.3 430.2 1841.3 429.1 1836.3 426.9 1829.5 422.1 1821.4 414.6 1815.1 407.4 1815.1 401.7 1821.9 410.9 1830.1 418.9 1837.6 424.3 1843.8 426.8 1852.6 427.6 1870.1 426.5 1886.3 426.2 1892.6 425.6 1897.6 424.1 1901.3 422.3 1911.3 415.8 1915.1 414.4 1918.8 413.8 1923.8 414.5 1935.8 419.6 1943.8 421.4 1968.8 418.4 1985.1 420.0 1996.3 419.8 2003.3 417.1 2011.1 412.1 2016.2 407.1 2023.8 397.6Z" fill="#aac4ee" stroke="#aac4ee" stroke-width="0.7"/>
<path d="M1988.8 334.5 1996.3 334.0 2001.3 334.2 2008.8 335.9 2015.5 338.4 2023.9 343.2 2023.8 350.8 2018.8 346.4 2013.8 343.2 2007.6 340.4 2000.5 338.4 1995.1 338.1 1986.3 338.6 1975.1 340.6 1968.8 343.2 1962.6 347.5 1937.6 369.8 1931.4 374.7 1923.8 378.7 1916.3 380.7 1912.6 380.8 1907.6 379.8 1901.3 377.5 1896.3 374.7 1885.1 366.6 1864.3 348.4 1858.8 345.1 1853.8 343.3 1845.1 342.3 1835.1 343.6 1823.8 347.2 1815.1 352.4 1815.1 347.2 1825.1 342.6 1833.8 340.3 1841.3 339.1 1847.6 339.0 1853.8 339.8 1860.1 341.9 1865.1 344.9 1886.3 363.0 1898.8 371.8 1907.6 375.5 1912.6 376.2 1916.3 376.1 1923.8 374.2 1931.3 370.2 1957.8 347.1 1967.6 340.1 1976.3 336.6 1988.8 334.5ZM2023.8 403.7 2023.8 408.8 2017.3 414.6 2007.6 420.4 1997.6 423.8 1983.8 424.3 1967.6 423.6 1943.8 425.4 1935.1 424.5 1925.1 422.5 1920.1 422.3 1912.6 423.8 1902.6 429.0 1897.6 431.0 1892.6 432.2 1887.6 432.6 1853.8 433.4 1847.6 433.1 1841.3 432.0 1835.3 429.6 1830.1 426.2 1822.5 419.6 1815.1 412.2 1815.1 407.4 1821.4 414.6 1830.1 422.7 1836.8 427.1 1842.6 429.4 1852.6 430.6 1887.6 429.6 1892.6 429.1 1898.8 427.4 1911.3 420.5 1918.8 418.6 1925.1 419.0 1935.1 422.2 1943.8 423.6 1967.6 421.2 1983.8 422.3 1996.3 422.0 2003.5 419.6 2011.3 415.4 2016.3 411.4 2023.8 403.7Z" fill="#c4d7f5" stroke="#c4d7f5" stroke-width="0.7"/>
<path d="M1986.3 330.8 1995.1 329.9 2001.3 329.9 2008.1 330.9 2015.1 332.8 2023.8 336.6 2023.9 343.2 2013.9 337.7 2007.6 335.5 2001.3 334.2 1996.3 334.0 1987.6 334.7 1975.1 337.0 1968.4 339.6 1961.3 344.3 1936.3 366.2 1930.1 371.0 1923.8 374.2 1916.3 376.1 1912.6 376.2 1907.6 375.5 1898.8 371.8 1886.3 363.0 1865.1 344.9 1860.1 341.9 1855.1 340.1 1846.3 339.0 1836.3 339.8 1823.8 343.0 1815.1 347.2 1815.1 342.3 1826.3 338.2 1835.1 336.4 1842.6 335.7 1850.1 335.9 1856.3 336.9 1861.3 338.7 1867.2 342.1 1888.2 359.6 1900.1 367.9 1905.1 370.3 1908.8 371.4 1916.3 371.9 1923.8 370.1 1931.3 365.9 1956.3 344.2 1965.1 337.8 1975.1 333.4 1986.3 330.8ZM2023.8 408.8 2023.8 413.6 2019.1 417.1 2009.8 422.1 1998.8 425.5 1990.1 426.1 1965.1 425.8 1943.8 427.0 1925.1 425.5 1920.1 425.6 1912.6 427.3 1897.6 434.0 1887.6 435.4 1855.1 436.1 1846.3 435.6 1840.1 434.4 1835.1 432.6 1830.1 429.5 1823.8 424.5 1815.1 416.4 1815.1 412.2 1822.6 419.8 1831.4 427.1 1836.3 430.2 1842.6 432.3 1855.1 433.4 1887.6 432.6 1892.6 432.2 1897.6 431.0 1902.6 429.0 1912.6 423.8 1920.1 422.3 1925.1 422.5 1935.1 424.5 1943.8 425.4 1967.6 423.6 1983.8 424.3 1997.6 423.8 2003.8 422.0 2011.6 418.4 2017.3 414.6 2023.8 408.8Z" fill="#e3ecfa" stroke="#e3ecfa" stroke-width="0.7"/>
<path d="M1992.6 325.8 2000.1 325.5 2006.3 326.0 2013.3 327.1 2020.1 329.1 2023.8 330.5 2023.8 336.6 2012.6 332.0 2001.3 329.9 1988.8 330.4 1975.1 333.4 1967.6 336.4 1960.1 341.2 1930.1 366.7 1923.8 370.1 1916.3 371.9 1911.3 371.9 1907.6 371.1 1898.8 367.2 1887.6 359.2 1867.6 342.4 1862.6 339.3 1857.6 337.3 1848.8 335.8 1837.6 336.1 1825.1 338.5 1815.1 342.3 1815.1 337.6 1826.3 334.1 1835.1 332.8 1842.6 332.3 1851.3 332.6 1857.6 333.6 1863.8 335.8 1868.8 338.8 1890.1 356.0 1901.3 363.8 1908.8 367.1 1916.3 367.8 1923.8 366.1 1930.1 362.6 1955.1 340.9 1965.1 333.9 1977.6 328.7 1985.1 326.9 1992.6 325.8ZM2022.6 414.6 2023.8 413.6 2023.8 417.9 2021.0 419.6 2011.3 424.3 2001.3 427.0 1990.1 427.9 1921.3 428.4 1912.6 430.3 1897.6 436.9 1887.6 438.1 1856.3 438.8 1847.6 438.3 1841.3 437.3 1835.1 435.3 1831.3 433.3 1823.0 427.1 1815.1 420.3 1815.1 416.4 1828.8 428.6 1833.8 432.0 1838.8 434.0 1848.8 435.8 1863.8 436.0 1888.8 435.3 1895.1 434.6 1901.3 432.6 1912.6 427.3 1920.1 425.6 1925.1 425.5 1943.8 427.0 1966.4 425.8 1983.8 426.1 1997.6 425.7 2003.8 424.3 2011.3 421.5 2017.1 418.4 2022.6 414.6Z" fill="#fcfdff" stroke="#fcfdff" stroke-width="0.7"/>
<path d="M1988.9 322.0 2003.8 321.2 2011.3 321.9 2018.8 323.3 2023.8 324.7 2023.8 330.5 2012.6 327.0 2000.1 325.5 1987.6 326.4 1975.1 329.5 1966.3 333.2 1958.3 338.4 1934.0 359.7 1928.8 363.4 1922.6 366.5 1916.3 367.8 1908.8 367.1 1900.7 363.4 1890.1 356.0 1868.8 338.8 1863.8 335.8 1858.8 333.9 1848.8 332.4 1836.3 332.6 1825.1 334.4 1815.1 337.6 1815.1 332.9 1827.6 329.8 1836.3 328.9 1846.3 328.8 1853.8 329.2 1860.1 330.3 1865.4 332.1 1871.4 335.6 1895.4 354.7 1903.8 360.2 1911.3 363.3 1917.6 363.7 1923.8 362.0 1930.1 358.4 1953.8 337.2 1963.8 330.2 1976.3 324.9 1988.9 322.0ZM2023.8 417.9 2023.8 421.9 2014.8 425.9 2003.8 428.8 1996.3 429.6 1955.1 429.8 1922.6 431.0 1912.6 433.3 1897.6 440.0 1887.6 440.9 1856.3 441.3 1842.6 440.0 1837.6 438.6 1831.5 435.9 1822.3 429.6 1815.1 423.9 1815.1 420.3 1823.0 427.1 1831.5 433.4 1836.4 435.8 1842.6 437.5 1848.8 438.4 1857.6 438.8 1887.6 438.1 1897.6 436.9 1912.6 430.3 1921.3 428.4 1943.8 428.6 1963.8 427.8 1991.3 427.9 2000.1 427.2 2006.3 425.9 2012.6 423.8 2023.8 417.9Z" fill="#feeeeb" stroke="#feeeeb" stroke-width="0.7"/>
<path d="M1996.3 317.1 2010.1 317.0 2023.8 319.1 2023.8 324.7 2012.6 322.1 2000.1 321.2 1987.6 322.2 1975.1 325.3 1965.1 329.6 1956.3 335.3 1928.8 359.3 1922.6 362.5 1917.6 363.7 1913.8 363.7 1910.1 363.0 1902.6 359.5 1893.8 353.4 1873.8 337.3 1867.6 333.2 1862.2 330.9 1851.3 329.0 1837.6 328.9 1826.4 330.0 1815.1 332.9 1815.1 328.2 1827.6 325.6 1836.3 325.0 1848.8 325.2 1856.3 325.8 1863.4 327.1 1871.3 330.1 1879.2 334.6 1898.1 350.9 1905.1 355.8 1911.3 358.7 1917.6 359.4 1922.6 358.2 1928.8 354.8 1951.3 333.6 1962.5 325.9 1970.1 322.6 1977.6 320.2 1986.3 318.3 1996.3 317.1ZM2023.8 421.9 2023.8 425.6 2015.1 428.7 2005.1 431.0 1996.3 431.7 1948.8 431.8 1925.1 433.3 1918.8 434.3 1913.8 435.9 1898.8 442.8 1891.3 443.9 1855.1 443.7 1843.8 442.8 1838.8 441.3 1831.3 437.9 1822.0 432.1 1815.1 427.2 1815.1 423.9 1822.3 429.6 1831.5 435.9 1837.6 438.6 1843.8 440.3 1857.6 441.3 1887.6 440.9 1893.8 440.6 1898.8 439.6 1911.3 433.8 1921.3 431.2 1955.1 429.8 1998.8 429.4 2011.3 427.0 2017.6 424.8 2023.8 421.9Z" fill="#fbd5cf" stroke="#fbd5cf" stroke-width="0.7"/>
<path d="M1992.6 313.3 2008.8 312.3 2023.8 313.6 2023.8 319.1 2011.3 317.1 1997.6 317.0 1983.8 318.7 1970.1 322.6 1961.3 326.5 1953.8 331.6 1928.8 354.8 1922.6 358.2 1917.6 359.4 1911.3 358.7 1905.1 355.8 1898.1 350.9 1879.2 334.6 1872.6 330.7 1865.1 327.6 1853.8 325.5 1838.8 325.0 1826.3 325.8 1815.1 328.2 1815.1 323.4 1828.8 321.2 1838.8 320.9 1851.3 321.4 1860.1 322.4 1868.8 324.2 1878.8 327.3 1885.1 330.3 1888.8 333.3 1898.9 344.6 1905.1 350.2 1911.3 353.7 1917.6 354.8 1923.3 353.4 1928.8 349.9 1946.5 330.9 1951.4 326.8 1956.6 323.4 1964.9 319.6 1971.3 317.5 1982.6 314.9 1992.6 313.3ZM2023.8 425.6 2023.8 429.2 2015.1 431.6 2003.9 433.7 1948.8 433.8 1934.8 434.6 1924.1 435.9 1915.1 438.4 1901.3 445.3 1896.3 446.6 1891.3 447.0 1870.1 446.1 1851.3 446.0 1843.8 445.2 1840.1 444.1 1835.1 441.8 1822.0 434.6 1815.1 430.2 1815.1 427.2 1822.0 432.1 1831.3 437.9 1838.8 441.3 1845.1 443.0 1856.3 443.8 1891.3 443.9 1900.1 442.4 1913.8 435.9 1923.8 433.4 1948.8 431.8 2000.1 431.6 2012.6 429.4 2023.8 425.6Z" fill="#f8bbb2" stroke="#f8bbb2" stroke-width="0.7"/>
<path d="M1998.8 308.4 2011.3 307.7 2023.8 308.3 2023.8 313.6 2010.1 312.3 1995.1 313.0 1977.7 315.9 1964.9 319.6 1956.3 323.6 1949.3 328.4 1943.8 333.6 1932.6 346.3 1927.6 350.9 1922.6 353.7 1917.6 354.8 1912.6 354.1 1906.3 351.1 1900.1 345.9 1890.1 334.6 1886.3 331.1 1881.7 328.4 1874.8 325.9 1861.3 322.6 1846.3 321.1 1828.8 321.2 1815.1 323.4 1815.1 318.5 1823.8 317.2 1833.8 316.7 1855.1 317.7 1886.3 322.3 1891.3 324.5 1894.4 327.1 1903.7 340.9 1908.3 345.9 1913.8 349.1 1918.8 349.7 1922.6 348.6 1926.7 345.9 1930.3 342.1 1940.5 328.4 1944.7 324.6 1950.8 320.9 1956.4 318.4 1970.1 313.7 1986.3 310.2 1998.8 308.4ZM2022.6 429.6 2023.8 429.2 2023.8 432.8 2003.8 436.5 1956.3 435.8 1938.8 436.6 1926.3 438.0 1917.6 440.4 1902.6 448.2 1897.6 449.5 1892.6 450.1 1866.3 448.5 1850.1 448.4 1843.8 447.6 1838.8 445.9 1815.1 433.0 1815.1 430.2 1824.2 435.9 1836.3 442.4 1841.3 444.6 1845.1 445.5 1852.6 446.1 1870.1 446.1 1891.3 447.0 1900.1 445.7 1916.3 437.9 1926.3 435.6 1951.3 433.8 2001.3 433.9 2010.1 432.7 2022.6 429.6Z" fill="#f5a9a0" stroke="#f5a9a0" stroke-width="0.7"/>
<path d="M2005.1 303.4 2023.8 302.9 2023.8 308.3 2007.6 307.7 1991.3 309.4 1970.1 313.7 1955.1 318.9 1948.5 322.1 1943.1 325.9 1938.8 330.3 1931.3 340.9 1927.6 345.1 1923.0 348.4 1918.8 349.7 1913.8 349.1 1908.3 345.9 1903.7 340.9 1894.4 327.1 1891.3 324.5 1886.3 322.3 1860.1 318.3 1845.1 316.9 1828.8 316.8 1815.1 318.5 1815.1 313.6 1830.1 312.2 1848.8 312.8 1888.8 317.0 1895.1 319.0 1899.7 322.1 1905.1 328.4 1912.6 340.2 1915.1 342.3 1918.8 343.4 1921.8 342.1 1924.5 339.6 1930.5 329.6 1934.6 324.6 1942.1 319.6 1951.9 315.9 1972.6 309.6 1990.1 305.6 2005.1 303.4ZM1815.7 433.4 1838.8 445.9 1843.8 447.6 1850.1 448.4 1866.3 448.5 1890.1 450.1 1896.3 449.8 1901.3 448.6 1919.6 439.6 1925.1 438.2 1933.8 437.0 1947.6 436.1 1963.9 435.7 2001.3 436.7 2006.3 436.2 2023.8 432.8 2023.8 436.6 2002.6 439.7 1966.3 437.8 1946.3 438.5 1932.6 439.6 1925.1 440.8 1920.1 442.3 1902.6 451.2 1896.3 452.7 1891.3 453.0 1866.4 451.0 1850.1 450.9 1843.8 449.9 1838.8 448.2 1828.8 442.2 1815.1 435.7 1815.1 433.0 1815.7 433.4Z" fill="#f3978d" stroke="#f3978d" stroke-width="0.7"/>
<path d="M2008.8 298.3 2023.8 297.5 2023.8 302.9 2006.3 303.2 1987.6 306.1 1967.6 310.9 1951.9 315.9 1942.1 319.6 1934.6 324.6 1930.5 329.6 1924.5 339.6 1921.8 342.1 1918.8 343.4 1915.1 342.3 1912.6 340.2 1905.1 328.4 1899.7 322.1 1896.3 319.6 1890.1 317.3 1885.1 316.4 1842.6 312.4 1827.6 312.3 1815.1 313.6 1815.1 308.5 1831.3 307.4 1850.1 308.4 1888.8 312.8 1899.5 315.9 1915.1 323.0 1918.8 323.5 1922.6 322.4 1930.6 318.4 1937.5 315.9 1957.6 311.5 1972.6 306.3 1986.3 302.4 1997.6 300.0 2008.8 298.3ZM1815.5 435.9 1828.8 442.2 1838.8 448.2 1843.8 449.9 1850.1 450.9 1866.3 451.0 1890.1 453.0 1895.1 452.9 1901.3 451.6 1905.1 450.2 1916.3 444.0 1921.3 441.9 1927.6 440.3 1936.3 439.2 1966.3 437.8 2002.6 439.7 2023.8 436.6 2023.8 440.6 2003.8 443.0 1985.1 440.9 1970.1 440.1 1956.3 440.4 1935.1 441.9 1926.3 443.3 1921.3 444.7 1906.3 452.5 1901.3 454.4 1896.3 455.5 1891.3 455.8 1866.3 453.6 1851.3 453.5 1845.1 452.5 1838.8 450.3 1827.6 443.7 1815.1 438.2 1815.1 435.7 1815.5 435.9Z" fill="#e54f58" stroke="#e54f58" stroke-width="0.7"/>
<path d="M2023.8 292.1 2023.8 297.5 2005.1 298.8 1986.3 302.4 1972.6 306.3 1957.6 311.5 1936.3 316.2 1930.6 318.4 1922.6 322.4 1918.8 323.5 1913.8 322.6 1897.6 315.2 1885.1 312.2 1840.1 307.7 1826.3 307.5 1815.1 308.5 1815.1 303.2 1830.1 302.5 1847.6 303.4 1877.6 307.0 1886.3 308.5 1898.8 311.4 1907.6 312.6 1913.8 312.6 1927.6 311.2 1951.3 309.9 1958.8 308.6 1976.3 301.7 1993.8 296.5 2008.8 293.5 2023.8 292.1ZM1815.5 438.4 1827.6 443.7 1838.8 450.3 1846.3 452.8 1852.6 453.6 1866.3 453.6 1890.1 455.8 1896.3 455.5 1902.6 454.0 1918.9 445.8 1923.8 443.9 1930.1 442.6 1940.1 441.4 1971.3 440.1 1985.6 440.9 2003.8 443.0 2023.8 440.6 2023.8 444.9 2005.1 446.7 1985.9 443.4 1970.1 442.4 1938.8 444.2 1930.1 445.3 1923.8 446.8 1902.6 456.7 1897.6 458.1 1891.3 458.5 1865.1 456.2 1851.3 456.1 1846.3 455.3 1838.9 452.3 1826.3 445.3 1815.1 440.7 1815.1 438.2 1815.5 438.4Z" fill="#e2414b" stroke="#e2414b" stroke-width="0.7"/>
<path d="M1993.8 292.1 1998.3 290.9 2023.8 290.9 2023.8 292.1 2008.8 293.5 1992.6 296.8 1977.6 301.3 1956.3 309.2 1913.8 312.6 1902.6 312.1 1881.3 307.5 1847.6 303.4 1830.1 302.5 1815.1 303.2 1815.1 297.8 1831.3 297.3 1848.8 298.6 1872.6 301.7 1882.6 303.5 1898.8 307.5 1905.1 307.1 1916.3 303.8 1921.3 303.2 1926.3 303.6 1938.8 306.2 1953.8 307.0 1958.8 306.0 1976.3 298.0 1993.8 292.1ZM1815.5 440.9 1827.6 445.9 1840.1 452.9 1847.6 455.6 1852.6 456.1 1866.3 456.3 1890.1 458.4 1896.3 458.2 1902.6 456.7 1920.1 448.2 1926.3 446.1 1935.1 444.6 1948.2 443.4 1965.1 442.4 1977.6 442.7 1987.6 443.6 2005.1 446.7 2023.8 444.9 2023.8 449.5 2006.3 450.8 2001.3 450.0 1987.6 446.2 1975.1 444.9 1963.8 445.0 1946.3 446.3 1935.1 447.5 1926.3 449.1 1920.1 451.3 1901.3 460.0 1896.3 461.0 1891.3 461.1 1866.3 458.8 1852.6 458.7 1847.6 458.1 1841.3 455.7 1826.3 447.7 1815.1 443.2 1815.1 440.7 1815.5 440.9Z" fill="#de343d" stroke="#de343d" stroke-width="0.7"/>
<path d="M1816.3 292.1 1833.8 292.0 1856.3 294.3 1878.8 298.0 1897.6 303.3 1903.1 302.1 1913.8 296.5 1917.6 295.9 1922.6 295.9 1927.6 296.8 1940.1 301.9 1955.1 304.2 1958.8 303.1 1971.3 296.4 1984.1 290.9 1998.3 290.9 1980.1 296.6 1960.1 305.5 1956.3 306.8 1952.6 307.0 1940.1 306.3 1926.3 303.6 1921.3 303.2 1916.3 303.8 1905.1 307.1 1900.1 307.6 1895.1 306.9 1878.8 302.8 1851.3 298.9 1831.3 297.3 1815.1 297.8 1815.1 292.1 1816.3 292.1ZM1815.6 443.4 1826.3 447.7 1841.3 455.7 1847.6 458.1 1852.6 458.7 1866.3 458.8 1891.3 461.1 1896.3 461.0 1901.3 460.0 1920.1 451.3 1927.6 448.8 1941.3 446.7 1963.8 445.0 1975.1 444.9 1985.1 445.8 2006.3 450.8 2023.8 449.5 2023.8 454.2 2012.6 454.8 2006.3 454.6 1985.1 448.4 1973.8 447.4 1962.6 447.8 1942.2 449.6 1927.6 452.0 1919.8 454.6 1902.6 462.8 1898.9 463.6 1892.6 463.8 1873.8 461.7 1851.3 461.0 1846.3 460.2 1841.3 458.1 1827.6 450.7 1815.1 445.8 1815.1 443.2 1815.6 443.4Z" fill="#dc262f" stroke="#dc262f" stroke-width="0.7"/>
<path d="M1816.3 290.9 1868.9 290.9 1896.3 296.8 1901.3 295.8 1912.1 290.9 1926.9 290.9 1942.6 297.6 1953.8 300.2 1958.8 299.1 1974.0 290.9 1984.1 290.9 1971.3 296.4 1958.8 303.1 1955.1 304.2 1940.1 301.9 1927.6 296.8 1922.6 295.9 1917.6 295.9 1913.8 296.5 1903.1 302.1 1897.6 303.3 1881.3 298.6 1863.8 295.4 1836.3 292.2 1825.1 291.8 1815.1 292.1 1815.1 290.9 1816.3 290.9ZM1815.4 445.9 1826.3 450.1 1842.6 458.7 1847.6 460.6 1873.8 461.7 1891.3 463.7 1897.6 463.8 1902.6 462.8 1920.1 454.5 1928.8 451.7 1943.8 449.5 1967.6 447.5 1977.6 447.6 1986.3 448.6 2006.4 454.6 2012.6 454.8 2023.8 454.2 2023.8 458.9 2013.8 458.8 2006.3 457.9 1990.1 452.2 1983.8 450.8 1976.3 450.2 1967.6 450.3 1945.1 452.6 1928.8 455.2 1919.7 458.4 1906.3 465.7 1902.6 466.7 1896.3 466.8 1875.1 463.9 1863.8 463.2 1851.3 463.2 1846.3 462.6 1841.3 460.6 1828.1 453.4 1815.1 448.4 1815.4 445.9Z" fill="#d91921" stroke="#d91921" stroke-width="0.7"/>
<path d="M1870.1 290.9 1912.1 290.9 1901.3 295.8 1896.3 296.8 1870.1 290.9ZM1927.6 290.9 1940.2 290.9 1947.6 293.9 1953.8 295.0 1958.8 293.9 1964.8 290.9 1974.0 290.9 1958.8 299.1 1953.8 300.2 1941.3 297.2 1927.6 290.9ZM1816.3 448.9 1828.8 453.8 1841.3 460.6 1846.3 462.6 1851.3 463.2 1863.8 463.2 1875.1 463.9 1896.3 466.8 1901.3 466.8 1905.1 466.2 1920.1 458.2 1930.1 454.9 1947.6 452.3 1971.3 450.1 1980.1 450.4 1986.3 451.2 1991.3 452.6 2002.6 456.9 2007.6 458.2 2023.8 458.9 2023.8 463.8 2015.1 463.0 2007.6 461.6 1991.3 455.4 1985.1 453.7 1977.6 453.0 1968.8 453.3 1939.6 457.1 1926.3 460.0 1921.4 462.1 1917.7 464.6 1915.0 467.1 1911.3 472.1 1910.1 473.2 1908.8 473.4 1897.6 470.3 1880.1 466.6 1865.1 465.4 1850.1 465.4 1845.1 464.5 1840.1 462.6 1827.7 455.9 1815.1 451.2 1815.1 448.4 1816.3 448.9Z" fill="#d81018" stroke="#d81018" stroke-width="0.7"/>
<path d="M1941.3 290.9 1964.8 290.9 1958.8 293.9 1953.8 295.0 1946.3 293.5 1940.2 290.9 1941.3 290.9ZM1816.3 451.6 1827.6 455.9 1841.3 463.2 1846.3 464.9 1851.3 465.4 1866.3 465.5 1880.1 466.6 1897.6 470.3 1908.8 473.4 1910.1 473.2 1911.3 472.1 1915.0 467.1 1918.8 463.8 1922.6 461.5 1927.4 459.6 1946.3 456.1 1972.6 453.0 1980.1 453.1 1986.3 454.0 2007.6 461.6 2015.1 463.0 2023.8 463.8 2023.8 468.8 2008.8 465.7 1991.3 458.3 1986.3 456.8 1976.3 456.1 1965.1 457.2 1932.6 463.2 1925.1 465.8 1921.8 468.4 1920.1 470.9 1919.0 474.6 1918.3 480.9 1916.6 484.6 1913.8 486.6 1910.1 487.1 1907.6 485.9 1906.3 484.6 1902.2 478.4 1900.1 476.3 1893.8 472.8 1883.2 469.6 1877.6 468.6 1863.8 467.6 1850.1 467.7 1843.8 466.6 1838.8 464.7 1826.8 458.4 1815.1 454.1 1815.1 451.2 1816.3 451.6Z" fill="#d81018" stroke="#d81018" stroke-width="0.7"/>
<path d="M1816.3 454.5 1826.8 458.4 1840.1 465.2 1845.1 467.0 1850.1 467.7 1863.8 467.6 1876.3 468.4 1882.6 469.5 1892.6 472.4 1899.7 475.9 1902.2 478.4 1906.4 484.6 1907.6 485.9 1910.1 487.1 1913.8 486.6 1916.6 484.6 1918.3 480.9 1919.0 474.6 1920.1 470.9 1921.8 468.4 1925.1 465.8 1933.8 463.0 1970.1 456.6 1978.8 456.1 1987.6 457.1 2007.6 465.3 2015.1 467.3 2023.8 468.8 2023.8 474.2 2008.8 470.0 1987.6 460.3 1978.8 459.5 1968.0 460.9 1953.1 464.6 1936.3 470.2 1930.1 471.6 1927.6 472.7 1926.3 473.9 1926.0 475.9 1927.6 478.6 1936.3 487.4 1943.8 492.1 1946.2 494.6 1947.0 497.1 1946.7 498.4 1943.8 501.5 1940.1 502.5 1935.1 501.9 1931.3 500.1 1926.3 495.6 1923.8 494.6 1920.1 494.0 1915.1 495.1 1907.6 499.7 1902.6 500.2 1898.8 499.2 1896.3 497.1 1895.7 494.6 1897.8 487.1 1897.6 483.4 1895.9 479.6 1891.1 475.9 1881.4 472.1 1877.6 471.3 1863.8 470.1 1848.8 470.1 1842.6 468.9 1825.2 460.9 1815.1 457.2 1815.1 454.1 1816.3 454.5Z" fill="#d81018" stroke="#d81018" stroke-width="0.7"/>
<path d="M1816.3 457.6 1825.1 460.8 1838.0 467.1 1843.8 469.2 1850.1 470.1 1863.8 470.1 1876.3 471.1 1881.4 472.1 1891.1 475.9 1895.9 479.6 1897.6 483.4 1897.8 487.1 1895.7 494.6 1896.3 497.1 1898.8 499.2 1902.6 500.2 1907.6 499.7 1915.1 495.1 1920.1 494.0 1923.8 494.6 1926.3 495.6 1931.3 500.1 1935.1 501.9 1940.1 502.5 1943.8 501.5 1946.7 498.4 1947.0 497.1 1946.2 494.6 1943.8 492.1 1936.3 487.4 1927.6 478.6 1926.0 475.9 1926.3 473.9 1927.6 472.7 1930.1 471.6 1936.3 470.2 1957.5 463.4 1971.3 460.3 1981.3 459.5 1989.5 460.9 2008.8 470.0 2023.8 474.2 2023.8 480.4 2008.8 475.2 1993.9 467.1 1988.2 464.6 1982.6 463.7 1975.1 464.3 1967.6 466.2 1959.7 469.6 1956.1 472.1 1953.1 475.9 1952.5 478.4 1952.6 480.9 1956.0 490.9 1957.1 495.9 1956.9 500.9 1955.7 504.6 1926.2 504.6 1923.2 500.9 1920.1 499.2 1917.6 499.8 1912.2 504.6 1891.0 504.6 1887.8 500.9 1885.7 495.9 1885.3 490.9 1886.2 484.6 1885.7 482.1 1883.8 479.6 1880.3 477.1 1875.1 475.1 1868.8 473.9 1861.3 473.1 1848.8 472.9 1841.3 471.4 1823.8 463.7 1815.1 460.6 1815.1 457.2 1816.3 457.6Z" fill="#d71017" stroke="#d71017" stroke-width="0.7"/>
<path d="M1816.1 460.9 1842.6 471.8 1848.8 472.9 1861.3 473.1 1868.8 473.9 1875.1 475.1 1880.3 477.1 1883.8 479.6 1885.7 482.1 1886.2 484.6 1885.3 490.9 1885.7 495.9 1887.8 500.9 1891.0 504.6 1881.1 504.6 1872.6 490.1 1869.0 482.1 1866.5 479.6 1861.3 477.7 1846.3 475.9 1837.6 473.4 1815.1 464.2 1815.1 460.6 1816.1 460.9ZM1973.8 464.5 1981.3 463.7 1988.2 464.6 1993.9 467.1 2008.8 475.2 2023.8 480.4 2023.8 487.8 2010.1 482.5 1988.8 470.9 1983.8 469.7 1977.6 470.1 1973.8 471.3 1969.9 473.4 1967.0 475.9 1965.1 479.0 1964.5 483.4 1966.2 498.4 1965.5 504.6 1955.7 504.6 1956.9 500.9 1957.1 495.9 1956.0 490.9 1952.6 480.9 1952.5 478.4 1953.1 475.9 1956.1 472.1 1959.7 469.6 1966.3 466.7 1973.8 464.5ZM1918.8 499.3 1921.3 499.6 1922.6 500.4 1926.2 504.6 1912.2 504.6 1916.4 500.7 1918.8 499.3Z" fill="#d71017" stroke="#d71017" stroke-width="0.7"/>
<path d="M1816.3 464.6 1841.3 474.7 1847.6 476.1 1860.1 477.4 1866.5 479.6 1869.0 482.1 1872.6 490.1 1881.1 504.6 1872.8 504.6 1863.3 488.4 1861.3 485.9 1858.8 483.8 1853.8 481.7 1838.8 477.7 1815.1 468.0 1815.1 464.2 1816.3 464.6ZM1981.3 469.6 1985.1 469.9 1990.1 471.4 2008.8 481.9 2023.8 487.8 2023.8 497.0 2010.1 491.9 1991.3 482.7 1985.1 481.4 1981.4 482.6 1978.8 485.9 1977.9 489.6 1976.6 504.6 1965.5 504.6 1966.1 497.1 1964.5 483.4 1965.3 478.4 1968.2 474.6 1972.0 472.1 1976.3 470.5 1981.3 469.6Z" fill="#d71017" stroke="#d71017" stroke-width="0.7"/>
<path d="M1816.1 468.4 1838.8 477.7 1853.8 481.7 1858.8 483.8 1861.3 485.9 1863.3 488.4 1872.8 504.6 1865.2 504.6 1858.0 493.4 1853.0 488.4 1847.6 485.5 1815.1 472.3 1815.1 468.0 1816.1 468.4ZM1982.6 481.9 1986.3 481.4 1990.1 482.2 2010.1 491.9 2023.8 497.0 2023.8 504.6 1976.6 504.6 1978.4 487.1 1980.1 483.8 1982.6 481.9Z" fill="#d71017" stroke="#d71017" stroke-width="0.7"/>
<path d="M1816.3 472.7 1847.6 485.5 1852.6 488.1 1858.0 493.4 1865.2 504.6 1857.6 504.6 1851.3 496.2 1845.0 490.9 1832.9 484.6 1815.1 476.9 1815.1 472.3 1816.3 472.7Z" fill="#d71017" stroke="#d71017" stroke-width="0.7"/>
<path d="M1815.7 477.1 1832.9 484.6 1845.0 490.9 1851.3 496.2 1857.6 504.6 1849.4 504.6 1843.9 498.4 1837.5 493.4 1826.4 487.2 1815.1 482.1 1815.1 476.9 1815.7 477.1Z" fill="#d61016" stroke="#d61016" stroke-width="0.7"/>
<path d="M1815.2 482.1 1826.3 487.2 1837.5 493.4 1843.9 498.4 1849.4 504.6 1840.4 504.6 1835.1 499.7 1829.9 495.9 1815.1 487.9 1815.2 482.1Z" fill="#d61016" stroke="#d61016" stroke-width="0.7"/>
<path d="M1816.2 488.4 1830.1 496.1 1835.1 499.7 1840.4 504.6 1815.1 504.6 1815.1 487.9 1816.2 488.4Z" fill="#d61016" stroke="#d61016" stroke-width="0.7"/>
<path d="M1983.8 354.3 1977.6 356.8 1972.0 360.9 1965.8 367.1 1952.6 383.8 1943.8 393.4 1942.6 394.5 1940.1 394.7 1938.8 395.5 1938.5 397.1 1938.8 398.8 1940.1 401.2 1942.2 403.4 1944.1 404.7 1946.4 405.5 1950.1 405.7 1954.5 404.6 1963.8 401.3 1967.6 401.1 1973.8 403.4 1986.3 410.0 1989.2 410.9 1992.6 411.3 1996.3 410.8 1999.4 409.6 2003.2 407.1 2006.3 404.1 2011.0 397.2 2013.9 390.9 2015.1 387.1 2015.5 382.1 2013.6 375.9 2010.6 369.6 2008.3 365.9 2003.8 360.3 2000.4 357.1 1996.3 354.9 1992.6 353.8 1988.8 353.5 1983.8 354.3M1840.1 357.0 1836.3 358.2 1833.4 359.6 1830.1 361.8 1827.6 364.0 1825.1 367.0 1823.5 369.6 1821.8 375.9 1821.0 384.6 1822.0 389.6 1827.3 402.1 1829.8 405.9 1832.6 408.7 1837.6 412.7 1842.5 415.9 1846.3 417.5 1848.8 417.7 1853.9 416.8 1863.8 413.2 1870.1 411.4 1873.8 411.0 1881.3 411.1 1886.3 410.3 1890.9 408.4 1894.0 405.9 1895.5 403.4 1897.8 395.9 1897.6 394.6 1896.3 393.4 1887.6 388.5 1882.6 384.7 1867.0 367.1 1862.9 363.4 1858.8 360.4 1855.1 358.4 1850.1 356.8 1845.1 356.4 1840.1 357.0M2023.8 350.8 2018.1 345.9 2013.8 343.2 2008.8 340.9 2002.6 338.9 2000.1 338.3 1995.1 338.1 1985.1 338.7 1977.6 339.9 1970.8 342.1 1966.3 344.8 1962.6 347.5 1934.8 372.1 1929.5 375.9 1922.6 379.1 1918.8 380.3 1913.8 380.9 1908.8 380.1 1905.1 379.0 1900.1 376.9 1896.2 374.6 1888.8 369.6 1883.8 365.5 1863.8 348.0 1858.8 345.1 1853.8 343.3 1848.8 342.4 1843.9 342.3 1837.6 343.1 1833.8 344.0 1828.8 345.4 1822.6 347.8 1815.1 352.4M1815.1 407.4 1821.4 414.6 1825.1 418.2 1831.3 423.6 1836.8 427.1 1841.3 429.1 1843.8 429.7 1853.9 430.6 1888.8 429.5 1893.8 428.9 1901.3 426.4 1910.4 420.9 1912.6 420.0 1915.1 419.2 1920.1 418.5 1925.1 419.0 1935.1 422.2 1943.8 423.6 1966.3 421.3 1973.8 421.3 1982.6 422.2 1995.7 422.1 2000.4 420.9 2003.8 419.5 2010.6 415.9 2015.6 412.1 2023.8 403.7M2023.8 324.7 2012.6 322.1 2005.1 321.3 1997.6 321.2 1985.1 322.7 1973.8 325.8 1965.0 329.6 1955.1 336.2 1933.2 355.9 1928.8 359.3 1926.1 360.9 1921.3 362.9 1916.3 363.7 1911.3 363.3 1908.8 362.6 1903.8 360.2 1896.3 355.3 1872.6 336.4 1866.3 332.6 1861.3 330.7 1851.3 329.0 1835.1 329.0 1826.4 330.0 1815.1 332.9M1815.1 423.9 1824.0 430.9 1830.1 435.0 1835.1 437.6 1843.8 440.3 1847.6 440.8 1857.6 441.3 1888.8 440.9 1896.3 440.3 1901.3 438.7 1909.2 434.6 1912.6 433.3 1918.8 431.6 1925.1 430.8 1961.3 429.7 1988.8 429.8 2001.3 429.2 2012.6 426.6 2016.3 425.3 2023.8 421.9M2023.8 302.9 2008.8 303.0 1991.3 305.3 1968.8 310.6 1945.0 318.4 1938.8 321.5 1935.1 324.2 1930.5 329.6 1924.5 339.6 1921.8 342.1 1918.8 343.4 1916.3 342.9 1914.8 342.1 1912.1 339.6 1905.1 328.4 1901.0 323.4 1898.8 321.4 1896.3 319.6 1893.8 318.5 1888.8 317.0 1843.8 312.5 1826.3 312.3 1815.1 313.6M1815.1 435.7 1828.8 442.2 1839.3 448.4 1843.8 449.9 1848.8 450.8 1865.1 450.9 1891.3 453.0 1896.3 452.7 1903.8 450.8 1918.8 442.8 1923.8 441.1 1931.3 439.8 1942.6 438.7 1965.1 437.8 1980.1 438.2 2000.1 439.6 2003.8 439.6 2023.8 436.6M1984.1 290.9 1969.9 297.1 1958.8 303.1 1955.1 304.2 1940.1 301.9 1935.1 300.1 1927.6 296.8 1922.5 295.9 1917.6 295.9 1913.8 296.5 1902.6 302.3 1897.6 303.3 1887.6 300.2 1877.6 297.8 1852.6 293.8 1830.1 291.9 1815.1 292.1M1815.1 445.8 1825.3 449.6 1835.5 454.6 1842.6 458.7 1847.6 460.6 1872.6 461.6 1891.3 463.7 1897.6 463.8 1902.6 462.8 1917.0 455.9 1921.3 454.0 1927.6 452.0 1945.1 449.3 1966.3 447.5 1976.3 447.5 1985.3 448.4 1992.6 450.2 2000.1 453.0 2006.4 454.6 2012.6 454.8 2023.8 454.2M1815.1 457.2 1825.2 460.9 1840.1 468.0 1845.1 469.5 1850.1 470.1 1865.1 470.1 1875.1 470.9 1881.4 472.1 1891.3 476.0 1893.8 477.7 1896.3 480.2 1897.6 483.4 1897.6 488.0 1895.9 493.4 1895.8 495.9 1896.4 497.1 1897.6 498.4 1900.1 499.7 1902.6 500.2 1905.1 500.2 1907.7 499.6 1910.3 498.4 1915.1 495.1 1917.6 494.3 1920.1 494.0 1925.1 494.9 1926.8 495.9 1931.3 500.1 1935.1 501.9 1940.1 502.5 1943.8 501.5 1945.1 500.6 1946.7 498.4 1947.0 497.1 1946.2 494.6 1943.8 492.1 1936.3 487.4 1927.6 478.6 1926.0 475.9 1926.3 473.9 1928.8 472.0 1936.3 470.2 1945.1 467.1 1965.1 461.5 1970.1 460.5 1977.6 459.5 1986.3 460.1 1991.3 461.7 2008.0 469.6 2015.3 472.1 2023.8 474.2" fill="none" stroke="#0a0a0a" stroke-width="3.6" stroke-linejoin="round" stroke-linecap="round"/>
</g>
<ellipse cx="1919.3" cy="397.7" rx="100.2" ry="102.8" fill="none" stroke="#0a0a0a" stroke-width="1.4"/>
<path d="M1907.1 287.2 L1900.8 296.4 M1931.5 287.2 L1938.8 296.4" stroke="#0a0a0a" stroke-width="4.4" stroke-linecap="round" fill="none"/>
<path d="M1817.6 376.7 Q1813.1 369.7 1807.6 374.2 M1817.6 422.2 Q1813.1 428.7 1807.6 423.7" stroke="#0a0a0a" stroke-width="3.6" stroke-linecap="round" fill="none"/>
<path d="M2021.0 376.7 Q2025.5 369.7 2031.0 374.2 M2021.0 422.2 Q2025.5 428.7 2031.0 423.7" stroke="#0a0a0a" stroke-width="3.6" stroke-linecap="round" fill="none"/>
<clipPath id="t4c"><ellipse cx="2265.3" cy="397.7" rx="100.2" ry="102.8"/></clipPath>
<ellipse cx="2265.3" cy="398.2" rx="111.2" ry="113.3" fill="#e9f0fb"/>
<g clip-path="url(#t4c)">
<rect x="2163.1000000000004" y="292.9" width="204.4" height="209.6" fill="#dee9fa"/>
<path d="M2252.4 405.9 2254.9 405.9 2258.6 406.9 2262.6 409.6 2263.3 410.9 2263.5 413.4 2261.8 415.9 2258.6 417.7 2253.6 418.5 2249.9 417.8 2246.8 415.9 2245.1 413.4 2244.9 410.9 2245.3 409.6 2247.8 407.1 2252.4 405.9Z" fill="#395baf" stroke="#395baf" stroke-width="0.7"/>
<path d="M2246.1 399.6 2251.1 399.7 2257.4 400.6 2270.6 404.6 2273.6 406.2 2276.3 408.4 2277.4 410.9 2277.0 413.4 2275.4 415.9 2272.5 418.4 2268.3 420.9 2261.9 423.4 2252.4 424.9 2247.4 424.4 2243.6 423.1 2238.6 419.6 2235.5 415.9 2233.4 410.9 2233.2 407.1 2234.2 404.6 2236.8 402.1 2241.1 400.4 2246.1 399.6ZM2252.1 405.9 2247.8 407.1 2245.3 409.6 2244.9 410.9 2245.1 413.4 2246.8 415.9 2249.9 417.8 2253.6 418.5 2258.6 417.7 2261.8 415.9 2263.5 413.4 2263.3 410.9 2262.6 409.6 2258.6 406.9 2254.9 405.9 2252.1 405.9Z" fill="#3c5eb2" stroke="#3c5eb2" stroke-width="0.7"/>
<path d="M2229.9 394.5 2237.4 393.8 2246.1 394.1 2266.1 397.9 2282.4 399.8 2286.1 401.3 2288.6 403.5 2290.5 407.1 2290.7 410.9 2288.9 414.7 2284.9 418.4 2278.5 422.1 2272.7 424.6 2264.9 427.3 2256.1 429.2 2249.9 429.6 2243.6 428.8 2237.4 425.9 2231.4 420.9 2225.2 413.4 2221.1 405.9 2220.2 402.1 2220.9 398.4 2224.3 395.9 2229.9 394.5ZM2245.9 399.6 2241.1 400.4 2236.8 402.1 2234.2 404.6 2233.1 408.4 2233.7 412.1 2236.4 417.1 2240.0 420.9 2244.2 423.4 2248.6 424.6 2252.4 424.9 2261.9 423.4 2268.3 420.9 2272.5 418.4 2275.4 415.9 2277.0 413.4 2277.4 410.9 2276.3 408.4 2273.6 406.2 2270.6 404.6 2257.4 400.6 2251.1 399.7 2245.9 399.6Z" fill="#4264b8" stroke="#4264b8" stroke-width="0.7"/>
<path d="M2193.6 378.4 2196.1 377.9 2199.9 378.3 2221.1 385.4 2247.4 389.6 2262.4 393.3 2271.1 393.8 2284.9 392.3 2289.9 393.0 2294.9 395.8 2298.6 400.9 2300.6 407.1 2300.2 412.1 2298.0 415.9 2293.6 419.6 2286.6 423.4 2277.4 427.3 2264.9 431.2 2254.9 433.2 2247.4 433.6 2241.1 432.6 2236.1 430.4 2229.8 425.9 2207.4 405.4 2193.6 394.6 2190.4 389.6 2189.5 384.6 2190.5 380.9 2193.6 378.4ZM2228.8 394.6 2224.3 395.9 2220.9 398.4 2220.2 402.1 2221.6 407.1 2226.1 414.6 2231.4 420.9 2237.4 425.9 2243.6 428.8 2249.9 429.6 2256.1 429.2 2264.9 427.3 2272.7 424.6 2278.5 422.1 2284.9 418.4 2288.9 414.6 2290.7 410.9 2290.5 407.1 2288.6 403.5 2286.1 401.3 2282.4 399.8 2266.1 397.9 2246.1 394.1 2237.4 393.8 2228.8 394.6Z" fill="#4668bc" stroke="#4668bc" stroke-width="0.7"/>
<path d="M2189.9 370.4 2194.9 369.8 2201.1 370.7 2224.9 379.8 2249.9 385.8 2262.4 389.3 2271.1 389.4 2281.1 386.9 2286.1 386.3 2292.4 386.3 2297.4 387.2 2302.3 389.6 2306.1 394.7 2310.4 398.4 2311.4 402.1 2310.9 409.6 2308.1 414.6 2302.4 419.6 2293.6 424.4 2281.1 429.6 2266.1 434.4 2254.9 436.9 2246.1 437.2 2239.3 435.9 2236.1 434.6 2230.0 430.9 2193.6 405.8 2189.9 402.7 2187.1 399.7 2184.7 395.9 2182.9 390.9 2182.2 385.9 2182.3 380.9 2183.1 377.1 2184.3 374.6 2186.7 372.1 2189.9 370.4ZM2193.5 378.4 2190.5 380.9 2189.5 384.6 2190.4 389.6 2193.6 394.6 2207.4 405.4 2229.8 425.9 2236.1 430.4 2241.1 432.6 2247.4 433.6 2254.9 433.2 2264.9 431.2 2277.4 427.3 2286.6 423.4 2293.6 419.6 2298.0 415.9 2300.2 412.1 2300.6 407.1 2298.6 400.9 2294.9 395.8 2289.9 393.0 2284.9 392.3 2271.1 393.8 2262.4 393.3 2247.4 389.6 2221.1 385.4 2199.9 378.3 2196.1 377.9 2193.5 378.4Z" fill="#4f70c3" stroke="#4f70c3" stroke-width="0.7"/>
<path d="M2191.1 364.5 2197.4 364.6 2203.4 365.9 2231.1 376.7 2258.6 384.2 2263.6 385.1 2269.9 385.0 2282.4 382.3 2289.9 381.4 2309.9 381.3 2322.4 379.8 2327.4 380.2 2329.9 381.3 2332.4 383.4 2335.2 388.4 2336.8 395.9 2336.1 403.1 2333.4 408.4 2330.9 410.9 2327.4 413.2 2314.9 418.0 2298.0 425.9 2282.5 432.1 2267.4 437.4 2256.1 440.1 2248.6 440.8 2241.1 439.7 2231.9 435.9 2196.4 415.9 2188.6 410.5 2183.4 404.6 2180.0 398.4 2178.3 392.1 2177.8 384.6 2178.4 377.2 2180.0 372.1 2182.6 368.4 2186.1 365.9 2191.1 364.5ZM2188.6 370.9 2186.1 372.6 2183.6 375.8 2182.2 382.1 2182.3 387.1 2183.2 392.1 2184.9 396.3 2187.1 399.6 2189.9 402.7 2193.6 405.8 2230.0 430.9 2236.1 434.6 2239.3 435.9 2246.1 437.2 2254.9 436.9 2266.1 434.4 2281.1 429.6 2293.6 424.4 2302.4 419.6 2308.1 414.6 2310.9 409.7 2311.4 402.1 2310.4 398.4 2306.1 394.7 2302.3 389.6 2297.4 387.2 2292.4 386.3 2286.1 386.3 2281.1 386.9 2271.1 389.4 2262.4 389.3 2249.9 385.8 2224.9 379.8 2201.1 370.7 2193.6 369.8 2188.6 370.9Z" fill="#5b7bca" stroke="#5b7bca" stroke-width="0.7"/>
<path d="M2186.1 360.8 2193.6 359.9 2202.4 361.1 2209.5 363.4 2226.1 370.4 2236.1 373.9 2256.1 379.4 2263.6 380.7 2271.1 380.4 2303.6 375.6 2311.1 374.0 2326.1 369.4 2329.9 368.8 2333.6 369.2 2337.1 370.9 2339.6 373.4 2341.7 377.1 2343.0 380.9 2344.1 385.9 2344.7 392.1 2344.4 398.4 2343.4 403.4 2341.4 408.4 2338.6 412.3 2334.1 415.9 2328.6 418.7 2311.1 424.0 2273.6 438.3 2262.4 442.1 2251.1 444.0 2246.1 443.7 2241.1 442.7 2230.5 438.4 2209.8 428.4 2193.2 419.6 2186.1 414.6 2180.6 408.4 2177.2 402.1 2174.9 394.9 2174.1 387.1 2174.5 378.4 2176.0 370.9 2178.3 365.9 2181.1 363.0 2186.1 360.8ZM2190.2 364.6 2186.1 365.9 2182.4 368.6 2179.9 372.5 2178.2 378.4 2177.8 385.9 2178.5 393.4 2180.6 399.6 2183.6 404.9 2188.6 410.5 2196.4 415.9 2231.9 435.9 2241.1 439.7 2248.6 440.8 2256.1 440.1 2267.4 437.4 2282.5 432.1 2298.0 425.9 2314.9 418.0 2327.4 413.2 2330.9 410.9 2333.4 408.4 2336.1 403.1 2336.8 395.9 2335.2 388.4 2332.4 383.4 2329.9 381.3 2327.4 380.2 2322.4 379.8 2309.9 381.3 2289.9 381.4 2282.4 382.3 2269.9 385.0 2263.6 385.1 2258.6 384.2 2231.1 376.7 2203.4 365.9 2196.1 364.5 2190.2 364.6Z" fill="#6181ce" stroke="#6181ce" stroke-width="0.7"/>
<path d="M2183.6 357.1 2192.4 356.0 2202.4 357.2 2209.9 359.5 2228.6 367.3 2239.9 371.2 2256.1 375.4 2264.9 376.5 2276.1 375.5 2301.1 371.5 2311.1 368.6 2330.7 360.9 2336.1 360.2 2339.9 360.8 2343.6 363.0 2346.1 365.9 2348.4 370.9 2349.9 375.9 2350.9 382.1 2351.1 388.4 2350.5 395.9 2349.3 402.1 2346.2 409.6 2342.4 414.6 2337.3 418.4 2331.1 421.7 2302.4 430.1 2262.4 445.2 2252.4 447.0 2247.4 446.8 2242.4 445.9 2236.1 443.7 2209.6 432.1 2194.8 424.6 2186.1 419.3 2181.2 414.6 2178.2 410.9 2173.6 402.5 2171.5 395.9 2170.8 388.4 2171.2 377.1 2173.1 365.9 2174.7 362.1 2177.4 359.6 2183.6 357.1ZM2185.7 360.9 2181.1 363.0 2178.3 365.9 2176.0 370.9 2174.5 378.4 2174.1 387.1 2174.9 394.9 2177.2 402.1 2180.6 408.4 2186.1 414.6 2193.2 419.6 2209.8 428.4 2230.5 438.4 2241.1 442.7 2246.1 443.7 2251.1 444.0 2262.4 442.1 2273.6 438.3 2311.1 424.0 2328.6 418.7 2334.1 415.9 2338.6 412.3 2341.4 408.4 2343.4 403.4 2344.4 398.4 2344.7 392.1 2344.1 385.9 2343.0 380.9 2341.7 377.1 2339.6 373.4 2337.1 370.9 2333.6 369.2 2329.9 368.8 2326.1 369.4 2311.1 374.0 2303.6 375.6 2271.1 380.4 2263.6 380.7 2256.1 379.4 2236.1 373.9 2226.1 370.4 2209.5 363.4 2202.4 361.1 2193.6 359.9 2185.7 360.9Z" fill="#6888d1" stroke="#6888d1" stroke-width="0.7"/>
<path d="M2182.3 353.4 2192.4 352.3 2201.1 353.3 2209.9 355.9 2228.6 363.6 2239.9 367.4 2254.9 371.3 2264.9 372.5 2283.6 370.8 2299.9 367.7 2312.4 363.8 2332.4 354.5 2338.6 353.4 2343.6 353.9 2348.6 355.9 2351.3 358.4 2353.6 362.3 2355.9 369.6 2357.2 375.9 2357.6 382.1 2356.7 390.9 2355.3 398.4 2352.1 407.1 2347.1 414.6 2343.1 418.4 2333.6 423.7 2297.4 434.6 2271.1 445.4 2262.4 448.3 2252.4 449.9 2242.4 448.6 2208.2 434.6 2193.3 427.1 2183.7 420.9 2177.6 414.6 2175.0 410.9 2170.3 402.1 2167.9 393.4 2167.7 378.4 2168.9 363.4 2170.1 359.6 2172.4 357.3 2176.1 355.3 2182.3 353.4ZM2183.3 357.1 2177.4 359.6 2174.7 362.1 2173.1 365.9 2171.2 377.2 2170.8 388.4 2171.5 395.9 2173.6 402.5 2178.2 410.9 2181.2 414.6 2186.1 419.3 2194.8 424.6 2209.6 432.1 2236.1 443.7 2242.4 445.9 2247.4 446.8 2252.4 447.0 2262.4 445.2 2302.4 430.1 2331.1 421.7 2337.3 418.4 2342.4 414.6 2346.2 409.6 2349.3 402.1 2350.5 395.9 2351.1 388.4 2350.9 382.1 2349.9 375.9 2348.4 370.9 2346.1 365.9 2343.6 363.0 2339.9 360.8 2336.1 360.2 2330.7 360.9 2311.1 368.6 2301.1 371.5 2276.1 375.5 2264.9 376.5 2256.1 375.4 2239.9 371.2 2228.6 367.3 2209.9 359.5 2202.4 357.2 2192.4 356.0 2183.3 357.1Z" fill="#7696d8" stroke="#7696d8" stroke-width="0.7"/>
<path d="M2337.3 348.3 2342.4 347.8 2346.1 348.0 2349.9 349.0 2353.9 350.9 2357.0 353.4 2359.1 355.9 2361.2 359.6 2363.0 364.6 2364.5 375.9 2363.4 387.1 2359.5 400.9 2356.6 407.1 2353.4 412.1 2350.2 415.9 2345.9 419.6 2334.3 425.9 2297.4 437.3 2272.4 447.9 2263.6 450.9 2257.4 452.3 2252.4 452.7 2247.4 452.2 2241.1 450.7 2207.4 436.9 2192.4 429.5 2183.6 423.9 2175.7 415.9 2169.2 405.9 2165.6 397.1 2164.5 390.9 2164.0 380.9 2164.4 365.9 2165.0 360.9 2166.7 357.1 2168.6 354.9 2172.4 352.5 2176.1 351.1 2188.6 349.1 2194.9 349.0 2199.9 349.7 2208.6 352.2 2228.6 360.2 2239.9 363.9 2256.1 367.8 2266.1 368.7 2283.6 367.0 2304.9 362.7 2314.9 358.9 2331.1 350.4 2337.3 348.3ZM2182.3 353.4 2176.1 355.3 2172.4 357.3 2170.1 359.6 2168.9 363.4 2167.7 378.4 2167.9 393.4 2170.3 402.1 2175.0 410.9 2177.6 414.6 2183.7 420.9 2193.3 427.1 2208.2 434.6 2242.4 448.6 2252.4 449.9 2262.4 448.3 2271.1 445.4 2297.4 434.6 2333.6 423.7 2343.1 418.4 2347.1 414.6 2352.1 407.1 2355.3 398.4 2356.7 390.9 2357.6 382.1 2357.2 375.9 2355.9 369.6 2353.6 362.3 2351.3 358.4 2348.6 355.9 2343.6 353.9 2338.6 353.4 2332.4 354.5 2312.4 363.8 2299.9 367.7 2283.6 370.8 2264.9 372.5 2254.9 371.3 2239.9 367.4 2228.6 363.6 2209.9 355.9 2201.1 353.3 2192.4 352.3 2182.3 353.4Z" fill="#8babe2" stroke="#8babe2" stroke-width="0.7"/>
<path d="M2338.6 343.2 2343.6 342.6 2348.6 342.7 2353.6 343.8 2357.4 345.2 2361.1 347.4 2364.9 350.9 2367.7 354.6 2369.9 359.1 2369.9 387.1 2365.7 398.4 2360.3 408.4 2356.7 413.4 2351.8 418.4 2346.6 422.1 2339.5 425.9 2331.1 429.4 2296.1 440.6 2276.1 449.5 2266.1 453.2 2254.9 455.3 2249.9 455.2 2243.6 453.9 2236.1 451.3 2211.1 441.0 2191.1 431.5 2182.4 425.7 2174.0 417.1 2166.5 405.9 2162.6 397.1 2161.1 390.0 2161.1 359.8 2162.8 355.9 2165.8 352.1 2169.5 349.6 2173.6 348.0 2179.9 346.7 2188.6 345.8 2198.6 346.0 2206.1 348.0 2226.1 356.0 2239.9 360.4 2256.1 364.0 2267.4 364.9 2283.6 363.1 2306.1 358.9 2314.9 355.5 2331.1 346.1 2338.6 343.2ZM2336.8 348.4 2329.9 350.9 2313.6 359.5 2304.9 362.7 2283.6 367.0 2266.1 368.7 2256.1 367.8 2239.9 363.9 2228.6 360.2 2208.6 352.2 2199.9 349.7 2194.9 349.0 2188.6 349.1 2176.1 351.1 2172.4 352.5 2168.6 354.9 2166.7 357.1 2165.0 360.9 2164.4 365.9 2164.0 380.9 2164.5 390.9 2165.6 397.1 2169.2 405.9 2175.7 415.9 2183.6 423.9 2192.4 429.5 2207.4 436.9 2241.1 450.7 2247.4 452.2 2252.4 452.7 2257.4 452.3 2263.6 450.9 2272.4 447.9 2297.4 437.3 2334.3 425.9 2345.9 419.6 2350.2 415.9 2353.4 412.1 2356.6 407.1 2359.5 400.9 2363.4 387.1 2364.5 375.9 2363.0 364.6 2361.2 359.6 2359.1 355.9 2357.0 353.4 2353.9 350.9 2349.9 349.0 2346.1 348.0 2341.1 347.8 2336.8 348.4Z" fill="#96b4e8" stroke="#96b4e8" stroke-width="0.7"/>
<path d="M2339.9 338.3 2347.4 337.5 2354.9 338.0 2361.1 339.8 2367.4 343.1 2369.9 345.0 2369.9 359.1 2366.0 352.1 2360.7 347.1 2353.6 343.8 2344.9 342.5 2338.6 343.2 2333.6 344.9 2316.1 354.9 2306.1 358.9 2296.1 361.1 2271.2 364.6 2259.9 364.6 2242.4 361.0 2227.4 356.4 2204.9 347.6 2199.9 346.2 2194.9 345.6 2179.9 346.7 2171.1 348.9 2167.4 350.9 2164.6 353.4 2162.8 355.9 2161.1 359.8 2161.1 351.4 2162.7 349.6 2166.1 347.2 2169.9 345.4 2178.6 343.4 2193.6 342.1 2199.9 342.7 2206.1 344.5 2226.1 352.7 2237.4 356.1 2257.4 360.3 2267.4 361.1 2299.9 357.0 2307.4 355.3 2317.4 350.9 2333.6 340.4 2339.9 338.3ZM2369.9 387.1 2369.9 401.3 2365.2 408.4 2360.2 414.6 2356.4 418.4 2351.1 422.3 2344.7 425.9 2336.1 429.8 2296.2 443.4 2273.6 453.6 2264.9 456.6 2256.1 458.0 2247.4 457.4 2237.4 454.2 2209.9 442.9 2188.6 432.7 2179.9 426.3 2173.6 419.8 2165.3 408.4 2161.1 401.0 2161.1 390.0 2162.3 395.9 2164.5 402.1 2172.1 414.6 2181.1 424.6 2189.9 430.8 2206.1 438.8 2237.4 451.8 2247.4 454.8 2254.9 455.3 2262.4 454.2 2269.9 451.9 2294.9 441.0 2332.4 428.9 2346.1 422.5 2353.2 417.1 2359.5 409.6 2365.7 398.4 2369.9 387.1Z" fill="#a1bdec" stroke="#a1bdec" stroke-width="0.7"/>
<path d="M2341.1 333.4 2348.6 332.3 2354.9 332.3 2361.1 333.2 2367.4 335.1 2369.9 336.3 2369.9 345.0 2363.7 340.9 2356.8 338.4 2349.9 337.5 2341.1 338.0 2333.6 340.4 2317.4 350.9 2307.4 355.3 2299.9 357.0 2269.9 360.9 2264.9 361.1 2258.6 360.5 2239.9 356.7 2226.1 352.7 2204.9 344.0 2196.1 342.1 2179.9 343.3 2172.4 344.5 2166.1 347.2 2161.1 351.4 2161.1 345.8 2168.6 341.7 2176.1 340.0 2196.1 338.4 2204.9 340.2 2227.4 349.4 2239.9 352.8 2259.9 356.5 2268.6 356.8 2286.1 354.4 2302.4 353.3 2308.6 351.8 2317.4 347.6 2333.6 335.7 2341.1 333.4ZM2161.6 402.1 2167.8 412.1 2173.5 419.6 2179.9 426.3 2187.4 432.0 2203.6 440.1 2236.1 453.7 2246.1 457.1 2253.6 458.1 2261.1 457.4 2269.9 455.0 2279.9 451.1 2296.2 443.4 2333.6 430.7 2343.6 426.4 2351.3 422.1 2357.8 417.1 2364.2 409.6 2369.9 401.3 2369.9 409.4 2362.7 417.1 2358.5 420.9 2351.1 425.5 2342.4 429.7 2297.4 445.9 2281.1 453.8 2269.9 458.2 2261.1 460.5 2253.6 460.9 2246.1 459.7 2234.9 455.7 2201.1 441.5 2186.1 433.9 2177.4 426.9 2168.7 417.1 2161.1 406.4 2161.1 401.0 2161.6 402.1Z" fill="#b3ccf2" stroke="#b3ccf2" stroke-width="0.7"/>
<path d="M2348.6 327.1 2359.9 326.9 2369.9 328.9 2369.9 336.3 2363.6 333.8 2356.1 332.4 2348.6 332.3 2339.9 333.6 2336.1 334.7 2332.4 336.5 2317.4 347.6 2308.6 351.8 2302.4 353.3 2286.1 354.4 2268.6 356.8 2259.9 356.5 2239.9 352.8 2227.4 349.4 2204.9 340.2 2197.4 338.5 2192.4 338.5 2173.6 340.4 2167.4 342.2 2161.1 345.8 2161.1 340.9 2167.4 338.0 2176.1 336.1 2196.1 334.5 2204.9 336.0 2218.6 341.3 2237.6 347.2 2258.6 351.6 2267.4 352.1 2286.1 349.9 2302.4 349.9 2308.6 348.6 2314.9 345.8 2328.6 334.5 2333.6 331.2 2339.9 328.9 2348.6 327.1ZM2161.5 407.1 2168.7 417.1 2175.1 424.6 2181.1 430.2 2187.4 434.7 2201.1 441.5 2234.9 455.7 2246.1 459.7 2253.6 460.9 2261.1 460.5 2269.9 458.2 2281.1 453.8 2297.4 445.9 2342.4 429.7 2351.1 425.5 2358.5 420.9 2362.7 417.1 2369.9 409.4 2369.9 415.8 2364.2 420.9 2359.0 424.6 2344.9 431.6 2298.6 448.4 2282.4 456.6 2271.1 461.2 2262.4 463.6 2254.9 464.0 2246.1 462.4 2234.9 458.2 2199.9 443.8 2186.1 436.9 2177.0 429.6 2167.4 419.1 2161.1 410.9 2161.1 406.4 2161.5 407.1Z" fill="#d1e0f8" stroke="#d1e0f8" stroke-width="0.7"/>
<path d="M2348.6 322.0 2359.9 321.2 2369.9 322.2 2369.9 328.9 2362.4 327.2 2354.9 326.7 2347.4 327.3 2338.6 329.2 2331.1 332.7 2318.3 343.4 2313.6 346.5 2308.6 348.6 2302.4 349.9 2286.1 349.9 2267.4 352.1 2258.6 351.6 2244.9 349.0 2233.0 345.9 2218.6 341.3 2206.1 336.4 2197.4 334.6 2192.4 334.6 2173.6 336.5 2167.4 338.0 2161.1 340.9 2161.1 336.1 2167.4 333.7 2177.4 331.9 2196.1 330.3 2202.4 331.1 2216.1 334.5 2229.9 336.8 2247.3 343.4 2258.6 346.0 2267.4 346.6 2286.1 345.0 2299.9 346.3 2304.9 346.2 2309.9 345.0 2314.9 342.3 2327.4 330.8 2333.6 326.5 2339.9 324.0 2348.6 322.0ZM2161.1 410.9 2167.4 419.1 2174.9 427.5 2181.3 433.4 2187.4 437.6 2201.1 444.3 2236.1 458.7 2247.4 462.7 2254.9 464.0 2262.4 463.6 2271.1 461.2 2282.4 456.6 2298.6 448.4 2344.9 431.6 2359.0 424.6 2364.2 420.9 2369.9 415.8 2369.9 421.5 2361.1 427.7 2349.9 433.1 2302.4 450.0 2279.9 461.3 2271.1 465.0 2263.6 467.1 2257.4 467.5 2249.9 466.3 2242.4 463.8 2219.9 454.3 2199.9 446.7 2186.1 440.0 2177.4 433.3 2165.8 420.9 2161.1 415.1 2161.1 410.9Z" fill="#ebf1fc" stroke="#ebf1fc" stroke-width="0.7"/>
<path d="M2356.1 315.9 2369.9 315.9 2369.9 322.2 2362.4 321.3 2353.6 321.4 2344.9 322.7 2337.4 324.8 2332.4 327.2 2328.6 329.8 2317.4 340.4 2313.6 343.2 2309.9 345.0 2304.9 346.2 2299.9 346.3 2286.1 345.0 2267.4 346.6 2258.6 346.0 2247.3 343.4 2229.9 336.8 2217.4 334.8 2203.6 331.3 2197.4 330.4 2191.1 330.4 2173.6 332.4 2167.4 333.7 2161.1 336.1 2161.1 331.4 2167.4 329.3 2176.1 327.7 2196.1 325.9 2216.1 328.8 2231.1 326.6 2234.5 327.1 2237.3 328.4 2249.9 336.4 2258.6 339.3 2267.4 340.1 2286.1 339.2 2291.1 339.9 2301.1 342.3 2306.1 342.5 2309.9 341.5 2313.6 339.4 2324.9 328.1 2332.6 322.1 2337.4 320.0 2343.6 318.1 2356.1 315.9ZM2161.7 415.9 2170.2 425.9 2177.4 433.3 2182.4 437.5 2188.6 441.4 2199.9 446.7 2219.9 454.3 2243.6 464.3 2251.1 466.6 2257.4 467.5 2263.6 467.1 2271.1 465.0 2279.9 461.3 2302.4 450.0 2349.9 433.1 2361.1 427.7 2369.9 421.5 2369.9 426.9 2361.1 432.1 2351.1 436.6 2312.4 449.2 2302.4 453.1 2271.1 469.2 2264.9 471.0 2259.9 471.4 2253.6 470.5 2246.1 468.1 2219.9 456.7 2198.6 449.3 2187.4 444.0 2178.6 438.0 2168.0 427.1 2161.1 419.4 2161.1 415.1 2161.7 415.9Z" fill="#fbfcfe" stroke="#fbfcfe" stroke-width="0.7"/>
<path d="M2354.8 310.8 2369.9 309.8 2369.9 315.9 2361.1 315.6 2352.4 316.3 2343.6 318.1 2336.1 320.5 2331.1 323.1 2327.4 325.9 2313.3 339.6 2309.9 341.5 2306.1 342.5 2301.1 342.3 2291.1 339.9 2286.1 339.2 2267.4 340.1 2258.6 339.3 2248.7 335.9 2237.3 328.4 2232.4 326.7 2216.1 328.8 2211.1 328.4 2199.9 326.2 2191.1 326.1 2172.4 328.2 2161.1 331.4 2161.1 326.7 2167.4 324.8 2174.9 323.4 2196.1 321.5 2201.1 321.9 2211.1 323.7 2214.9 323.8 2232.4 320.8 2239.9 322.3 2251.1 327.9 2261.1 331.4 2271.1 332.7 2287.4 333.0 2294.9 334.9 2302.4 338.0 2306.1 338.4 2308.6 338.0 2311.1 336.7 2322.9 324.6 2331.1 318.2 2342.4 313.6 2354.8 310.8ZM2161.3 419.6 2170.3 429.6 2178.6 438.0 2183.6 441.8 2189.9 445.4 2201.1 450.3 2219.9 456.7 2247.4 468.5 2253.6 470.5 2259.9 471.4 2264.9 471.0 2271.1 469.2 2302.4 453.1 2312.4 449.2 2351.1 436.6 2361.1 432.1 2369.9 426.9 2369.9 432.1 2361.1 436.7 2352.4 440.4 2339.9 444.6 2314.9 451.6 2306.5 454.6 2295.9 459.6 2272.4 473.5 2267.4 475.5 2262.4 476.1 2257.4 475.3 2252.4 473.6 2219.9 459.0 2199.9 452.9 2187.4 447.4 2177.6 440.9 2166.7 429.6 2161.1 423.6 2161.3 419.6Z" fill="#fef0ee" stroke="#fef0ee" stroke-width="0.7"/>
<path d="M2361.1 304.6 2369.9 303.8 2369.9 309.8 2361.1 310.1 2351.1 311.5 2342.4 313.6 2333.6 316.9 2329.9 318.9 2325.6 322.1 2311.1 336.7 2308.6 338.0 2306.2 338.4 2302.4 338.0 2294.9 334.9 2287.4 333.0 2271.1 332.7 2261.1 331.4 2251.1 327.9 2239.9 322.3 2232.4 320.8 2213.6 323.8 2198.6 321.6 2187.4 321.9 2172.4 323.8 2161.1 326.7 2161.1 322.0 2168.6 320.0 2177.4 318.5 2196.1 317.4 2214.9 319.3 2232.4 317.5 2259.9 319.6 2274.3 324.6 2289.9 327.7 2302.4 331.8 2306.1 332.2 2309.9 330.7 2324.9 317.8 2332.4 313.0 2346.1 307.8 2361.1 304.6ZM2162.1 424.6 2177.4 440.6 2182.4 444.4 2188.6 448.1 2201.1 453.4 2219.9 459.0 2252.4 473.6 2257.4 475.3 2262.4 476.1 2266.1 475.8 2271.1 474.1 2297.4 458.9 2311.1 452.9 2339.9 444.6 2352.4 440.4 2361.1 436.7 2369.9 432.1 2369.9 437.2 2353.6 444.2 2316.1 454.6 2306.0 458.4 2291.7 465.9 2269.9 481.3 2267.4 482.4 2264.9 482.7 2258.6 480.6 2234.9 468.2 2221.1 461.8 2213.6 459.3 2198.6 455.4 2185.3 449.6 2179.9 446.2 2174.9 442.2 2161.6 428.4 2161.1 427.8 2161.1 423.6 2162.1 424.6Z" fill="#fcdfdb" stroke="#fcdfdb" stroke-width="0.7"/>
<path d="M2366.1 298.3 2369.9 297.9 2369.9 303.8 2359.9 304.8 2351.1 306.4 2342.4 308.9 2334.9 311.8 2326.1 316.8 2309.9 330.7 2306.1 332.2 2302.4 331.8 2289.9 327.7 2274.3 324.6 2259.9 319.6 2234.9 317.7 2229.9 317.6 2213.6 319.3 2198.6 317.5 2188.6 317.5 2172.4 319.3 2161.1 322.0 2161.1 317.2 2168.6 315.4 2177.4 314.1 2192.4 313.3 2214.9 315.3 2239.9 314.7 2246.1 314.0 2257.4 311.0 2261.1 310.6 2264.9 311.6 2274.9 317.2 2281.1 319.8 2298.6 324.1 2304.9 324.8 2307.4 324.3 2311.1 322.6 2327.4 311.4 2337.4 306.2 2351.1 301.4 2366.1 298.3ZM2161.6 428.4 2176.1 443.3 2181.1 447.1 2187.4 450.7 2198.6 455.4 2213.6 459.3 2221.1 461.8 2234.9 468.2 2258.6 480.6 2264.9 482.7 2267.4 482.4 2269.9 481.3 2293.6 464.7 2301.1 460.6 2309.9 456.8 2317.4 454.3 2352.4 444.6 2361.1 441.3 2369.9 437.2 2369.9 442.2 2353.3 448.4 2316.1 458.3 2302.4 463.8 2294.9 467.9 2287.1 473.4 2280.0 479.6 2271.1 489.3 2268.6 491.1 2266.1 491.7 2263.6 490.8 2254.9 483.4 2247.8 478.4 2237.6 472.1 2228.6 467.4 2217.4 462.7 2194.9 457.1 2188.6 454.6 2182.4 451.3 2173.2 444.6 2161.1 432.2 2161.1 427.8 2161.6 428.4Z" fill="#fbd1cd" stroke="#fbd1cd" stroke-width="0.7"/>
<path d="M2368.6 292.1 2369.9 291.9 2369.9 297.9 2353.6 300.7 2338.6 305.6 2327.4 311.4 2311.1 322.6 2307.4 324.3 2304.9 324.8 2298.6 324.1 2281.1 319.8 2274.9 317.2 2264.9 311.6 2261.1 310.6 2257.4 311.0 2247.4 313.8 2241.1 314.7 2214.9 315.3 2198.6 313.5 2188.6 313.3 2173.6 314.5 2161.1 317.2 2161.1 312.3 2173.6 310.0 2192.4 309.2 2216.1 311.6 2236.1 312.0 2243.6 310.7 2255.9 305.9 2261.1 305.0 2266.1 306.0 2277.4 312.3 2284.9 315.2 2297.4 317.8 2304.9 318.0 2308.6 317.2 2313.6 315.2 2329.9 305.2 2341.1 299.8 2354.9 295.1 2368.6 292.1ZM2162.2 433.4 2173.6 445.0 2183.8 452.1 2195.0 457.1 2217.4 462.7 2228.6 467.4 2237.6 472.1 2247.8 478.4 2254.9 483.4 2263.6 490.8 2266.1 491.7 2268.6 491.1 2271.1 489.3 2280.0 479.6 2288.7 472.1 2297.4 466.4 2306.1 462.1 2319.9 457.2 2354.9 447.9 2369.9 442.2 2369.9 447.2 2354.9 452.1 2320.0 460.9 2302.4 467.8 2294.9 472.2 2287.3 478.4 2282.6 483.4 2275.1 493.4 2272.5 495.9 2269.9 497.4 2266.1 498.0 2263.6 497.4 2261.1 495.8 2253.6 487.1 2246.5 480.9 2237.5 474.6 2229.9 470.3 2222.4 466.7 2217.4 465.0 2198.6 461.1 2192.4 459.2 2186.1 456.7 2179.9 453.3 2171.6 447.1 2161.1 436.7 2161.1 432.2 2162.2 433.4Z" fill="#fac1bc" stroke="#fac1bc" stroke-width="0.7"/>
<path d="M2348.6 291.8 2351.2 290.9 2369.9 290.9 2369.9 291.9 2356.1 294.8 2342.4 299.3 2329.9 305.2 2313.6 315.2 2308.6 317.2 2304.9 318.0 2296.1 317.6 2283.6 314.8 2277.4 312.3 2266.1 306.0 2262.4 305.0 2256.1 305.9 2244.9 310.3 2236.1 312.0 2216.1 311.6 2198.6 309.6 2188.6 309.1 2173.6 310.0 2161.1 312.3 2161.1 307.5 2172.4 305.6 2182.4 305.0 2192.4 305.1 2219.9 308.4 2234.9 309.2 2242.4 307.4 2254.9 302.3 2262.4 301.6 2266.1 302.2 2281.1 308.8 2286.1 310.3 2296.1 311.9 2304.9 311.8 2309.9 311.0 2314.9 309.3 2332.4 298.9 2348.6 291.8ZM2161.5 437.1 2173.6 448.8 2184.9 456.1 2196.1 460.4 2213.6 464.0 2219.9 465.8 2234.9 473.1 2243.1 478.4 2249.6 483.4 2254.9 488.4 2261.2 495.9 2263.6 497.4 2266.1 498.0 2269.9 497.4 2272.5 495.9 2275.1 493.4 2282.6 483.4 2288.6 477.1 2296.8 470.9 2306.1 466.1 2321.1 460.6 2354.9 452.1 2369.9 447.2 2369.9 452.1 2356.1 456.1 2324.7 463.4 2313.6 467.2 2303.6 471.5 2297.4 475.2 2290.7 480.9 2285.3 487.1 2278.6 496.9 2276.1 499.7 2271.1 502.5 2266.1 503.0 2262.4 502.1 2259.9 500.7 2257.7 498.4 2252.6 490.9 2246.7 484.6 2237.4 477.2 2229.0 472.1 2222.4 468.9 2217.4 467.2 2198.6 463.8 2191.1 461.8 2183.6 458.7 2177.4 455.2 2169.8 449.7 2161.1 441.4 2161.1 436.7 2161.5 437.1Z" fill="#f8b0a9" stroke="#f8b0a9" stroke-width="0.7"/>
<path d="M2336.1 291.9 2338.1 290.9 2351.2 290.9 2333.6 298.3 2314.9 309.3 2309.8 311.0 2303.6 312.0 2294.9 311.8 2284.9 310.0 2279.9 308.3 2267.4 302.7 2262.4 301.6 2254.9 302.3 2242.4 307.4 2234.9 309.2 2219.9 308.4 2198.6 305.6 2188.6 305.0 2173.6 305.5 2161.1 307.5 2161.1 302.6 2172.4 301.0 2182.4 300.6 2192.4 301.0 2221.1 304.9 2233.6 305.7 2239.9 304.5 2252.4 299.8 2258.6 299.0 2268.6 300.1 2282.4 304.4 2288.6 305.8 2296.1 306.5 2303.6 306.3 2309.9 305.3 2314.9 303.5 2336.1 291.9ZM2161.9 442.1 2173.0 452.1 2178.6 456.0 2184.9 459.3 2196.1 463.2 2218.6 467.6 2224.0 469.6 2232.4 474.0 2239.0 478.4 2246.7 484.6 2252.6 490.9 2257.7 498.4 2259.9 500.7 2262.4 502.1 2266.1 503.0 2271.1 502.5 2276.1 499.7 2278.6 496.9 2286.3 485.9 2292.0 479.7 2298.6 474.3 2307.4 469.8 2324.9 463.4 2356.1 456.1 2369.9 452.1 2369.9 457.0 2328.6 466.3 2312.1 472.1 2302.4 477.1 2296.1 482.0 2290.4 488.4 2281.5 500.9 2277.4 504.6 2259.0 504.6 2255.2 500.9 2250.5 493.4 2245.4 487.1 2240.1 482.1 2233.4 477.1 2224.9 472.3 2218.6 469.9 2194.9 465.7 2187.4 463.5 2181.4 460.9 2171.2 454.6 2161.1 446.0 2161.1 441.4 2161.9 442.1Z" fill="#f39487" stroke="#f39487" stroke-width="0.7"/>
<path d="M2326.1 291.7 2327.5 290.9 2338.1 290.9 2313.6 304.1 2308.6 305.6 2302.4 306.4 2294.9 306.4 2287.4 305.5 2268.6 300.1 2259.9 299.0 2252.4 299.8 2239.9 304.5 2233.6 305.7 2222.4 305.0 2199.9 301.7 2188.6 300.7 2174.9 300.8 2161.1 302.6 2161.1 297.7 2169.9 296.6 2178.6 296.2 2194.9 297.0 2228.6 301.8 2236.1 301.4 2249.9 297.2 2256.1 296.3 2271.1 297.6 2288.6 300.8 2299.9 301.1 2306.1 300.4 2312.4 298.6 2326.1 291.7ZM2162.3 447.1 2173.6 456.4 2184.9 462.5 2196.1 466.0 2212.4 468.4 2218.6 469.9 2223.6 471.8 2231.1 475.7 2237.4 479.9 2244.2 485.9 2249.6 492.1 2256.1 502.0 2259.0 504.6 2254.1 504.7 2246.9 493.4 2242.0 487.1 2236.6 482.1 2229.9 477.4 2223.6 474.1 2217.4 471.9 2194.2 468.4 2187.4 466.5 2181.1 464.1 2171.1 458.4 2161.1 450.6 2161.1 446.0 2162.3 447.1ZM2369.9 457.0 2369.9 462.1 2329.9 470.2 2321.1 472.9 2311.6 477.1 2304.9 481.2 2299.3 485.9 2294.9 490.9 2284.6 504.6 2277.4 504.6 2282.4 499.9 2289.4 489.6 2294.7 483.4 2300.4 478.4 2306.1 474.9 2317.4 470.0 2327.4 466.7 2369.9 457.0Z" fill="#ef7e71" stroke="#ef7e71" stroke-width="0.7"/>
<path d="M2166.1 292.1 2177.4 291.5 2189.9 292.1 2221.1 297.0 2229.9 297.7 2236.1 297.2 2248.6 294.2 2254.9 293.5 2287.4 296.0 2297.4 296.0 2307.4 294.3 2316.4 290.9 2327.5 290.9 2313.6 298.1 2308.6 299.8 2302.4 300.9 2289.9 301.0 2271.1 297.6 2256.1 296.3 2249.9 297.2 2237.4 301.2 2231.1 301.9 2222.4 301.2 2199.9 297.6 2187.4 296.4 2173.6 296.3 2161.1 297.7 2161.1 292.7 2166.1 292.1ZM2161.5 450.9 2173.0 459.6 2184.9 465.6 2196.1 468.8 2217.4 471.9 2222.4 473.6 2229.4 477.1 2236.1 481.8 2242.0 487.1 2246.9 493.4 2254.1 504.7 2250.2 504.6 2244.3 494.6 2239.7 488.4 2234.5 483.4 2228.6 479.3 2222.4 476.1 2217.4 474.4 2193.6 471.1 2181.1 467.3 2171.1 462.2 2161.1 455.0 2161.1 450.6 2161.5 450.9ZM2369.9 462.1 2369.9 467.3 2332.4 474.0 2325.6 475.9 2318.6 478.9 2310.7 483.4 2304.4 488.4 2299.9 493.4 2291.3 504.6 2284.6 504.6 2294.9 490.9 2299.3 485.9 2304.9 481.2 2311.6 477.1 2321.1 472.9 2329.9 470.2 2369.9 462.1Z" fill="#ed7067" stroke="#ed7067" stroke-width="0.7"/>
<path d="M2162.4 290.9 2211.1 290.9 2222.4 292.7 2229.9 293.2 2236.1 292.8 2247.0 290.9 2286.1 291.3 2316.4 290.9 2307.4 294.3 2297.4 296.0 2287.4 296.0 2254.9 293.5 2248.6 294.2 2236.1 297.2 2229.9 297.7 2221.1 297.0 2199.9 293.4 2187.4 291.9 2173.6 291.6 2161.1 292.7 2161.1 290.9 2162.4 290.9ZM2162.2 455.9 2173.6 463.6 2184.9 468.7 2196.1 471.6 2216.1 474.0 2221.1 475.6 2227.4 478.6 2233.6 482.7 2239.7 488.4 2244.3 494.6 2250.2 504.6 2246.6 504.7 2241.1 494.9 2237.4 489.6 2232.2 484.6 2226.6 480.9 2221.1 478.2 2216.1 476.7 2193.6 474.0 2181.1 470.6 2171.1 465.9 2161.1 459.3 2161.1 455.0 2162.2 455.9ZM2364.9 468.3 2369.9 467.3 2369.9 472.7 2338.6 477.7 2326.1 481.0 2318.6 484.8 2311.1 490.1 2305.3 495.9 2298.2 504.6 2291.3 504.6 2299.9 493.4 2304.4 488.4 2310.7 483.4 2318.6 478.9 2325.6 475.9 2332.4 474.0 2364.9 468.3Z" fill="#eb615d" stroke="#eb615d" stroke-width="0.7"/>
<path d="M2212.4 290.9 2247.0 290.9 2236.1 292.8 2229.9 293.2 2221.1 292.6 2212.4 290.9ZM2264.9 290.9 2295.1 290.9 2286.1 291.3 2264.9 290.9ZM2161.6 459.6 2173.4 467.1 2184.9 471.9 2194.9 474.3 2216.1 476.7 2221.1 478.2 2226.1 480.6 2232.2 484.6 2237.4 489.6 2241.1 494.9 2246.6 504.7 2243.0 504.6 2238.2 495.9 2234.7 490.9 2229.9 486.3 2224.9 483.0 2219.9 480.8 2214.9 479.4 2193.6 477.0 2179.9 473.4 2169.9 468.9 2161.1 463.6 2161.1 459.3 2161.6 459.6ZM2366.1 473.4 2369.9 472.7 2369.9 478.5 2342.4 482.6 2329.9 485.8 2323.6 488.7 2317.4 493.0 2312.4 497.4 2305.7 504.6 2298.2 504.6 2304.9 496.4 2310.2 490.9 2316.8 485.9 2323.6 482.1 2328.6 480.1 2336.1 478.2 2366.1 473.4Z" fill="#e44244" stroke="#e44244" stroke-width="0.7"/>
<path d="M2162.4 464.4 2173.6 470.8 2184.9 475.1 2194.9 477.2 2213.6 479.1 2218.6 480.3 2223.6 482.4 2229.4 485.9 2234.7 490.9 2238.2 495.9 2243.0 504.6 2239.3 504.6 2235.2 497.1 2231.5 492.1 2227.4 488.3 2222.4 485.3 2213.6 482.3 2192.4 479.9 2178.6 476.4 2169.9 472.7 2161.1 467.8 2161.1 463.6 2162.4 464.4ZM2362.4 479.6 2369.9 478.5 2369.9 484.6 2347.4 487.9 2336.1 490.5 2329.9 493.0 2324.9 495.9 2319.9 499.6 2314.4 504.6 2305.7 504.6 2316.1 494.0 2322.0 489.6 2327.4 486.8 2338.6 483.3 2362.4 479.6Z" fill="#dc2028" stroke="#dc2028" stroke-width="0.7"/>
<path d="M2162.1 468.4 2172.4 473.9 2183.6 478.0 2193.6 480.1 2212.4 482.1 2221.1 484.7 2227.4 488.3 2231.5 492.1 2235.2 497.1 2239.3 504.6 2235.3 504.6 2231.6 498.4 2228.6 494.4 2224.7 490.9 2219.9 488.1 2212.4 485.7 2191.1 483.0 2177.4 479.5 2169.9 476.5 2161.1 471.9 2161.1 467.8 2162.1 468.4ZM2369.9 484.6 2369.9 491.2 2353.6 493.6 2342.4 496.1 2333.6 499.5 2325.3 504.6 2314.4 504.6 2319.9 499.6 2324.8 495.9 2334.9 491.0 2347.4 487.9 2369.9 484.6Z" fill="#db1e26" stroke="#db1e26" stroke-width="0.7"/>
<path d="M2161.5 472.1 2172.4 477.6 2182.4 481.0 2192.4 483.2 2211.1 485.5 2219.9 488.1 2224.7 490.9 2228.6 494.4 2231.6 498.4 2235.3 504.6 2230.9 504.6 2224.9 496.6 2221.1 493.5 2217.4 491.5 2209.9 489.1 2188.6 486.0 2176.1 482.7 2161.1 476.1 2161.1 471.9 2161.5 472.1ZM2363.6 492.1 2369.9 491.2 2369.9 498.4 2353.6 501.2 2341.9 504.6 2325.3 504.6 2332.4 500.1 2339.9 496.9 2349.9 494.3 2363.6 492.1Z" fill="#da1c24" stroke="#da1c24" stroke-width="0.7"/>
<path d="M2162.4 476.8 2172.4 481.3 2182.4 484.6 2191.1 486.5 2208.6 488.9 2216.1 491.0 2220.9 493.4 2224.1 495.9 2227.4 499.4 2230.9 504.6 2225.7 504.6 2219.8 498.4 2215.9 495.9 2211.1 494.0 2183.6 488.6 2168.6 483.8 2161.1 480.4 2161.1 476.1 2162.4 476.8ZM2362.4 499.6 2369.9 498.4 2369.9 504.6 2341.9 504.6 2351.1 501.8 2362.4 499.6Z" fill="#d91a22" stroke="#d91a22" stroke-width="0.7"/>
<path d="M2162.2 480.9 2171.1 484.8 2181.1 488.0 2206.1 492.7 2212.4 494.4 2219.9 498.4 2225.7 504.6 2161.1 504.6 2161.1 480.4 2162.2 480.9Z" fill="#d81921" stroke="#d81921" stroke-width="0.7"/>
<path d="M2189.9 370.4 2186.7 372.1 2184.9 373.9 2183.6 375.9 2182.5 379.6 2182.1 384.6 2182.6 389.6 2184.1 394.6 2186.1 398.4 2189.9 402.7 2193.8 405.9 2226.3 428.4 2233.9 433.4 2238.6 435.7 2246.1 437.2 2253.6 437.0 2266.1 434.4 2280.9 429.6 2294.9 423.8 2302.4 419.6 2307.4 415.4 2309.9 412.1 2310.9 409.7 2311.4 402.1 2310.4 398.4 2309.3 397.1 2306.1 394.6 2302.3 389.6 2298.6 387.6 2293.6 386.4 2287.4 386.2 2281.1 386.9 2271.1 389.4 2262.4 389.3 2249.9 385.8 2234.9 382.5 2223.6 379.4 2202.4 371.0 2194.9 369.8 2189.9 370.4M2182.3 353.4 2177.4 354.8 2172.4 357.3 2169.9 360.1 2168.8 364.6 2167.7 378.4 2167.9 393.4 2169.9 401.1 2171.1 404.0 2175.0 410.9 2177.6 414.6 2183.7 420.9 2191.1 425.9 2208.2 434.6 2241.7 448.4 2247.4 449.6 2252.4 449.9 2255.6 449.6 2262.4 448.3 2271.1 445.4 2298.6 434.2 2332.4 424.2 2342.4 418.9 2347.1 414.6 2350.8 409.6 2352.4 406.7 2355.3 398.4 2356.7 390.9 2357.6 382.1 2357.3 377.1 2355.9 369.6 2354.5 364.6 2352.2 359.6 2348.6 355.9 2344.9 354.2 2339.9 353.4 2337.3 353.5 2332.4 354.5 2311.1 364.2 2306.1 366.0 2297.4 368.3 2283.0 370.9 2264.9 372.5 2257.4 371.8 2242.4 368.2 2229.9 364.1 2208.6 355.5 2199.9 353.1 2191.1 352.3 2182.4 353.4M2369.9 336.3 2364.9 334.2 2357.4 332.5 2351.1 332.2 2343.6 332.9 2338.6 333.9 2333.6 335.7 2327.8 339.6 2317.4 347.6 2312.4 350.4 2307.4 352.2 2302.4 353.3 2284.9 354.6 2266.1 357.0 2254.9 355.7 2238.6 352.4 2227.4 349.4 2214.9 344.6 2204.9 340.2 2197.4 338.5 2192.4 338.5 2173.6 340.4 2166.1 342.8 2161.1 345.8M2161.1 406.4 2167.7 415.9 2175.1 424.6 2180.4 429.6 2186.1 433.9 2198.6 440.4 2238.7 457.1 2248.6 460.3 2253.6 460.9 2258.6 460.8 2262.4 460.3 2269.9 458.2 2281.1 453.8 2297.4 445.9 2337.4 431.7 2343.6 429.1 2351.1 425.5 2357.4 421.7 2362.7 417.1 2369.9 409.4M2369.9 309.8 2359.9 310.2 2349.9 311.7 2341.1 314.0 2333.6 316.9 2328.6 319.7 2325.6 322.1 2317.8 329.6 2311.1 336.7 2308.6 338.0 2306.1 338.4 2303.6 338.3 2301.1 337.6 2293.6 334.5 2287.4 333.0 2281.1 332.7 2272.4 332.8 2261.1 331.4 2251.1 327.9 2244.9 324.5 2239.3 322.1 2232.4 320.8 2228.6 321.2 2214.9 323.8 2209.9 323.6 2198.6 321.6 2189.9 321.8 2171.1 324.0 2161.1 326.7M2161.1 423.6 2177.6 440.9 2182.8 444.6 2189.9 448.7 2202.4 453.8 2218.6 458.6 2251.1 473.2 2256.1 474.9 2261.1 476.0 2266.1 475.8 2271.1 474.1 2297.4 458.9 2306.5 454.6 2314.9 451.6 2342.4 443.7 2354.4 439.6 2363.6 435.5 2369.9 432.1M2351.2 290.9 2342.4 294.2 2332.4 298.9 2316.1 308.7 2313.6 309.8 2308.6 311.3 2304.9 311.8 2296.1 311.9 2287.4 310.6 2281.1 308.8 2267.4 302.7 2263.6 301.6 2255.6 302.1 2242.4 307.4 2236.1 309.1 2218.6 308.2 2197.4 305.5 2187.4 304.9 2172.4 305.6 2161.1 307.5M2161.1 441.4 2166.1 446.3 2173.6 452.6 2177.4 455.2 2184.9 459.3 2196.1 463.2 2212.4 466.1 2219.9 468.0 2226.1 470.7 2233.6 474.8 2241.1 480.0 2246.7 484.6 2252.6 490.9 2258.7 499.6 2262.5 502.1 2266.1 503.0 2268.6 503.0 2272.0 502.1 2276.1 499.6 2279.3 495.9 2286.3 485.9 2291.1 480.5 2298.6 474.3 2304.9 470.9 2314.9 466.7 2326.1 463.0 2357.4 455.8 2369.9 452.1M2247.0 290.9 2236.1 292.8 2228.6 293.2 2219.9 292.4 2211.1 290.9M2295.1 290.9 2287.4 291.3 2264.1 290.9M2161.1 459.3 2172.4 466.6 2183.6 471.5 2194.9 474.3 2209.9 475.7 2217.4 477.0 2222.4 478.8 2226.1 480.6 2231.1 483.8 2236.3 488.4 2240.2 493.4 2246.6 504.7M2298.2 504.6 2305.3 495.9 2310.2 490.9 2316.1 486.3 2324.9 481.5 2330.0 479.6 2338.6 477.7 2369.9 472.7" fill="none" stroke="#0a0a0a" stroke-width="3.6" stroke-linejoin="round" stroke-linecap="round"/>
</g>
<ellipse cx="2265.3" cy="397.7" rx="100.2" ry="102.8" fill="none" stroke="#0a0a0a" stroke-width="1.4"/>
<path d="M2253.1000000000004 287.2 L2246.8 296.4 M2277.5 287.2 L2284.8 296.4" stroke="#0a0a0a" stroke-width="4.4" stroke-linecap="round" fill="none"/>
<path d="M2163.6 376.7 Q2159.1 369.7 2153.6 374.2 M2163.6 422.2 Q2159.1 428.7 2153.6 423.7" stroke="#0a0a0a" stroke-width="3.6" stroke-linecap="round" fill="none"/>
<path d="M2367.0 376.7 Q2371.5 369.7 2377.0 374.2 M2367.0 422.2 Q2371.5 428.7 2377.0 423.7" stroke="#0a0a0a" stroke-width="3.6" stroke-linecap="round" fill="none"/>
<clipPath id="t5c"><ellipse cx="2613.3" cy="397.7" rx="100.2" ry="102.8"/></clipPath>
<ellipse cx="2613.3" cy="398.2" rx="111.2" ry="113.3" fill="#e9f0fb"/>
<g clip-path="url(#t5c)">
<rect x="2511.1000000000004" y="292.9" width="204.4" height="209.6" fill="#c8dbf7"/>
<path d="M2604.1 412.0 2609.1 411.5 2612.2 412.1 2614.7 413.4 2616.1 414.6 2617.4 417.1 2616.6 420.9 2613.9 423.4 2610.4 424.7 2606.6 424.7 2602.9 423.2 2600.4 420.9 2599.4 417.1 2600.4 414.5 2604.1 412.0Z" fill="#2a50a0" stroke="#2a50a0" stroke-width="0.7"/>
<path d="M2601.6 404.5 2607.9 404.3 2614.1 405.2 2620.1 407.1 2624.1 409.6 2626.4 412.1 2628.0 415.9 2627.7 419.6 2625.7 423.4 2623.2 425.9 2619.2 428.4 2615.4 429.8 2610.4 430.8 2605.4 430.7 2601.6 429.9 2595.4 426.8 2592.9 424.6 2590.2 420.9 2589.1 417.2 2589.3 413.4 2591.2 409.6 2594.0 407.2 2597.9 405.4 2601.6 404.5ZM2603.6 412.1 2600.4 414.5 2599.4 417.1 2600.4 420.9 2602.9 423.2 2606.6 424.7 2610.4 424.7 2613.9 423.4 2616.6 420.9 2617.4 417.1 2616.1 414.6 2614.7 413.4 2612.2 412.1 2609.1 411.5 2603.6 412.1Z" fill="#2b51a1" stroke="#2b51a1" stroke-width="0.7"/>
<path d="M2594.1 399.6 2601.6 398.8 2611.6 399.5 2621.6 401.4 2627.9 403.8 2632.4 407.1 2635.8 412.1 2636.6 417.1 2634.9 422.1 2632.0 425.9 2627.6 429.6 2622.9 432.3 2616.6 434.3 2610.4 435.2 2604.1 435.2 2599.1 434.3 2593.9 432.1 2588.5 428.4 2584.0 423.4 2581.5 418.4 2581.0 414.6 2582.0 409.6 2585.2 404.6 2589.1 401.6 2594.1 399.6ZM2600.8 404.6 2596.3 405.9 2592.9 408.0 2590.4 410.9 2589.3 413.4 2589.1 417.1 2590.2 420.9 2592.9 424.6 2595.4 426.8 2601.6 429.9 2605.4 430.7 2610.4 430.8 2615.4 429.8 2619.2 428.4 2623.2 425.9 2625.7 423.4 2627.7 419.6 2628.0 415.9 2626.4 412.2 2624.1 409.6 2620.1 407.1 2614.1 405.2 2606.6 404.3 2600.8 404.6Z" fill="#2c52a2" stroke="#2c52a2" stroke-width="0.7"/>
<path d="M2590.4 394.3 2599.1 393.6 2619.1 395.9 2626.6 397.2 2632.9 399.5 2638.1 403.4 2642.7 409.6 2644.1 413.4 2644.4 415.9 2643.1 420.9 2639.3 425.9 2633.7 430.9 2627.9 434.7 2621.6 437.1 2612.9 438.8 2604.1 439.2 2597.9 438.3 2591.6 435.9 2584.3 430.9 2578.1 424.6 2575.1 419.6 2574.0 414.6 2575.1 408.4 2579.1 401.7 2584.1 397.0 2590.4 394.3ZM2593.8 399.6 2589.1 401.6 2585.2 404.6 2582.0 409.6 2581.0 414.6 2581.5 418.4 2584.0 423.4 2588.5 428.4 2593.9 432.1 2599.1 434.3 2604.1 435.2 2610.4 435.2 2616.6 434.3 2622.9 432.3 2627.6 429.6 2632.0 425.9 2634.9 422.1 2636.6 417.1 2635.8 412.1 2632.4 407.1 2627.9 403.8 2621.6 401.4 2611.6 399.5 2601.6 398.8 2593.8 399.6Z" fill="#2e54a4" stroke="#2e54a4" stroke-width="0.7"/>
<path d="M2594.1 388.4 2611.6 390.8 2627.9 392.1 2632.9 393.2 2636.6 394.8 2642.9 399.8 2649.1 408.4 2651.6 414.6 2651.5 418.4 2650.5 420.9 2646.3 425.9 2635.4 434.5 2629.1 438.2 2622.9 440.5 2612.9 442.3 2602.9 442.9 2595.4 441.6 2588.2 438.4 2579.5 432.1 2571.7 424.6 2568.2 418.4 2567.7 412.1 2568.7 408.4 2571.1 403.4 2574.4 398.4 2577.9 394.5 2581.6 391.6 2585.4 389.8 2589.1 388.8 2594.1 388.4ZM2589.1 394.6 2582.9 397.9 2577.9 403.3 2574.7 409.6 2574.0 415.9 2575.7 420.9 2579.2 425.9 2585.9 432.1 2592.9 436.5 2599.1 438.6 2605.4 439.3 2614.1 438.6 2622.9 436.7 2627.9 434.6 2633.7 430.9 2639.3 425.9 2643.1 420.9 2644.4 415.9 2644.1 413.4 2642.7 409.6 2637.9 403.2 2631.6 398.9 2622.9 396.4 2601.6 393.8 2595.4 393.6 2589.1 394.6Z" fill="#3357a9" stroke="#3357a9" stroke-width="0.7"/>
<path d="M2592.8 383.4 2599.1 383.8 2611.6 386.6 2631.6 387.2 2636.6 388.4 2640.4 390.2 2646.6 395.9 2656.2 409.6 2657.9 413.4 2658.6 417.1 2658.2 419.6 2657.1 422.1 2651.8 427.1 2634.1 439.3 2629.1 441.9 2624.1 443.6 2610.4 446.0 2601.6 446.4 2594.1 445.0 2585.6 440.9 2572.1 430.9 2565.7 424.6 2562.4 418.4 2562.0 412.1 2562.9 408.4 2565.1 403.4 2570.4 395.1 2574.1 390.7 2577.9 387.6 2582.9 385.0 2587.9 383.8 2592.8 383.4ZM2593.2 388.4 2587.9 389.1 2584.1 390.3 2577.7 394.6 2574.1 398.8 2570.4 404.6 2568.3 409.6 2567.6 413.4 2567.8 417.1 2568.6 419.6 2571.7 424.6 2579.5 432.1 2589.1 438.9 2595.4 441.6 2602.9 442.9 2612.9 442.3 2624.1 440.1 2630.4 437.6 2636.9 433.4 2646.3 425.9 2650.5 420.9 2651.5 418.4 2651.6 414.6 2649.1 408.4 2642.9 399.8 2636.6 394.8 2632.9 393.2 2627.9 392.1 2611.6 390.8 2599.1 388.7 2593.2 388.4Z" fill="#375aad" stroke="#375aad" stroke-width="0.7"/>
<path d="M2585.4 379.5 2592.9 378.7 2599.1 378.8 2610.4 382.0 2616.6 382.3 2631.6 381.8 2636.6 382.6 2641.6 384.5 2645.4 387.1 2649.1 390.9 2661.3 408.4 2663.5 413.4 2664.2 417.1 2663.7 420.9 2662.6 423.4 2658.9 427.1 2645.4 435.2 2632.9 443.4 2624.1 446.9 2610.4 449.5 2601.6 449.9 2594.1 448.5 2585.8 444.6 2569.4 433.4 2562.9 427.6 2558.3 420.9 2557.2 417.1 2556.9 413.4 2557.5 408.4 2559.3 403.4 2568.1 389.6 2572.0 385.9 2575.6 383.4 2580.7 380.9 2585.4 379.5ZM2591.7 383.4 2586.6 384.0 2581.6 385.6 2577.9 387.6 2573.9 390.9 2570.4 395.1 2565.1 403.4 2562.9 408.4 2561.9 413.4 2562.8 419.6 2566.7 425.9 2573.6 432.1 2586.6 441.5 2594.1 445.0 2601.6 446.4 2610.4 446.0 2624.1 443.6 2629.1 441.9 2634.1 439.3 2651.8 427.1 2657.1 422.1 2658.2 419.6 2658.6 417.1 2657.9 413.4 2656.2 409.6 2646.6 395.9 2640.4 390.2 2636.6 388.4 2631.6 387.2 2611.6 386.6 2599.1 383.8 2591.7 383.4Z" fill="#3c5eb2" stroke="#3c5eb2" stroke-width="0.7"/>
<path d="M2590.4 374.5 2599.1 373.9 2612.9 376.3 2631.6 376.4 2639.1 378.0 2645.4 381.0 2650.0 384.6 2653.4 388.4 2661.6 400.0 2665.9 407.1 2667.9 412.1 2668.8 417.1 2668.3 420.9 2666.7 424.6 2664.7 427.1 2661.6 429.7 2646.6 437.6 2632.9 446.5 2626.6 449.2 2617.9 451.7 2606.6 453.5 2597.9 452.8 2589.1 449.7 2578.4 443.4 2564.0 433.4 2560.0 429.6 2557.0 425.9 2554.8 422.1 2553.1 417.1 2552.5 412.1 2552.9 407.1 2554.6 400.9 2557.1 395.9 2561.5 389.6 2566.3 384.6 2571.6 380.9 2577.9 377.8 2584.1 375.7 2590.4 374.5ZM2584.8 379.6 2580.4 381.0 2575.3 383.6 2571.6 386.2 2567.9 390.0 2559.3 403.4 2557.5 408.4 2556.9 413.4 2557.2 417.1 2558.3 420.9 2562.9 427.6 2569.4 433.4 2586.6 445.1 2594.1 448.5 2601.6 449.9 2610.3 449.5 2624.1 446.9 2632.9 443.4 2645.4 435.2 2658.9 427.1 2662.6 423.4 2663.7 420.9 2664.2 417.1 2663.5 413.4 2661.3 408.4 2649.1 390.9 2645.4 387.1 2641.6 384.5 2636.6 382.6 2631.6 381.8 2616.6 382.3 2610.4 382.0 2599.1 378.8 2591.6 378.7 2584.8 379.6Z" fill="#5777c6" stroke="#5777c6" stroke-width="0.7"/>
<path d="M2595.4 369.6 2604.1 369.2 2631.6 371.0 2637.9 372.6 2642.9 374.5 2651.4 379.6 2656.4 384.6 2661.6 391.6 2667.5 400.9 2671.0 408.4 2672.5 413.4 2672.8 418.4 2671.6 423.4 2669.4 427.1 2667.1 429.7 2663.6 432.1 2646.6 440.5 2630.4 450.7 2620.4 454.5 2609.1 456.8 2600.4 456.6 2591.6 454.0 2581.2 448.4 2562.9 436.4 2558.0 432.1 2554.9 428.4 2551.8 423.4 2549.4 417.1 2548.6 412.1 2548.7 405.9 2549.8 399.6 2551.6 394.6 2554.1 390.5 2557.9 385.9 2562.1 382.1 2567.9 378.4 2580.4 373.0 2595.4 369.6ZM2589.6 374.6 2582.9 376.1 2576.4 378.4 2569.6 382.1 2564.9 385.9 2560.6 390.9 2556.4 397.1 2554.1 402.3 2552.7 408.4 2552.6 413.4 2553.4 418.4 2555.4 423.2 2557.8 427.1 2561.2 430.9 2565.4 434.5 2580.3 444.6 2590.4 450.3 2599.1 453.1 2607.9 453.4 2619.1 451.5 2626.6 449.2 2632.9 446.5 2646.6 437.6 2661.6 429.7 2664.7 427.1 2666.7 424.6 2668.3 420.9 2668.8 417.1 2667.9 412.1 2665.9 407.1 2661.6 400.0 2653.4 388.4 2650.0 384.6 2645.3 381.0 2639.1 378.0 2631.6 376.4 2612.9 376.3 2599.1 373.9 2589.6 374.6Z" fill="#5d7cc9" stroke="#5d7cc9" stroke-width="0.7"/>
<path d="M2599.1 364.6 2606.6 363.9 2615.4 363.8 2630.4 365.4 2636.6 367.2 2642.9 369.7 2650.4 373.5 2655.5 377.2 2661.3 383.4 2669.0 394.6 2672.3 400.9 2675.6 409.6 2676.6 414.6 2676.3 419.6 2674.7 424.6 2671.6 429.7 2665.4 434.6 2646.6 443.2 2634.1 451.5 2629.1 454.2 2617.9 458.5 2607.9 460.2 2599.1 459.4 2589.5 455.9 2566.3 442.1 2557.9 435.9 2554.1 432.1 2550.4 426.8 2547.4 420.9 2545.4 414.6 2544.8 408.4 2545.2 399.6 2546.4 394.6 2548.8 389.6 2551.6 385.6 2555.4 381.8 2559.8 378.4 2565.4 375.3 2572.9 372.0 2582.9 368.5 2599.1 364.6ZM2594.8 369.6 2586.6 371.2 2579.3 373.4 2572.9 375.9 2566.6 379.1 2562.1 382.1 2557.9 385.9 2554.1 390.5 2551.6 394.7 2549.8 399.6 2548.7 405.9 2548.6 412.1 2549.4 417.1 2551.8 423.4 2554.9 428.4 2558.0 432.1 2562.9 436.4 2581.2 448.4 2591.6 454.0 2600.4 456.6 2609.1 456.8 2620.4 454.5 2630.4 450.7 2646.6 440.5 2663.6 432.1 2667.1 429.6 2669.4 427.1 2671.6 423.4 2672.8 418.4 2672.5 413.4 2671.0 408.4 2667.5 400.9 2661.6 391.6 2656.4 384.6 2651.4 379.6 2642.9 374.5 2637.9 372.6 2631.6 371.0 2604.1 369.2 2594.8 369.6Z" fill="#6382cc" stroke="#6382cc" stroke-width="0.7"/>
<path d="M2601.6 359.6 2615.4 358.5 2622.9 359.1 2629.1 360.2 2641.6 364.4 2656.2 372.1 2660.4 375.6 2664.1 379.9 2674.1 394.7 2677.4 402.1 2679.8 409.6 2680.3 413.4 2679.7 419.6 2677.9 425.3 2674.5 430.9 2670.4 434.8 2664.1 438.4 2646.6 446.0 2634.1 454.4 2626.6 458.3 2617.9 461.6 2610.4 463.0 2601.6 462.7 2591.6 459.6 2584.1 455.7 2565.4 444.5 2558.4 439.6 2552.8 434.6 2546.7 425.9 2542.9 417.1 2541.5 409.7 2541.3 399.6 2542.3 393.4 2546.9 384.6 2552.9 378.3 2559.1 374.1 2569.1 369.6 2587.9 363.1 2601.6 359.6ZM2598.5 364.6 2581.6 368.9 2571.6 372.5 2564.1 375.9 2559.1 378.9 2554.9 382.1 2551.4 385.9 2548.8 389.6 2546.4 394.6 2545.2 399.6 2544.8 408.4 2545.4 414.6 2547.4 420.9 2550.4 426.8 2554.1 432.1 2557.9 435.9 2566.3 442.1 2589.5 455.9 2599.1 459.4 2607.9 460.2 2617.9 458.5 2629.1 454.2 2634.1 451.5 2646.6 443.2 2665.4 434.6 2671.6 429.7 2674.7 424.6 2676.3 419.7 2676.6 414.6 2675.6 409.6 2672.3 400.9 2669.0 394.6 2661.3 383.4 2655.5 377.1 2650.4 373.5 2642.8 369.7 2636.6 367.2 2630.4 365.4 2622.9 364.3 2614.1 363.8 2605.4 363.9 2598.5 364.6Z" fill="#6987d0" stroke="#6987d0" stroke-width="0.7"/>
<path d="M2605.4 354.6 2617.9 354.0 2630.4 356.0 2644.1 361.2 2653.9 365.9 2659.1 369.1 2662.9 372.2 2667.4 377.1 2676.8 390.9 2681.8 400.9 2683.4 405.9 2684.1 410.9 2683.3 418.4 2680.7 425.9 2676.6 432.6 2671.6 437.3 2664.1 441.6 2647.9 448.2 2634.2 457.1 2625.4 461.7 2616.6 464.7 2609.1 465.7 2600.4 465.0 2594.1 463.1 2589.1 461.0 2562.9 445.7 2553.1 438.4 2546.7 430.9 2541.3 420.9 2539.1 413.4 2537.7 400.9 2538.3 393.4 2541.5 385.9 2546.6 378.9 2554.1 372.6 2560.4 369.1 2570.4 365.1 2592.9 357.6 2605.4 354.6ZM2601.2 359.6 2587.9 363.1 2569.1 369.6 2559.1 374.1 2552.9 378.3 2546.9 384.7 2542.3 393.4 2541.3 399.6 2541.5 409.6 2542.9 417.2 2546.7 425.9 2552.8 434.6 2558.4 439.6 2565.4 444.5 2584.1 455.7 2591.6 459.6 2601.6 462.7 2610.4 463.0 2617.9 461.6 2626.6 458.3 2634.1 454.4 2646.6 446.0 2664.1 438.4 2670.4 434.8 2674.5 430.9 2677.9 425.3 2679.7 419.6 2680.3 413.4 2679.8 409.6 2677.4 402.1 2674.1 394.6 2664.1 379.9 2660.4 375.6 2656.2 372.1 2651.6 369.4 2640.4 363.9 2627.9 359.9 2614.1 358.5 2601.2 359.6Z" fill="#8dace6" stroke="#8dace6" stroke-width="0.7"/>
<path d="M2612.9 349.6 2622.9 350.1 2632.9 352.6 2654.1 361.6 2663.1 367.1 2668.5 372.1 2674.1 378.9 2684.6 395.9 2687.6 403.4 2688.0 410.9 2686.6 418.4 2682.6 428.4 2677.2 435.9 2671.6 440.7 2664.5 444.6 2649.1 450.6 2635.4 459.2 2625.4 464.5 2616.6 467.4 2606.6 468.3 2597.9 466.8 2586.6 462.2 2560.4 446.9 2550.4 439.1 2543.5 430.9 2538.5 420.9 2535.6 409.6 2534.4 400.9 2534.4 395.9 2536.2 388.4 2540.4 380.9 2546.6 373.7 2554.1 368.0 2565.4 362.8 2591.6 353.9 2602.9 350.9 2612.9 349.6ZM2605.3 354.6 2592.9 357.6 2570.4 365.1 2560.4 369.1 2554.1 372.6 2546.6 378.9 2541.5 385.9 2538.3 393.4 2537.7 400.9 2539.1 413.4 2541.3 420.9 2546.7 430.9 2553.1 438.4 2562.9 445.7 2589.1 461.0 2594.1 463.1 2600.4 465.0 2609.1 465.7 2616.6 464.7 2625.4 461.7 2634.2 457.1 2647.9 448.2 2664.1 441.6 2671.6 437.3 2676.6 432.6 2680.7 425.9 2683.3 418.4 2684.1 410.9 2683.4 405.9 2681.8 400.9 2676.8 390.9 2667.4 377.1 2662.9 372.2 2659.1 369.1 2653.9 365.9 2644.1 361.2 2630.4 356.0 2617.9 354.0 2605.3 354.6Z" fill="#96b4e9" stroke="#96b4e9" stroke-width="0.7"/>
<path d="M2607.9 345.7 2619.1 345.4 2630.4 347.7 2656.6 358.8 2664.6 363.4 2671.7 369.6 2680.4 380.3 2690.6 397.1 2691.8 400.9 2692.2 405.9 2690.8 415.9 2686.0 428.4 2679.8 437.1 2674.5 442.1 2666.6 447.0 2649.1 453.6 2635.4 462.0 2625.6 467.1 2617.9 469.7 2609.1 470.8 2599.1 469.7 2587.9 465.4 2560.4 449.6 2549.9 442.1 2542.0 433.4 2537.1 424.6 2533.2 412.1 2531.0 397.1 2532.0 389.6 2536.2 380.9 2542.9 372.2 2550.4 365.8 2557.9 361.6 2567.9 357.5 2595.4 348.5 2607.9 345.7ZM2611.8 349.6 2601.6 351.1 2590.4 354.3 2565.4 362.8 2554.1 368.0 2546.6 373.7 2540.4 381.0 2535.7 389.6 2534.3 397.1 2535.8 410.9 2538.5 420.9 2543.5 430.9 2550.4 439.1 2560.4 446.9 2586.6 462.2 2597.9 466.8 2606.6 468.3 2616.6 467.4 2625.4 464.5 2635.4 459.2 2648.4 450.9 2665.4 444.3 2672.9 439.8 2678.3 434.6 2683.3 427.1 2687.0 417.1 2688.1 409.6 2687.8 404.6 2686.9 400.9 2680.4 388.6 2672.7 377.1 2667.9 371.5 2663.1 367.1 2654.1 361.6 2632.9 352.6 2622.9 350.1 2611.8 349.6Z" fill="#a0bdec" stroke="#a0bdec" stroke-width="0.7"/>
<path d="M2614.1 340.9 2622.9 341.7 2632.9 344.6 2649.1 352.4 2660.9 357.1 2670.4 362.8 2675.4 367.5 2682.5 375.9 2690.4 389.6 2694.3 394.6 2695.7 399.6 2695.9 405.9 2694.0 417.1 2688.7 430.9 2681.7 439.6 2677.6 443.4 2669.1 449.1 2650.4 456.1 2626.6 469.5 2617.9 472.4 2607.9 473.5 2597.9 471.9 2585.4 466.8 2557.9 451.0 2551.6 447.0 2547.3 443.4 2539.3 434.6 2534.1 424.8 2530.0 410.9 2528.1 400.9 2527.7 394.6 2528.2 390.9 2529.7 385.9 2535.1 375.9 2542.2 367.1 2550.4 360.7 2562.9 354.7 2586.6 346.4 2600.4 342.5 2607.9 341.3 2614.1 340.9ZM2606.7 345.9 2595.4 348.5 2567.9 357.5 2557.9 361.6 2550.4 365.8 2542.9 372.2 2536.2 380.9 2532.0 389.6 2531.0 397.1 2533.2 412.1 2537.1 424.6 2542.0 433.4 2549.9 442.1 2560.4 449.6 2587.9 465.4 2599.1 469.7 2609.1 470.8 2617.9 469.7 2626.6 466.7 2649.1 453.6 2666.6 447.0 2675.4 441.4 2680.4 436.5 2686.0 428.4 2690.8 415.9 2692.0 409.6 2692.2 404.6 2691.8 400.9 2690.6 397.1 2679.9 379.6 2671.7 369.6 2664.6 363.4 2656.6 358.8 2630.4 347.7 2624.1 346.2 2617.9 345.3 2606.7 345.9Z" fill="#a9c5f0" stroke="#a9c5f0" stroke-width="0.7"/>
<path d="M2602.8 337.1 2610.4 336.5 2616.6 336.6 2622.9 337.5 2629.1 339.1 2635.4 341.7 2650.4 349.9 2665.4 355.5 2671.6 358.6 2678.7 364.6 2686.6 374.4 2697.1 392.1 2698.5 395.9 2699.1 399.6 2699.1 405.9 2698.2 412.2 2693.5 430.9 2690.5 435.9 2682.6 443.4 2677.9 447.2 2671.8 450.9 2649.1 459.7 2627.9 471.7 2619.1 474.9 2610.4 476.3 2605.3 476.1 2599.1 475.1 2586.6 470.3 2552.9 451.2 2544.1 444.7 2537.3 437.1 2531.8 427.1 2527.5 413.4 2524.6 397.1 2525.4 388.4 2529.9 377.1 2536.6 367.0 2544.1 359.6 2549.1 356.1 2555.4 352.8 2582.9 341.9 2592.9 338.9 2602.8 337.1ZM2613.2 340.9 2600.4 342.5 2586.6 346.4 2562.9 354.7 2550.4 360.7 2542.2 367.1 2535.1 375.9 2529.7 385.9 2528.2 390.9 2527.7 394.6 2528.1 400.9 2530.0 410.9 2534.1 424.8 2539.3 434.6 2547.3 443.4 2551.6 447.0 2557.9 451.0 2585.4 466.8 2597.9 471.9 2607.9 473.5 2617.9 472.4 2626.6 469.5 2650.4 456.1 2669.1 449.1 2677.6 443.4 2681.7 439.6 2688.7 430.9 2694.0 417.1 2696.0 404.6 2695.5 398.4 2694.3 394.6 2689.6 388.4 2684.2 378.4 2677.9 370.3 2669.6 362.1 2660.9 357.1 2649.1 352.4 2631.6 344.1 2621.6 341.5 2613.2 340.9Z" fill="#d4e3f9" stroke="#d4e3f9" stroke-width="0.7"/>
<path d="M2602.9 332.1 2616.6 332.3 2629.1 334.9 2636.6 338.3 2646.2 344.6 2651.6 347.6 2670.3 353.4 2675.5 355.9 2682.9 362.5 2690.1 372.1 2700.4 390.7 2701.6 394.6 2702.1 398.4 2701.5 409.6 2697.4 430.9 2695.0 435.9 2690.4 441.0 2680.4 449.0 2672.6 453.4 2649.1 462.5 2632.9 472.0 2626.6 475.0 2617.9 478.0 2610.4 479.2 2605.4 479.1 2599.1 478.0 2586.6 473.3 2550.4 453.4 2541.6 447.1 2537.9 443.3 2534.2 438.4 2529.0 428.4 2524.3 413.4 2521.5 397.1 2521.6 392.1 2522.4 387.1 2526.8 374.6 2532.9 364.6 2536.6 360.1 2541.2 355.9 2551.6 349.4 2567.9 342.6 2581.6 335.8 2590.4 333.6 2602.9 332.1ZM2602.4 337.1 2591.6 339.2 2581.6 342.4 2555.4 352.8 2549.1 356.1 2544.1 359.6 2536.6 367.0 2529.9 377.1 2525.4 388.4 2524.6 397.1 2527.5 413.4 2531.8 427.1 2537.3 437.1 2544.1 444.7 2552.9 451.2 2586.6 470.3 2599.1 475.1 2605.4 476.1 2610.4 476.3 2619.1 474.9 2627.9 471.7 2649.1 459.7 2671.8 450.9 2677.9 447.2 2682.6 443.4 2690.5 435.9 2693.5 430.9 2698.2 412.1 2699.1 405.9 2699.1 399.6 2698.5 395.9 2697.1 392.1 2686.6 374.4 2678.7 364.6 2671.6 358.6 2665.4 355.5 2650.4 349.9 2635.4 341.7 2629.1 339.1 2622.9 337.5 2616.6 336.6 2610.4 336.5 2602.4 337.1Z" fill="#eef3fd" stroke="#eef3fd" stroke-width="0.7"/>
<path d="M2590.4 328.4 2601.6 327.5 2610.4 327.5 2617.9 328.4 2627.9 330.5 2636.6 334.0 2647.9 342.3 2654.1 345.8 2660.4 347.6 2672.9 349.7 2677.9 351.7 2684.3 357.1 2691.6 366.4 2702.6 387.1 2704.7 393.4 2705.0 399.6 2704.4 408.4 2700.4 430.3 2697.9 436.0 2692.9 442.2 2682.9 450.4 2677.9 453.4 2669.1 457.4 2649.1 465.1 2635.1 473.4 2627.9 477.1 2619.1 480.4 2612.9 481.7 2607.9 482.1 2601.6 481.4 2595.4 479.8 2588.4 477.1 2550.4 457.1 2540.4 450.4 2536.6 446.8 2533.1 442.1 2529.1 435.9 2526.7 430.9 2522.0 417.1 2518.9 402.2 2518.3 395.9 2518.6 390.9 2521.6 377.1 2526.7 365.9 2530.1 360.9 2534.1 356.3 2541.6 350.1 2550.4 345.1 2565.4 338.9 2579.4 330.9 2584.1 329.4 2590.4 328.4ZM2602.0 332.1 2590.4 333.6 2581.6 335.8 2567.9 342.6 2551.6 349.4 2541.2 355.9 2536.6 360.1 2532.9 364.6 2526.8 374.6 2522.4 387.1 2521.6 392.1 2521.5 397.1 2524.3 413.4 2529.0 428.4 2534.2 438.4 2537.9 443.3 2541.6 447.1 2550.4 453.4 2586.6 473.3 2599.1 478.0 2605.4 479.1 2610.4 479.2 2617.9 478.0 2626.6 475.0 2632.9 472.0 2649.1 462.5 2672.6 453.4 2680.4 449.0 2690.4 441.0 2695.0 435.9 2697.4 430.9 2701.5 409.6 2702.1 398.4 2701.6 394.6 2700.4 390.7 2690.1 372.1 2682.9 362.5 2675.5 355.9 2670.3 353.4 2651.6 347.6 2646.2 344.6 2636.6 338.3 2629.1 334.9 2615.4 332.2 2602.0 332.1Z" fill="#fbfcfe" stroke="#fbfcfe" stroke-width="0.7"/>
<path d="M2599.1 323.4 2614.1 323.8 2629.1 327.1 2634.1 328.8 2640.3 332.1 2649.5 339.6 2655.4 343.1 2663.2 344.6 2675.4 345.2 2680.4 347.3 2688.6 354.6 2695.8 364.6 2706.0 385.9 2707.9 393.4 2707.9 399.6 2706.8 409.6 2702.7 429.6 2700.8 434.6 2697.9 439.3 2692.9 445.0 2684.1 452.2 2677.6 455.9 2650.4 466.8 2632.9 477.2 2626.6 480.1 2617.9 483.3 2610.4 484.7 2605.4 484.6 2599.1 483.5 2585.4 478.6 2549.1 460.2 2542.9 456.2 2536.8 450.9 2533.4 447.1 2528.0 439.6 2522.3 428.4 2517.9 413.6 2515.2 397.2 2515.3 390.9 2516.5 383.4 2519.8 370.9 2525.4 360.3 2532.9 351.8 2544.1 344.0 2552.9 339.6 2562.9 335.6 2577.9 327.0 2586.6 324.7 2599.1 323.4ZM2590.3 328.4 2584.1 329.4 2579.4 330.9 2565.4 338.9 2550.4 345.1 2541.6 350.1 2534.1 356.3 2530.1 360.9 2526.7 365.9 2521.6 377.1 2518.6 390.9 2518.3 395.9 2518.9 402.1 2522.0 417.1 2526.7 430.9 2529.1 435.9 2533.1 442.1 2536.6 446.8 2540.4 450.4 2550.4 457.1 2588.4 477.1 2595.4 479.8 2601.6 481.4 2607.9 482.1 2612.9 481.7 2619.1 480.4 2627.9 477.1 2635.1 473.4 2649.1 465.1 2669.1 457.4 2677.9 453.4 2682.9 450.4 2692.9 442.2 2697.9 436.0 2700.4 430.3 2704.4 408.4 2705.0 399.6 2704.7 393.4 2702.6 387.1 2691.6 366.4 2684.3 357.1 2677.9 351.7 2672.9 349.7 2660.4 347.6 2654.1 345.8 2647.9 342.3 2636.6 334.0 2627.9 330.5 2617.9 328.4 2610.4 327.5 2601.6 327.5 2590.3 328.4Z" fill="#feeeec" stroke="#feeeec" stroke-width="0.7"/>
<path d="M2599.1 319.6 2612.9 319.8 2625.4 322.5 2634.1 325.4 2640.4 328.3 2644.6 330.9 2652.8 337.1 2656.6 339.2 2662.9 340.3 2676.6 340.7 2680.4 341.9 2684.1 343.9 2691.8 350.9 2695.7 355.9 2699.6 362.1 2703.3 369.6 2708.9 383.4 2711.0 392.1 2710.9 398.4 2709.5 409.6 2705.0 428.4 2703.1 433.4 2699.1 440.1 2692.9 447.4 2685.7 453.4 2681.6 456.0 2673.8 459.6 2651.6 468.3 2630.4 480.7 2620.4 484.9 2610.4 487.0 2605.4 486.9 2599.1 486.0 2586.6 481.7 2552.8 465.9 2541.6 458.7 2530.4 447.1 2525.0 439.6 2521.5 433.4 2518.2 425.9 2515.5 417.1 2513.3 407.1 2512.0 397.1 2512.0 390.9 2513.1 382.1 2516.1 369.6 2518.9 363.4 2521.9 358.4 2525.4 354.0 2529.7 349.6 2535.4 345.4 2542.7 340.9 2561.6 332.1 2575.4 324.5 2585.4 321.5 2599.1 319.6ZM2598.6 323.4 2586.6 324.7 2577.9 327.0 2562.9 335.6 2552.9 339.6 2544.1 344.0 2532.9 351.8 2525.4 360.3 2519.8 370.9 2516.5 383.4 2515.3 390.9 2515.2 397.1 2517.9 413.6 2522.3 428.4 2528.0 439.6 2533.4 447.1 2536.8 450.9 2542.9 456.2 2549.1 460.2 2585.4 478.6 2599.1 483.5 2605.4 484.6 2610.4 484.7 2617.9 483.3 2626.6 480.1 2632.9 477.2 2650.4 466.8 2677.6 455.9 2684.1 452.2 2692.9 445.0 2697.9 439.3 2700.8 434.6 2702.7 429.6 2706.8 409.6 2707.9 399.6 2707.9 393.4 2706.0 385.9 2695.8 364.6 2688.6 354.6 2680.4 347.3 2675.4 345.2 2663.2 344.6 2655.4 343.1 2649.5 339.6 2640.3 332.1 2634.1 328.8 2629.1 327.1 2614.1 323.8 2606.6 323.2 2598.6 323.4Z" fill="#fcdbd6" stroke="#fcdbd6" stroke-width="0.7"/>
<path d="M2591.6 317.1 2599.1 316.2 2607.9 315.9 2614.1 316.4 2620.4 317.6 2637.5 323.4 2657.9 333.8 2662.9 334.9 2676.6 336.0 2681.6 337.3 2686.4 339.6 2690.4 342.5 2695.0 347.1 2699.1 352.4 2702.8 358.4 2706.6 366.3 2710.3 375.9 2712.7 383.4 2713.9 389.6 2714.0 397.1 2712.8 405.9 2710.8 415.9 2707.9 425.9 2704.7 433.4 2700.1 440.9 2692.9 449.7 2686.6 455.0 2680.4 458.7 2652.9 469.8 2634.1 481.0 2626.6 484.7 2619.1 487.6 2612.9 488.9 2606.6 489.2 2599.9 488.4 2585.4 483.5 2551.6 468.0 2541.6 461.7 2527.6 447.1 2522.9 440.9 2519.1 434.6 2515.7 427.1 2513.0 419.6 2510.8 410.9 2509.1 401.1 2509.1 384.9 2511.4 372.1 2515.9 360.9 2519.0 355.9 2523.2 350.9 2528.7 345.9 2536.3 340.9 2570.4 323.5 2579.1 320.0 2591.6 317.1ZM2598.3 319.6 2584.1 321.8 2575.4 324.5 2561.6 332.1 2542.7 340.9 2535.4 345.4 2529.7 349.6 2525.4 354.0 2521.9 358.4 2518.9 363.4 2516.1 369.6 2513.1 382.1 2512.0 390.9 2512.0 397.1 2513.3 407.1 2515.5 417.1 2518.2 425.9 2521.5 433.4 2525.0 439.6 2530.4 447.2 2541.6 458.7 2552.8 465.9 2586.6 481.7 2599.1 486.0 2605.4 486.9 2610.4 487.0 2620.4 484.9 2630.4 480.7 2651.6 468.3 2673.8 459.6 2681.6 456.0 2685.7 453.4 2692.9 447.4 2699.1 440.1 2703.1 433.4 2705.0 428.4 2709.5 409.6 2710.9 398.4 2711.0 392.1 2708.9 383.4 2703.3 369.6 2699.6 362.1 2695.7 355.9 2691.8 350.9 2684.1 343.9 2680.4 341.9 2676.6 340.7 2662.9 340.3 2656.6 339.2 2652.8 337.1 2644.6 330.9 2640.4 328.3 2634.1 325.4 2625.4 322.5 2612.9 319.8 2598.3 319.6Z" fill="#fbcdc8" stroke="#fbcdc8" stroke-width="0.7"/>
<path d="M2595.4 313.4 2610.4 312.7 2620.4 314.1 2631.6 317.7 2656.6 327.6 2679.1 331.9 2685.4 333.9 2689.3 335.9 2694.3 339.6 2699.1 344.5 2703.0 349.6 2706.7 355.9 2710.2 363.4 2713.4 372.1 2715.9 380.9 2717.1 388.4 2717.1 395.9 2715.9 404.6 2713.6 414.6 2710.4 424.6 2707.0 432.1 2700.9 442.1 2692.9 451.9 2687.9 456.2 2682.9 459.3 2676.6 462.3 2654.9 470.9 2627.9 486.5 2619.6 489.6 2611.6 491.2 2605.4 491.2 2597.9 490.0 2584.1 485.0 2550.7 469.6 2540.4 463.1 2523.8 445.9 2519.2 439.6 2514.9 432.1 2511.6 424.6 2509.1 416.9 2509.1 401.1 2510.8 410.9 2513.0 419.6 2515.7 427.2 2519.1 434.6 2522.9 440.9 2527.6 447.1 2541.6 461.7 2551.6 468.0 2585.2 483.4 2599.1 488.2 2605.4 489.1 2610.4 489.2 2619.1 487.6 2627.9 484.2 2635.4 480.3 2652.9 469.8 2675.4 460.9 2682.9 457.4 2687.0 454.6 2692.9 449.7 2700.1 440.9 2704.7 433.4 2707.9 425.9 2710.8 415.9 2712.8 405.9 2714.0 397.1 2713.9 389.6 2712.7 383.4 2710.4 376.0 2703.4 359.6 2696.1 348.4 2691.6 343.6 2687.9 340.6 2682.9 337.8 2677.9 336.2 2662.9 334.9 2657.9 333.8 2641.6 325.3 2631.6 321.1 2618.3 317.1 2607.9 315.9 2592.9 316.9 2576.5 320.9 2570.4 323.5 2542.9 337.3 2530.4 344.6 2522.0 352.1 2515.9 360.9 2511.4 372.1 2509.1 384.9 2509.5 365.9 2512.3 359.6 2515.3 354.6 2519.4 349.6 2524.1 345.2 2535.4 337.8 2569.1 320.9 2580.4 316.8 2595.4 313.4Z" fill="#fabfb8" stroke="#fabfb8" stroke-width="0.7"/>
<path d="M2604.1 309.6 2614.1 309.7 2621.6 311.0 2629.1 313.3 2649.1 320.8 2657.9 323.2 2678.1 327.1 2685.4 329.2 2690.4 331.3 2695.4 334.5 2699.1 337.7 2703.3 342.1 2707.0 347.1 2713.0 358.4 2717.9 372.6 2717.8 408.4 2716.5 413.4 2713.1 423.4 2709.6 430.9 2700.8 444.6 2695.4 451.7 2689.4 457.1 2684.1 460.6 2677.9 463.8 2656.6 472.4 2629.1 488.2 2619.1 492.0 2610.4 493.3 2604.1 492.9 2597.9 491.8 2582.9 486.4 2562.9 477.4 2550.4 471.1 2545.4 467.4 2539.9 464.6 2524.4 449.6 2515.6 438.4 2509.1 425.9 2509.1 416.9 2513.7 429.6 2520.0 440.9 2527.1 449.6 2541.6 464.0 2545.4 465.9 2550.7 469.6 2584.1 485.0 2599.1 490.3 2606.6 491.3 2612.9 491.1 2620.4 489.4 2627.9 486.5 2654.9 470.9 2676.6 462.3 2682.9 459.3 2687.9 456.2 2692.9 451.9 2700.9 442.1 2707.0 432.1 2709.9 425.9 2712.9 417.1 2715.4 407.1 2716.8 398.4 2717.2 390.9 2716.4 383.4 2714.6 375.9 2711.6 366.9 2708.0 358.4 2704.6 352.1 2700.4 346.1 2695.7 340.9 2691.6 337.4 2686.6 334.4 2681.6 332.6 2656.6 327.6 2627.9 316.4 2620.4 314.1 2614.1 313.0 2606.6 312.6 2596.6 313.2 2579.1 317.2 2567.9 321.5 2540.4 335.2 2528.1 342.1 2520.6 348.4 2513.7 357.1 2509.1 366.9 2509.1 357.6 2510.8 354.6 2518.0 345.9 2522.3 342.1 2527.9 338.4 2560.4 321.7 2570.4 317.3 2591.6 311.1 2604.1 309.6Z" fill="#f8b1aa" stroke="#f8b1aa" stroke-width="0.7"/>
<path d="M2600.4 307.0 2612.9 306.5 2621.6 307.7 2629.1 309.8 2649.1 316.9 2659.1 319.5 2682.9 324.1 2689.1 326.0 2694.1 328.4 2699.7 332.1 2705.1 337.1 2710.1 343.4 2713.9 349.6 2717.9 358.3 2717.9 372.6 2713.5 359.6 2707.8 348.4 2700.4 338.9 2691.9 332.1 2687.9 330.1 2682.9 328.4 2652.9 321.9 2644.1 319.2 2625.4 312.1 2619.1 310.5 2612.9 309.6 2602.9 309.7 2592.9 310.8 2576.6 315.2 2564.1 319.9 2532.9 335.6 2525.4 340.0 2520.4 343.8 2515.6 348.4 2509.1 357.6 2509.1 350.5 2510.7 348.4 2518.2 340.9 2527.9 334.4 2557.6 319.6 2566.6 315.7 2589.1 308.9 2600.4 307.0ZM2717.8 408.4 2717.9 417.2 2713.0 428.4 2699.1 449.5 2691.6 457.6 2687.9 460.4 2681.6 464.0 2664.1 471.7 2630.4 490.0 2621.8 493.4 2614.1 495.0 2605.4 494.9 2595.4 492.7 2569.1 482.3 2550.4 472.5 2544.1 467.8 2537.8 464.6 2524.1 452.1 2515.3 442.1 2509.1 432.2 2509.1 425.9 2515.6 438.4 2523.2 448.4 2538.4 463.4 2540.4 464.9 2545.4 467.4 2549.1 470.4 2570.1 480.9 2595.4 491.1 2604.1 492.9 2612.9 493.1 2620.4 491.6 2627.9 488.8 2655.4 473.1 2679.1 463.2 2685.4 459.9 2690.4 456.4 2697.9 448.7 2709.6 430.9 2714.1 420.9 2717.8 408.4Z" fill="#f18b80" stroke="#f18b80" stroke-width="0.7"/>
<path d="M2597.9 304.5 2611.6 303.4 2621.6 304.4 2630.4 306.6 2659.1 315.9 2682.9 320.1 2694.1 323.6 2700.4 327.1 2705.3 330.9 2710.3 335.9 2714.1 340.9 2717.9 347.1 2717.9 358.3 2713.2 348.4 2707.3 339.6 2700.4 332.7 2692.9 327.7 2687.9 325.6 2681.6 323.8 2659.1 319.5 2649.1 316.9 2624.1 308.3 2612.9 306.5 2601.6 306.9 2591.6 308.3 2574.1 313.1 2563.0 317.1 2531.6 332.5 2524.1 336.6 2515.4 343.4 2509.1 350.5 2509.1 344.5 2510.1 343.4 2517.9 336.6 2527.9 330.5 2554.1 317.8 2564.4 313.4 2587.9 306.5 2597.9 304.5ZM2717.9 417.2 2717.9 423.2 2713.7 430.9 2699.1 452.2 2695.4 456.5 2690.4 460.9 2681.6 466.3 2667.1 473.4 2663.7 475.9 2657.9 481.8 2646.6 484.9 2625.4 494.5 2614.1 496.9 2605.4 496.7 2596.6 494.7 2573.3 485.9 2560.4 479.7 2549.1 473.1 2544.1 468.9 2539.1 466.8 2534.1 463.4 2518.9 449.6 2513.5 443.4 2509.1 437.2 2509.1 432.2 2515.3 442.1 2524.1 452.1 2537.8 464.6 2544.1 467.8 2551.6 473.2 2571.5 483.4 2595.4 492.7 2605.4 494.9 2614.1 495.0 2621.6 493.5 2629.1 490.6 2663.3 472.1 2679.1 465.3 2689.1 459.6 2696.0 453.4 2701.7 445.9 2712.3 429.6 2717.9 417.2Z" fill="#ee7871" stroke="#ee7871" stroke-width="0.7"/>
<path d="M2605.4 300.9 2615.4 300.4 2625.4 301.8 2634.1 304.0 2662.9 313.4 2684.1 316.3 2695.4 319.6 2700.7 322.1 2706.4 325.9 2710.8 329.6 2715.3 334.6 2717.9 338.0 2717.9 347.1 2712.9 339.2 2706.7 332.1 2700.4 327.1 2692.9 323.1 2682.9 320.1 2659.1 315.9 2625.4 305.2 2612.9 303.4 2601.6 304.1 2591.6 305.6 2572.9 310.6 2561.6 314.5 2524.1 332.5 2515.5 338.4 2509.1 344.5 2509.1 339.0 2516.6 332.9 2526.6 327.0 2550.2 315.9 2561.6 311.2 2571.6 308.0 2591.6 302.9 2605.4 300.9ZM2717.9 423.2 2717.9 427.8 2716.7 429.6 2701.6 451.6 2697.1 457.1 2692.9 461.2 2687.9 465.0 2669.3 475.9 2661.6 484.6 2657.9 486.6 2645.4 489.0 2625.4 496.9 2615.4 498.8 2606.6 498.7 2597.9 496.7 2572.9 487.4 2561.6 482.0 2550.4 475.3 2544.1 470.0 2537.4 467.1 2531.8 463.4 2518.6 452.1 2509.1 441.3 2509.1 437.2 2513.5 443.4 2518.9 449.6 2534.1 463.4 2539.1 466.8 2544.1 468.9 2550.4 473.9 2562.9 481.0 2574.1 486.2 2596.6 494.7 2605.4 496.7 2614.1 496.9 2625.4 494.5 2646.6 484.9 2657.9 481.8 2663.7 475.9 2667.1 473.4 2681.6 466.3 2689.1 461.8 2695.4 456.5 2700.1 450.9 2713.7 430.9 2717.9 423.2Z" fill="#eb6561" stroke="#eb6561" stroke-width="0.7"/>
<path d="M2611.6 297.1 2619.1 297.3 2630.4 299.2 2652.9 305.7 2664.1 310.1 2684.1 312.3 2696.6 315.5 2707.3 320.9 2716.2 328.4 2717.9 330.2 2717.9 338.0 2712.9 331.8 2706.6 326.1 2700.4 322.0 2692.9 318.6 2682.9 316.1 2662.9 313.4 2630.4 302.9 2620.4 300.9 2612.9 300.3 2600.4 301.4 2591.6 302.9 2570.4 308.3 2560.4 311.6 2547.4 317.1 2524.1 328.4 2515.9 333.4 2509.1 339.0 2509.1 333.8 2516.6 328.4 2529.1 321.6 2552.9 311.0 2566.6 306.3 2590.4 300.3 2611.6 297.1ZM2717.9 427.8 2717.9 431.6 2709.9 442.1 2702.5 453.4 2697.9 459.1 2690.4 465.7 2672.9 477.1 2662.9 487.6 2657.9 489.9 2644.1 492.8 2626.6 498.8 2616.6 500.7 2607.9 500.6 2599.1 498.8 2572.9 489.0 2564.1 485.0 2550.4 476.7 2542.9 470.4 2536.6 468.0 2529.3 463.4 2517.1 453.4 2509.1 445.0 2509.1 441.3 2518.6 452.1 2531.8 463.4 2537.4 467.1 2544.1 470.0 2550.4 475.3 2564.1 483.4 2574.1 487.9 2599.1 497.1 2607.9 498.8 2615.4 498.8 2625.4 496.9 2645.4 489.0 2657.9 486.6 2660.4 485.5 2662.8 483.4 2666.7 478.4 2670.4 475.1 2687.9 465.0 2695.9 458.4 2701.2 452.1 2717.9 427.8Z" fill="#e85252" stroke="#e85252" stroke-width="0.7"/>
<path d="M2605.4 294.6 2615.4 293.6 2629.1 295.2 2650.4 300.7 2665.4 306.1 2685.4 308.3 2696.6 310.8 2707.9 315.8 2716.6 322.1 2717.9 323.3 2717.9 330.2 2712.9 325.2 2707.3 320.9 2700.6 317.1 2694.1 314.6 2682.9 312.1 2664.1 310.1 2652.9 305.7 2634.1 300.1 2621.6 297.7 2614.1 297.1 2606.6 297.7 2591.6 300.0 2569.1 305.6 2559.1 308.7 2545.4 314.2 2525.4 323.5 2516.6 328.4 2509.1 333.8 2509.1 328.8 2514.1 325.3 2526.6 318.6 2546.6 309.8 2557.9 305.6 2567.9 302.6 2591.6 296.9 2605.4 294.6ZM2717.9 431.6 2717.9 435.1 2699.1 460.5 2691.6 467.4 2676.3 478.4 2664.8 489.6 2661.6 491.6 2656.6 493.4 2644.1 496.0 2626.6 501.2 2617.9 502.6 2609.1 502.6 2600.4 500.8 2572.9 490.6 2565.4 487.3 2550.4 478.2 2542.9 471.7 2534.6 468.4 2528.5 464.6 2517.1 455.9 2509.1 448.3 2509.1 445.0 2518.5 454.6 2531.0 464.6 2536.6 468.0 2542.9 470.4 2550.4 476.7 2566.6 486.2 2600.4 499.1 2607.9 500.6 2616.6 500.7 2626.6 498.8 2644.1 492.8 2657.9 489.9 2662.9 487.6 2672.9 477.1 2689.1 466.6 2696.6 460.3 2702.5 453.4 2709.9 442.1 2717.9 431.6Z" fill="#e02f2f" stroke="#e02f2f" stroke-width="0.7"/>
<path d="M2600.4 291.9 2606.5 290.9 2627.9 291.1 2644.1 294.5 2667.9 301.8 2686.6 304.0 2695.4 305.8 2701.6 307.7 2707.9 310.4 2717.9 316.8 2717.9 323.3 2712.9 319.1 2707.9 315.8 2701.6 312.7 2695.4 310.4 2685.4 308.3 2666.6 306.3 2652.9 301.4 2635.4 296.5 2622.9 294.2 2614.1 293.6 2592.9 296.7 2567.9 302.6 2557.9 305.6 2545.4 310.3 2526.6 318.6 2516.6 323.8 2509.1 328.8 2509.1 323.8 2510.4 322.9 2522.9 315.9 2540.4 308.2 2551.6 304.0 2562.9 300.5 2600.4 291.9ZM2717.9 435.1 2717.9 438.5 2700.4 462.0 2692.9 469.1 2679.4 479.6 2666.6 491.8 2661.6 494.6 2656.6 496.3 2627.9 503.3 2619.1 504.6 2609.1 504.4 2600.4 502.6 2565.4 488.9 2552.9 481.5 2541.6 472.5 2532.9 469.0 2525.7 464.6 2517.2 458.4 2509.1 451.3 2509.1 448.3 2517.1 455.9 2528.5 464.6 2534.6 468.4 2542.9 471.7 2551.6 479.0 2559.1 483.9 2566.6 487.9 2600.4 500.8 2609.1 502.6 2617.9 502.6 2626.6 501.2 2644.1 496.0 2656.6 493.4 2660.4 492.2 2664.1 490.2 2667.8 487.1 2676.3 478.4 2691.6 467.4 2697.9 461.8 2702.9 455.9 2711.6 443.2 2717.9 435.1Z" fill="#e02c2c" stroke="#e02c2c" stroke-width="0.7"/>
<path d="M2584.1 291.9 2588.2 290.9 2606.5 290.9 2591.6 293.7 2569.1 298.9 2553.2 303.4 2526.6 314.1 2516.6 319.1 2509.1 323.8 2509.1 318.7 2518.5 313.4 2530.4 308.0 2555.4 298.9 2584.1 291.9ZM2626.6 290.9 2647.2 290.9 2669.1 297.1 2689.1 299.7 2699.1 301.9 2709.1 305.6 2717.9 310.5 2717.9 316.8 2707.9 310.4 2696.6 306.1 2686.6 304.0 2667.9 301.8 2642.9 294.2 2626.6 290.9ZM2717.9 438.5 2717.9 442.0 2701.6 463.7 2695.4 469.9 2682.3 480.9 2671.6 491.2 2667.1 494.6 2662.9 497.0 2657.9 498.9 2632.9 504.6 2618.0 504.6 2627.9 503.3 2655.4 496.7 2660.4 495.1 2665.4 492.6 2669.2 489.6 2679.4 479.6 2692.9 469.1 2699.1 463.4 2704.4 457.1 2717.9 438.5ZM2510.0 452.1 2517.2 458.4 2525.7 464.7 2532.9 469.0 2541.6 472.5 2551.6 480.6 2564.1 488.3 2571.6 491.7 2597.9 501.8 2605.4 503.8 2611.8 504.6 2600.4 504.4 2572.9 493.9 2564.1 490.0 2552.9 483.1 2541.6 474.1 2530.4 469.2 2520.9 463.4 2509.1 454.1 2509.1 451.3 2510.0 452.1Z" fill="#e02929" stroke="#e02929" stroke-width="0.7"/>
<path d="M2566.6 292.0 2571.7 290.9 2588.2 290.9 2561.6 297.1 2546.6 301.7 2524.1 310.7 2509.1 318.7 2509.1 313.6 2520.4 307.7 2544.1 298.3 2566.6 292.0ZM2647.9 290.9 2665.1 290.9 2691.6 295.2 2700.4 297.1 2709.1 300.1 2717.9 304.4 2717.9 310.5 2709.1 305.6 2699.1 301.9 2689.1 299.7 2667.9 296.8 2647.9 290.9ZM2717.9 442.0 2717.9 445.6 2702.9 465.5 2696.6 471.9 2670.4 495.7 2662.9 499.9 2652.9 503.0 2645.4 504.6 2632.9 504.6 2657.9 498.9 2664.1 496.4 2668.9 493.4 2700.4 465.1 2706.0 458.4 2717.9 442.0ZM2509.7 454.6 2522.8 464.6 2531.2 469.6 2541.6 474.1 2550.4 481.4 2561.6 488.7 2571.6 493.4 2601.3 504.6 2595.9 504.6 2570.4 494.6 2561.6 490.4 2551.6 484.0 2540.4 475.1 2528.0 469.6 2517.8 463.4 2509.1 456.8 2509.1 454.1 2509.7 454.6Z" fill="#e02727" stroke="#e02727" stroke-width="0.7"/>
<path d="M2550.4 292.0 2554.5 290.9 2571.7 290.9 2554.1 295.2 2539.1 300.1 2522.9 306.6 2509.1 313.6 2509.1 308.4 2511.6 307.1 2529.1 299.2 2550.4 292.0ZM2665.4 290.9 2696.9 290.9 2700.4 291.7 2709.1 294.4 2717.8 298.2 2717.9 304.4 2709.1 300.1 2699.1 296.8 2665.4 290.9ZM2717.9 445.6 2717.9 449.5 2704.4 467.1 2696.6 475.3 2674.5 495.9 2666.6 501.1 2657.9 504.5 2645.4 504.6 2655.4 502.4 2661.6 500.4 2667.9 497.3 2672.9 493.7 2701.6 466.9 2707.7 459.7 2717.9 445.6ZM2509.5 457.1 2517.8 463.4 2525.4 468.2 2540.4 475.1 2551.6 484.0 2561.6 490.4 2570.4 494.6 2595.9 504.6 2591.3 504.6 2570.4 496.3 2561.6 492.1 2552.9 486.6 2540.4 476.9 2526.6 470.6 2516.5 464.6 2509.1 459.3 2509.1 456.8 2509.5 457.1Z" fill="#e02424" stroke="#e02424" stroke-width="0.7"/>
<path d="M2510.4 290.9 2554.5 290.9 2541.6 294.7 2529.1 299.2 2517.9 304.0 2509.1 308.4 2509.1 290.9 2510.4 290.9ZM2697.9 290.9 2717.9 290.9 2717.8 298.2 2709.1 294.4 2697.9 290.9ZM2717.9 449.5 2717.9 504.6 2657.5 504.6 2667.9 500.4 2672.9 497.2 2677.9 493.0 2702.9 468.9 2708.5 462.1 2717.9 449.5ZM2509.5 459.6 2524.1 469.3 2540.3 476.9 2552.9 486.6 2561.6 492.1 2570.4 496.3 2591.3 504.6 2509.1 504.6 2509.1 459.3 2509.5 459.6Z" fill="#e02121" stroke="#e02121" stroke-width="0.7"/>
<path d="M2585.4 379.5 2580.7 380.9 2575.6 383.4 2572.0 385.9 2568.1 389.6 2561.6 399.2 2559.3 403.4 2557.5 408.4 2556.9 413.4 2557.2 417.1 2558.3 420.9 2560.4 424.5 2562.9 427.6 2569.4 433.4 2585.8 444.6 2594.1 448.5 2597.9 449.5 2601.6 449.9 2610.3 449.5 2619.1 448.1 2624.1 446.9 2629.1 445.2 2632.9 443.4 2645.4 435.2 2658.9 427.1 2660.5 425.9 2662.6 423.4 2663.7 420.9 2664.2 417.1 2663.5 413.4 2661.3 408.4 2655.5 399.6 2649.1 390.9 2645.4 387.1 2641.6 384.5 2636.6 382.6 2631.6 381.8 2626.6 381.6 2616.6 382.3 2610.4 382.0 2601.6 379.2 2599.1 378.8 2592.9 378.7 2585.4 379.5M2601.6 359.6 2591.6 362.0 2570.4 369.1 2561.6 372.8 2554.1 377.3 2548.9 382.1 2546.9 384.7 2542.7 392.1 2541.9 394.6 2541.3 399.6 2541.5 409.6 2542.0 413.4 2543.3 418.4 2547.9 427.9 2552.9 434.7 2559.1 440.2 2565.6 444.6 2584.1 455.7 2591.7 459.6 2594.8 460.9 2601.6 462.7 2606.6 463.1 2610.4 463.0 2615.6 462.1 2625.4 458.9 2632.9 455.1 2646.7 445.9 2651.6 443.5 2665.4 437.8 2670.6 434.6 2674.1 431.4 2678.2 424.6 2680.2 417.1 2680.2 412.1 2679.1 407.1 2676.5 399.6 2674.1 394.6 2667.6 384.6 2662.9 378.4 2657.9 373.4 2655.4 371.6 2649.1 368.1 2637.9 362.9 2626.6 359.6 2615.4 358.5 2606.6 358.9 2601.6 359.6M2614.1 340.9 2607.9 341.3 2600.4 342.5 2586.6 346.4 2562.9 354.7 2555.4 358.0 2550.4 360.7 2545.4 364.3 2542.2 367.1 2535.1 375.9 2532.1 380.9 2529.7 385.9 2528.2 390.9 2527.7 394.6 2528.1 400.9 2530.0 410.9 2534.1 424.8 2536.3 429.6 2539.3 434.6 2542.3 438.4 2547.3 443.4 2551.6 447.0 2557.9 451.0 2585.4 466.8 2597.9 471.9 2601.6 472.8 2607.9 473.5 2611.6 473.4 2617.9 472.4 2626.6 469.5 2650.4 456.1 2654.1 454.5 2665.1 450.9 2669.1 449.1 2672.9 446.9 2677.6 443.4 2681.7 439.6 2687.1 433.4 2688.7 430.9 2694.0 417.1 2695.3 410.9 2695.9 405.9 2695.7 399.6 2694.3 394.6 2690.4 389.6 2685.0 379.6 2682.5 375.9 2675.4 367.5 2670.4 362.8 2665.8 359.6 2660.9 357.1 2649.1 352.4 2632.9 344.6 2627.9 342.9 2622.9 341.7 2614.1 340.9M2599.1 323.4 2586.6 324.7 2580.9 325.9 2577.9 327.0 2572.7 329.6 2562.9 335.6 2552.9 339.6 2544.1 344.0 2537.9 348.0 2532.9 351.8 2528.8 355.9 2525.4 360.3 2522.7 364.6 2519.8 370.9 2517.9 376.9 2516.5 383.4 2515.3 390.9 2515.2 397.1 2516.3 405.9 2517.9 413.6 2520.1 422.1 2522.3 428.4 2525.2 434.6 2528.0 439.6 2533.4 447.1 2536.8 450.9 2542.9 456.2 2549.1 460.2 2585.4 478.6 2592.9 481.6 2599.1 483.5 2605.4 484.6 2610.4 484.7 2617.9 483.3 2626.6 480.1 2632.9 477.2 2650.4 466.8 2677.6 455.9 2684.1 452.2 2692.9 445.0 2697.9 439.3 2700.8 434.6 2702.7 429.6 2704.5 422.1 2706.8 409.6 2707.9 399.6 2707.9 393.4 2707.3 389.6 2706.0 385.9 2699.1 370.9 2695.8 364.6 2692.5 359.6 2688.6 354.6 2684.1 350.2 2680.4 347.3 2677.9 346.0 2675.4 345.2 2663.2 344.6 2657.9 343.8 2655.4 343.1 2649.5 339.6 2640.3 332.1 2634.1 328.8 2629.1 327.1 2620.4 324.9 2614.1 323.8 2606.6 323.2 2599.1 323.4M2717.9 372.6 2713.5 359.6 2707.8 348.4 2705.2 344.6 2700.4 338.9 2692.9 332.7 2690.4 331.3 2685.4 329.2 2675.4 326.5 2655.4 322.6 2644.1 319.2 2624.1 311.7 2613.8 309.6 2605.4 309.6 2592.5 310.9 2577.9 314.8 2564.1 319.9 2532.2 335.9 2525.4 340.0 2522.3 342.1 2516.8 347.1 2512.6 352.1 2509.1 357.6M2509.1 425.9 2514.1 436.0 2519.1 443.4 2525.6 450.9 2539.9 464.6 2545.4 467.4 2548.1 469.6 2551.6 471.7 2564.8 478.4 2582.9 486.4 2596.6 491.5 2600.4 492.4 2607.9 493.3 2612.9 493.1 2621.6 491.2 2627.9 488.8 2636.6 484.2 2654.7 473.4 2665.8 468.4 2677.9 463.8 2685.8 459.6 2690.4 456.4 2697.1 449.6 2701.7 443.4 2709.1 431.7 2713.6 422.1 2717.8 408.4M2717.9 330.2 2712.9 325.2 2707.3 320.9 2700.6 317.1 2694.1 314.6 2682.9 312.1 2665.4 310.4 2662.9 309.7 2652.9 305.7 2634.1 300.1 2619.1 297.3 2612.9 297.1 2602.9 298.2 2591.6 300.0 2569.1 305.6 2559.1 308.7 2546.6 313.7 2526.6 322.9 2517.9 327.6 2509.1 333.8M2509.1 445.0 2515.8 452.1 2529.3 463.4 2535.4 467.4 2542.9 470.4 2550.4 476.7 2561.6 483.7 2572.9 489.0 2598.0 498.4 2605.4 500.3 2609.1 500.7 2616.6 500.7 2624.1 499.5 2628.1 498.4 2645.4 492.4 2657.9 489.9 2661.6 488.4 2664.8 485.9 2672.9 477.1 2690.1 465.9 2697.3 459.6 2701.6 454.6 2710.4 441.6 2717.9 431.6" fill="none" stroke="#0a0a0a" stroke-width="3.6" stroke-linejoin="round" stroke-linecap="round"/>
</g>
<ellipse cx="2613.3" cy="397.7" rx="100.2" ry="102.8" fill="none" stroke="#0a0a0a" stroke-width="1.4"/>
<path d="M2601.1000000000004 287.2 L2594.8 296.4 M2625.5 287.2 L2632.8 296.4" stroke="#0a0a0a" stroke-width="4.4" stroke-linecap="round" fill="none"/>
<path d="M2511.6 376.7 Q2507.1 369.7 2501.6 374.2 M2511.6 422.2 Q2507.1 428.7 2501.6 423.7" stroke="#0a0a0a" stroke-width="3.6" stroke-linecap="round" fill="none"/>
<path d="M2715.0 376.7 Q2719.5 369.7 2725.0 374.2 M2715.0 422.2 Q2719.5 428.7 2725.0 423.7" stroke="#0a0a0a" stroke-width="3.6" stroke-linecap="round" fill="none"/>
<defs><linearGradient id="cb" x1="0" x2="1" y1="0" y2="0"><stop offset="0" stop-color="#00004d"/><stop offset="0.097" stop-color="#0a2580"/><stop offset="0.189" stop-color="#2a50a0"/><stop offset="0.281" stop-color="#5575c0"/><stop offset="0.373" stop-color="#88a8de"/><stop offset="0.429" stop-color="#b8cdf0"/><stop offset="0.465" stop-color="#dde8f8"/><stop offset="0.5" stop-color="#ffffff"/><stop offset="0.535" stop-color="#fbd5d0"/><stop offset="0.604" stop-color="#f0988c"/><stop offset="0.668" stop-color="#e35050"/><stop offset="0.742" stop-color="#d41515"/><stop offset="0.834" stop-color="#b00810"/><stop offset="0.926" stop-color="#800510"/><stop offset="1" stop-color="#5a0008"/></linearGradient></defs>
<g font-family="Liberation Serif, serif" font-size="62.5" fill="#000" stroke="#000" stroke-width="1.0">
<rect x="1158.8" y="538.6" width="129.5" height="21.5" fill="url(#cb)" stroke="none"/>
<text x="1111.2" y="572.0">0</text>
<text x="1294.7" y="572.0">5</text>
<text x="1074.2" y="640.2">Power (dB)</text>
<text x="1231.3" y="242.8" text-anchor="middle">δ</text>
<rect x="1502.5" y="538.6" width="129.9" height="21.5" fill="url(#cb)" stroke="none"/>
<text x="1449.0" y="572.0">6</text>
<rect x="1415.2" y="549.0" width="33.0" height="3.0" fill="#000"/>
<text x="1639.6" y="572.0">0</text>
<text x="1416.7" y="640.2">Power (dB)</text>
<text x="1575" y="242.8" text-anchor="middle">θ</text>
<rect x="1846.8" y="538.6" width="129.5" height="21.5" fill="url(#cb)" stroke="none"/>
<text x="1790.7" y="572.0">5</text>
<rect x="1756.9" y="549.0" width="33.0" height="3.0" fill="#000"/>
<text x="1990.9" y="572.0">0</text>
<text x="1759.0" y="640.2">Power (dB)</text>
<text x="1920.5" y="242.8" text-anchor="middle">α</text>
<rect x="2192.8" y="538.6" width="129.2" height="21.5" fill="url(#cb)" stroke="none"/>
<text x="2101.6" y="564.9">12</text>
<rect x="2067.8" y="541.9" width="33.0" height="3.0" fill="#000"/>
<text x="2364.2" y="564.9">5</text>
<rect x="2330.4" y="541.9" width="33.0" height="3.0" fill="#000"/>
<text x="2111.8" y="640.2">Power (dB)</text>
<text x="2265.5" y="242.8" text-anchor="middle">β</text>
<rect x="2557.4" y="538.6" width="128.9" height="21.5" fill="url(#cb)" stroke="none"/>
<text x="2483.9" y="564.9">22</text>
<rect x="2450.1" y="541.9" width="33.0" height="3.0" fill="#000"/>
<text x="2745.6" y="564.9">12</text>
<rect x="2711.8" y="541.9" width="33.0" height="3.0" fill="#000"/>
<text x="2488.2" y="640.2">Power (dB)</text>
<text x="2612.5" y="242.8" text-anchor="middle">γ</text>
<rect x="2577.8" y="538.6" width="1.2" height="21.5" fill="#fff" stroke="none"/>
</g>
<defs>
<pattern id="hx" width="50" height="50" patternUnits="userSpaceOnUse" patternTransform="translate(42.1 24)">
<path d="M-5 -5 L55 55 M-5 55 L55 -5" stroke="#1e1412" stroke-width="3.3" fill="none"/></pattern>
<pattern id="hd" width="50" height="50" patternUnits="userSpaceOnUse" patternTransform="translate(41.6 0)">
<path d="M-5 55 L55 -5 M-5 5 L5 -5 M45 55 L55 45" stroke="#1e1412" stroke-width="3.2" fill="none"/></pattern>
</defs>
<path d="M356.5 2233.9 H1491.5" stroke="#000" stroke-width="3.8"/>
<rect x="420" y="1954.9" width="202.0" height="279.0" fill="#f8c8c4"/>
<rect x="420" y="1954.9" width="202.0" height="279.0" fill="url(#hx)"/>
<path d="M519.9 2233.9 V2214.1" stroke="#000" stroke-width="3.8"/>
<path d="M519.9 1955.9 V1814.2 M468.4 1814.2 H571.4" stroke="#000" stroke-width="3.8" fill="none"/>
<rect x="420" y="1954.9" width="202.0" height="279.0" fill="none" stroke="#828084" stroke-width="3.7"/>
<rect x="823" y="1871.8" width="202.2" height="362.1" fill="#c9ddd0"/>
<rect x="823" y="1871.8" width="202.2" height="362.1" fill="url(#hd)"/>
<path d="M923.3 2233.9 V2214.1" stroke="#000" stroke-width="3.8"/>
<path d="M923.3 1872.8 V1717.5 M871.8 1717.5 H974.8" stroke="#000" stroke-width="3.8" fill="none"/>
<rect x="823" y="1871.8" width="202.2" height="362.1" fill="none" stroke="#828084" stroke-width="3.7"/>
<rect x="1226" y="1642" width="202.1" height="591.9" fill="#bfcdee"/>
<path d="M1326 2233.9 V2214.1" stroke="#000" stroke-width="3.8"/>
<path d="M1326 1643 V1470.9 M1274.5 1470.9 H1377.5" stroke="#000" stroke-width="3.8" fill="none"/>
<rect x="1226" y="1642" width="202.1" height="591.9" fill="none" stroke="#828084" stroke-width="3.7"/>
<g stroke="#000" stroke-width="3.8" fill="none">
<path d="M363 1360.6999999999998 V2239.4"/>
<path d="M363 1362.6 H380.8"/>
<path d="M363 1580.5 H380.8"/>
<path d="M363 1798.7 H380.8"/>
<path d="M363 2016.9 H380.8"/>
<path d="M363 2233.9 H380.8"/>
<path d="M523.6 1356.1 H1329.5"/>
<path d="M918.9 1446 H1323"/>
</g>
<path d="M1812.7 2233.9 H2950" stroke="#000" stroke-width="3.8"/>
<rect x="1872" y="1969.1" width="204.0" height="264.8" fill="#eccaca"/>
<rect x="1872" y="1969.1" width="204.0" height="264.8" fill="url(#hx)"/>
<path d="M1973 2233.9 V2214.1" stroke="#000" stroke-width="3.8"/>
<path d="M1973 1970.1 V1850 M1921.5 1850 H2024.5" stroke="#000" stroke-width="3.8" fill="none"/>
<rect x="1872" y="1969.1" width="204.0" height="264.8" fill="none" stroke="#828084" stroke-width="3.7"/>
<rect x="2278" y="1923" width="204.0" height="310.9" fill="#c9ddd0"/>
<rect x="2278" y="1923" width="204.0" height="310.9" fill="url(#hd)"/>
<path d="M2380 2233.9 V2214.1" stroke="#000" stroke-width="3.8"/>
<path d="M2380 1924 V1788.9 M2328.5 1788.9 H2431.5" stroke="#000" stroke-width="3.8" fill="none"/>
<rect x="2278" y="1923" width="204.0" height="310.9" fill="none" stroke="#828084" stroke-width="3.7"/>
<rect x="2683.9" y="1733.1" width="205.1" height="500.8" fill="#bfcdee"/>
<path d="M2785.9 2233.9 V2214.1" stroke="#000" stroke-width="3.8"/>
<path d="M2785.9 1734.1 V1604 M2734.4 1604 H2837.4" stroke="#000" stroke-width="3.8" fill="none"/>
<rect x="2683.9" y="1733.1" width="205.1" height="500.8" fill="none" stroke="#828084" stroke-width="3.7"/>
<g stroke="#000" stroke-width="3.8" fill="none">
<path d="M1819.2 1360.1 V2239.4"/>
<path d="M1819.2 1362 H1837.0"/>
<path d="M1819.2 1652.6 H1837.0"/>
<path d="M1819.2 1943.3 H1837.0"/>
<path d="M1819.2 2233.9 H1837.0"/>
<path d="M1982.2 1460 H2789.4"/>
<path d="M2386 1549.9 H2789.4"/>
</g>
<g font-family="Liberation Serif, serif" font-size="62.5" fill="#000" stroke="#000" stroke-width="1.0">
<text x="206.3" y="1379.1">18.0</text>
<rect x="172.5" y="1356.1" width="33.0" height="3.0" fill="#000"/>
<text x="206.3" y="1597.0">18.5</text>
<rect x="172.5" y="1574.0" width="33.0" height="3.0" fill="#000"/>
<text x="206.3" y="1815.2">19.0</text>
<rect x="172.5" y="1792.2" width="33.0" height="3.0" fill="#000"/>
<text x="206.3" y="2033.4">19.5</text>
<rect x="172.5" y="2010.4" width="33.0" height="3.0" fill="#000"/>
<text x="206.3" y="2250.4">20.0</text>
<rect x="172.5" y="2227.4" width="33.0" height="3.0" fill="#000"/>
<text x="1722.1" y="1387.0">19</text>
<rect x="1688.3" y="1364.0" width="33.0" height="3.0" fill="#000"/>
<text x="1722.1" y="1677.6">20</text>
<rect x="1688.3" y="1654.6" width="33.0" height="3.0" fill="#000"/>
<text x="1722.1" y="1968.3">21</text>
<rect x="1688.3" y="1945.3" width="33.0" height="3.0" fill="#000"/>
<text x="1722.1" y="2258.9">22</text>
<rect x="1688.3" y="2235.9" width="33.0" height="3.0" fill="#000"/>
<text x="521" y="2305" text-anchor="middle">BB</text>
<text x="923" y="2305" text-anchor="middle">MB</text>
<text x="1327" y="2305" text-anchor="middle">WN</text>
<text x="1975.2" y="2305" text-anchor="middle">BB</text>
<text x="2380" y="2305" text-anchor="middle">MB</text>
<text x="2786" y="2305" text-anchor="middle">WN</text>
<text transform="translate(63.6 2184.7) rotate(-90)">γ power spectral density in the</text>
<text transform="translate(137.8 2158.7) rotate(-90)">right sensorimotor region/dB</text>
<text transform="translate(1583.9 2154) rotate(-90)">γ power spectral densityin</text>
<text transform="translate(1658 2066) rotate(-90)">the parietal lobe/dB</text>
</g>
<path transform="translate(0 0)" d="M910.4 1286.6 L901.9 1331.3 M923.3 1286.6 L915 1331.3 M897.8 1302.4 H928.1 M897.8 1315.5 H928.1" stroke="#000" stroke-width="3.1" fill="none"/>
<path transform="translate(228.9 100)" d="M910.4 1286.6 L901.9 1331.3 M923.3 1286.6 L915 1331.3 M897.8 1302.4 H928.1 M897.8 1315.5 H928.1" stroke="#000" stroke-width="3.1" fill="none"/>
<g transform="translate(2371 1437.2)" fill="#000"><path transform="rotate(0)" d="M0 0.4 L-2.7 -9.6 A2.9 2.9 0 1 1 2.7 -9.6 Z"/><path transform="rotate(60)" d="M0 0.4 L-2.7 -9.6 A2.9 2.9 0 1 1 2.7 -9.6 Z"/><path transform="rotate(120)" d="M0 0.4 L-2.7 -9.6 A2.9 2.9 0 1 1 2.7 -9.6 Z"/><path transform="rotate(180)" d="M0 0.4 L-2.7 -9.6 A2.9 2.9 0 1 1 2.7 -9.6 Z"/><path transform="rotate(240)" d="M0 0.4 L-2.7 -9.6 A2.9 2.9 0 1 1 2.7 -9.6 Z"/><path transform="rotate(300)" d="M0 0.4 L-2.7 -9.6 A2.9 2.9 0 1 1 2.7 -9.6 Z"/><circle r="2.2"/></g>
<g transform="translate(2576.9 1524.4)" fill="#000"><path transform="rotate(0)" d="M0 0.4 L-2.7 -9.6 A2.9 2.9 0 1 1 2.7 -9.6 Z"/><path transform="rotate(60)" d="M0 0.4 L-2.7 -9.6 A2.9 2.9 0 1 1 2.7 -9.6 Z"/><path transform="rotate(120)" d="M0 0.4 L-2.7 -9.6 A2.9 2.9 0 1 1 2.7 -9.6 Z"/><path transform="rotate(180)" d="M0 0.4 L-2.7 -9.6 A2.9 2.9 0 1 1 2.7 -9.6 Z"/><path transform="rotate(240)" d="M0 0.4 L-2.7 -9.6 A2.9 2.9 0 1 1 2.7 -9.6 Z"/><path transform="rotate(300)" d="M0 0.4 L-2.7 -9.6 A2.9 2.9 0 1 1 2.7 -9.6 Z"/><circle r="2.2"/></g>
<g>
</g>
</svg>
</body></html>
